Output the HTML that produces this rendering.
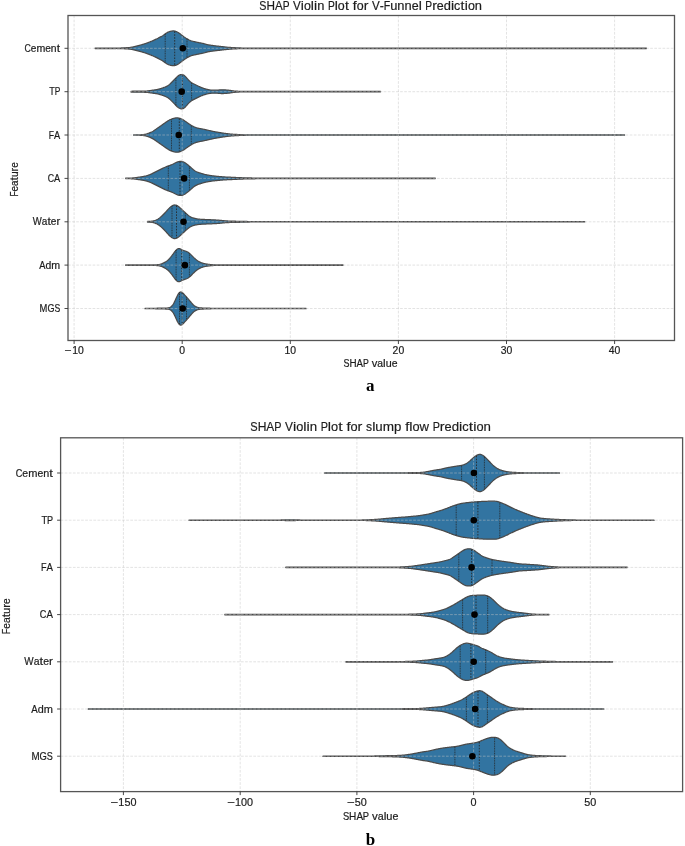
<!DOCTYPE html>
<html><head><meta charset="utf-8"><title>SHAP Violin Plots</title>
<style>
html,body{margin:0;padding:0;background:#fff;}
body{width:685px;height:846px;overflow:hidden;}
svg{display:block;filter:blur(0.3px);}
.tk{font-family:'Liberation Sans', sans-serif;font-size:9.9px;fill:#1c1c1c;stroke:#1c1c1c;stroke-width:0.2px;}
.ti{font-family:'Liberation Sans', sans-serif;font-size:11.3px;fill:#1c1c1c;stroke:#1c1c1c;stroke-width:0.18px;}
.pn{font-family:'Liberation Serif',serif;font-weight:bold;font-size:17px;fill:#000;}
</style></head><body>
<svg width="685" height="846" viewBox="0 0 685 846">
<rect width="685" height="846" fill="#fff"/>
<path d="M95.1,48.10 L116.1,48.10 L116.6,48.10 L117.1,48.09 L117.6,48.09 L118.1,48.08 L118.6,48.07 L119.1,48.06 L119.6,48.04 L120.1,48.02 L120.6,48.01 L121.1,47.99 L121.6,47.96 L122.1,47.94 L122.6,47.92 L123.1,47.89 L123.6,47.87 L124.1,47.85 L124.6,47.82 L125.1,47.79 L125.6,47.77 L126.1,47.74 L126.6,47.71 L127.1,47.68 L127.6,47.65 L128.1,47.62 L128.6,47.58 L129.1,47.54 L129.6,47.50 L130.1,47.45 L130.6,47.39 L131.1,47.32 L131.6,47.24 L132.1,47.15 L132.6,47.05 L133.1,46.94 L133.6,46.82 L134.1,46.69 L134.6,46.56 L135.1,46.43 L135.6,46.30 L136.1,46.17 L136.6,46.04 L137.1,45.91 L137.6,45.78 L138.1,45.66 L138.6,45.53 L139.1,45.40 L139.6,45.28 L140.1,45.15 L140.6,45.02 L141.1,44.88 L141.6,44.74 L142.1,44.60 L142.6,44.46 L143.1,44.31 L143.6,44.15 L144.1,43.99 L144.6,43.83 L145.1,43.67 L145.6,43.50 L146.1,43.32 L146.6,43.15 L147.1,42.97 L147.6,42.79 L148.1,42.60 L148.6,42.41 L149.1,42.22 L149.6,42.03 L150.1,41.83 L150.6,41.63 L151.1,41.43 L151.6,41.22 L152.1,41.01 L152.6,40.80 L153.1,40.58 L153.6,40.36 L154.1,40.13 L154.6,39.90 L155.1,39.67 L155.6,39.43 L156.1,39.18 L156.6,38.94 L157.1,38.69 L157.6,38.44 L158.1,38.18 L158.6,37.92 L159.1,37.67 L159.6,37.41 L160.1,37.15 L160.6,36.89 L161.1,36.62 L161.6,36.35 L162.1,36.06 L162.6,35.75 L163.1,35.42 L163.6,35.07 L164.1,34.71 L164.6,34.33 L165.1,33.97 L165.6,33.61 L166.1,33.27 L166.6,32.96 L167.1,32.67 L167.6,32.41 L168.1,32.17 L168.6,31.95 L169.1,31.76 L169.6,31.59 L170.1,31.44 L170.6,31.31 L171.1,31.19 L171.6,31.09 L172.1,31.01 L172.6,30.96 L173.1,30.94 L173.6,30.94 L174.1,30.98 L174.6,31.06 L175.1,31.17 L175.6,31.31 L176.1,31.49 L176.6,31.69 L177.1,31.93 L177.6,32.19 L178.1,32.48 L178.6,32.80 L179.1,33.14 L179.6,33.50 L180.1,33.87 L180.6,34.25 L181.1,34.64 L181.6,35.03 L182.1,35.42 L182.6,35.80 L183.1,36.18 L183.6,36.55 L184.1,36.91 L184.6,37.25 L185.1,37.59 L185.6,37.91 L186.1,38.23 L186.6,38.53 L187.1,38.82 L187.6,39.11 L188.1,39.40 L188.6,39.67 L189.1,39.94 L189.6,40.19 L190.1,40.43 L190.6,40.64 L191.1,40.83 L191.6,41.00 L192.1,41.14 L192.6,41.27 L193.1,41.39 L193.6,41.50 L194.1,41.60 L194.6,41.71 L195.1,41.81 L195.6,41.92 L196.1,42.03 L196.6,42.14 L197.1,42.25 L197.6,42.35 L198.1,42.46 L198.6,42.56 L199.1,42.67 L199.6,42.76 L200.1,42.86 L200.6,42.95 L201.1,43.04 L201.6,43.14 L202.1,43.24 L202.6,43.35 L203.1,43.47 L203.6,43.59 L204.1,43.73 L204.6,43.87 L205.1,44.02 L205.6,44.16 L206.1,44.30 L206.6,44.44 L207.1,44.56 L207.6,44.68 L208.1,44.78 L208.6,44.88 L209.1,44.97 L209.6,45.05 L210.1,45.13 L210.6,45.21 L211.1,45.28 L211.6,45.35 L212.1,45.42 L212.6,45.49 L213.1,45.55 L213.6,45.62 L214.1,45.68 L214.6,45.75 L215.1,45.81 L215.6,45.87 L216.1,45.94 L216.6,46.00 L217.1,46.06 L217.6,46.11 L218.1,46.17 L218.6,46.23 L219.1,46.29 L219.6,46.34 L220.1,46.40 L220.6,46.46 L221.1,46.51 L221.6,46.57 L222.1,46.63 L222.6,46.68 L223.1,46.74 L223.6,46.80 L224.1,46.86 L224.6,46.92 L225.1,46.98 L225.6,47.04 L226.1,47.09 L226.6,47.15 L227.1,47.20 L227.6,47.25 L228.1,47.30 L228.6,47.34 L229.1,47.38 L229.6,47.42 L230.1,47.46 L230.6,47.49 L231.1,47.52 L231.6,47.55 L232.1,47.58 L232.6,47.61 L233.1,47.64 L233.6,47.66 L234.1,47.69 L234.6,47.71 L235.1,47.74 L235.6,47.76 L236.1,47.78 L236.6,47.80 L237.1,47.82 L237.6,47.85 L238.1,47.87 L238.6,47.89 L239.1,47.91 L239.6,47.93 L240.1,47.94 L240.6,47.96 L241.1,47.98 L241.6,48.00 L242.1,48.01 L242.6,48.03 L243.1,48.04 L243.6,48.06 L244.1,48.07 L244.6,48.08 L245.1,48.09 L245.6,48.09 L246.1,48.10 L246.6,48.10 L247.1,48.10 L646.4,48.10 L646.4,48.50 L247.1,48.50 L246.6,48.50 L246.1,48.50 L245.6,48.51 L245.1,48.51 L244.6,48.52 L244.1,48.53 L243.6,48.54 L243.1,48.56 L242.6,48.57 L242.1,48.59 L241.6,48.60 L241.1,48.62 L240.6,48.64 L240.1,48.66 L239.6,48.67 L239.1,48.69 L238.6,48.71 L238.1,48.73 L237.6,48.75 L237.1,48.78 L236.6,48.80 L236.1,48.82 L235.6,48.84 L235.1,48.86 L234.6,48.89 L234.1,48.91 L233.6,48.94 L233.1,48.96 L232.6,48.99 L232.1,49.02 L231.6,49.05 L231.1,49.08 L230.6,49.11 L230.1,49.14 L229.6,49.18 L229.1,49.22 L228.6,49.26 L228.1,49.30 L227.6,49.35 L227.1,49.40 L226.6,49.45 L226.1,49.51 L225.6,49.56 L225.1,49.62 L224.6,49.68 L224.1,49.74 L223.6,49.80 L223.1,49.86 L222.6,49.92 L222.1,49.97 L221.6,50.03 L221.1,50.09 L220.6,50.14 L220.1,50.20 L219.6,50.26 L219.1,50.31 L218.6,50.37 L218.1,50.43 L217.6,50.49 L217.1,50.54 L216.6,50.60 L216.1,50.66 L215.6,50.73 L215.1,50.79 L214.6,50.85 L214.1,50.92 L213.6,50.98 L213.1,51.05 L212.6,51.11 L212.1,51.18 L211.6,51.25 L211.1,51.32 L210.6,51.39 L210.1,51.47 L209.6,51.55 L209.1,51.63 L208.6,51.72 L208.1,51.82 L207.6,51.92 L207.1,52.04 L206.6,52.16 L206.1,52.30 L205.6,52.44 L205.1,52.58 L204.6,52.73 L204.1,52.87 L203.6,53.01 L203.1,53.13 L202.6,53.25 L202.1,53.36 L201.6,53.46 L201.1,53.56 L200.6,53.65 L200.1,53.74 L199.6,53.84 L199.1,53.93 L198.6,54.04 L198.1,54.14 L197.6,54.25 L197.1,54.35 L196.6,54.46 L196.1,54.57 L195.6,54.68 L195.1,54.79 L194.6,54.89 L194.1,55.00 L193.6,55.10 L193.1,55.21 L192.6,55.33 L192.1,55.46 L191.6,55.60 L191.1,55.77 L190.6,55.96 L190.1,56.17 L189.6,56.41 L189.1,56.66 L188.6,56.93 L188.1,57.20 L187.6,57.49 L187.1,57.78 L186.6,58.07 L186.1,58.37 L185.6,58.69 L185.1,59.01 L184.6,59.35 L184.1,59.69 L183.6,60.05 L183.1,60.42 L182.6,60.80 L182.1,61.18 L181.6,61.57 L181.1,61.96 L180.6,62.35 L180.1,62.73 L179.6,63.10 L179.1,63.46 L178.6,63.80 L178.1,64.12 L177.6,64.41 L177.1,64.67 L176.6,64.91 L176.1,65.11 L175.6,65.29 L175.1,65.43 L174.6,65.54 L174.1,65.62 L173.6,65.66 L173.1,65.66 L172.6,65.64 L172.1,65.59 L171.6,65.51 L171.1,65.41 L170.6,65.29 L170.1,65.16 L169.6,65.01 L169.1,64.84 L168.6,64.65 L168.1,64.43 L167.6,64.19 L167.1,63.93 L166.6,63.64 L166.1,63.33 L165.6,62.99 L165.1,62.63 L164.6,62.27 L164.1,61.89 L163.6,61.53 L163.1,61.18 L162.6,60.85 L162.1,60.54 L161.6,60.25 L161.1,59.98 L160.6,59.71 L160.1,59.45 L159.6,59.19 L159.1,58.93 L158.6,58.68 L158.1,58.42 L157.6,58.16 L157.1,57.91 L156.6,57.66 L156.1,57.42 L155.6,57.17 L155.1,56.93 L154.6,56.70 L154.1,56.47 L153.6,56.24 L153.1,56.02 L152.6,55.80 L152.1,55.59 L151.6,55.38 L151.1,55.17 L150.6,54.97 L150.1,54.77 L149.6,54.57 L149.1,54.38 L148.6,54.19 L148.1,54.00 L147.6,53.81 L147.1,53.63 L146.6,53.45 L146.1,53.28 L145.6,53.10 L145.1,52.93 L144.6,52.77 L144.1,52.61 L143.6,52.45 L143.1,52.29 L142.6,52.14 L142.1,52.00 L141.6,51.86 L141.1,51.72 L140.6,51.58 L140.1,51.45 L139.6,51.32 L139.1,51.20 L138.6,51.07 L138.1,50.94 L137.6,50.82 L137.1,50.69 L136.6,50.56 L136.1,50.43 L135.6,50.30 L135.1,50.17 L134.6,50.04 L134.1,49.91 L133.6,49.78 L133.1,49.66 L132.6,49.55 L132.1,49.45 L131.6,49.36 L131.1,49.28 L130.6,49.21 L130.1,49.15 L129.6,49.10 L129.1,49.06 L128.6,49.02 L128.1,48.98 L127.6,48.95 L127.1,48.92 L126.6,48.89 L126.1,48.86 L125.6,48.83 L125.1,48.81 L124.6,48.78 L124.1,48.75 L123.6,48.73 L123.1,48.71 L122.6,48.68 L122.1,48.66 L121.6,48.64 L121.1,48.61 L120.6,48.59 L120.1,48.58 L119.6,48.56 L119.1,48.54 L118.6,48.53 L118.1,48.52 L117.6,48.51 L117.1,48.51 L116.6,48.50 L116.1,48.50 L115.1,48.50 L95.1,48.50Z" fill="#3274a1" stroke="#4a4a4a" stroke-width="1.25" stroke-linejoin="round"/>
<path d="M131.0,91.29 L131.5,91.27 L132.0,91.26 L132.5,91.24 L133.0,91.23 L133.5,91.21 L134.0,91.20 L134.5,91.19 L135.0,91.18 L135.5,91.17 L136.0,91.16 L136.5,91.15 L137.0,91.15 L137.5,91.14 L138.0,91.14 L138.5,91.14 L139.0,91.13 L139.5,91.13 L140.0,91.13 L140.5,91.12 L141.0,91.12 L141.5,91.12 L142.0,91.11 L142.5,91.11 L143.0,91.10 L143.5,91.10 L144.0,91.09 L144.5,91.08 L145.0,91.07 L145.5,91.06 L146.0,91.03 L146.5,91.00 L147.0,90.97 L147.5,90.92 L148.0,90.86 L148.5,90.80 L149.0,90.73 L149.5,90.66 L150.0,90.58 L150.5,90.51 L151.0,90.43 L151.5,90.36 L152.0,90.29 L152.5,90.22 L153.0,90.15 L153.5,90.08 L154.0,90.01 L154.5,89.94 L155.0,89.87 L155.5,89.80 L156.0,89.72 L156.5,89.63 L157.0,89.54 L157.5,89.44 L158.0,89.33 L158.5,89.21 L159.0,89.08 L159.5,88.94 L160.0,88.79 L160.5,88.64 L161.0,88.48 L161.5,88.32 L162.0,88.15 L162.5,87.98 L163.0,87.81 L163.5,87.63 L164.0,87.45 L164.5,87.26 L165.0,87.07 L165.5,86.86 L166.0,86.64 L166.5,86.39 L167.0,86.13 L167.5,85.84 L168.0,85.52 L168.5,85.18 L169.0,84.80 L169.5,84.39 L170.0,83.95 L170.5,83.48 L171.0,83.00 L171.5,82.50 L172.0,82.00 L172.5,81.49 L173.0,80.98 L173.5,80.48 L174.0,79.96 L174.5,79.44 L175.0,78.91 L175.5,78.37 L176.0,77.84 L176.5,77.33 L177.0,76.84 L177.5,76.39 L178.0,75.98 L178.5,75.62 L179.0,75.30 L179.5,75.04 L180.0,74.82 L180.5,74.66 L181.0,74.56 L181.5,74.51 L182.0,74.53 L182.5,74.62 L183.0,74.77 L183.5,75.00 L184.0,75.30 L184.5,75.67 L185.0,76.11 L185.5,76.60 L186.0,77.15 L186.5,77.72 L187.0,78.30 L187.5,78.87 L188.0,79.42 L188.5,79.96 L189.0,80.47 L189.5,80.95 L190.0,81.41 L190.5,81.83 L191.0,82.22 L191.5,82.57 L192.0,82.89 L192.5,83.18 L193.0,83.45 L193.5,83.70 L194.0,83.95 L194.5,84.20 L195.0,84.44 L195.5,84.69 L196.0,84.95 L196.5,85.20 L197.0,85.46 L197.5,85.71 L198.0,85.96 L198.5,86.21 L199.0,86.45 L199.5,86.68 L200.0,86.91 L200.5,87.14 L201.0,87.35 L201.5,87.56 L202.0,87.76 L202.5,87.95 L203.0,88.14 L203.5,88.32 L204.0,88.49 L204.5,88.65 L205.0,88.80 L205.5,88.95 L206.0,89.09 L206.5,89.23 L207.0,89.35 L207.5,89.47 L208.0,89.58 L208.5,89.68 L209.0,89.77 L209.5,89.86 L210.0,89.93 L210.5,90.00 L211.0,90.06 L211.5,90.10 L212.0,90.13 L212.5,90.16 L213.0,90.18 L213.5,90.19 L214.0,90.20 L214.5,90.20 L215.0,90.20 L215.5,90.20 L216.0,90.19 L216.5,90.17 L217.0,90.14 L217.5,90.10 L218.0,90.06 L218.5,90.02 L219.0,89.97 L219.5,89.93 L220.0,89.89 L220.5,89.85 L221.0,89.83 L221.5,89.81 L222.0,89.80 L222.5,89.80 L223.0,89.81 L223.5,89.83 L224.0,89.85 L224.5,89.87 L225.0,89.90 L225.5,89.93 L226.0,89.97 L226.5,90.00 L227.0,90.04 L227.5,90.09 L228.0,90.14 L228.5,90.20 L229.0,90.26 L229.5,90.33 L230.0,90.41 L230.5,90.49 L231.0,90.56 L231.5,90.64 L232.0,90.72 L232.5,90.79 L233.0,90.85 L233.5,90.91 L234.0,90.97 L234.5,91.01 L235.0,91.06 L235.5,91.10 L236.0,91.14 L236.5,91.18 L237.0,91.21 L237.5,91.24 L238.0,91.28 L238.5,91.30 L239.0,91.33 L239.5,91.36 L240.0,91.38 L240.5,91.40 L241.0,91.42 L241.5,91.44 L242.0,91.45 L242.5,91.46 L243.0,91.46 L243.5,91.47 L244.0,91.47 L245.0,91.47 L380.5,91.47 L380.5,91.87 L244.0,91.87 L243.5,91.87 L243.0,91.88 L242.5,91.88 L242.0,91.89 L241.5,91.90 L241.0,91.92 L240.5,91.94 L240.0,91.96 L239.5,91.98 L239.0,92.01 L238.5,92.04 L238.0,92.06 L237.5,92.10 L237.0,92.13 L236.5,92.16 L236.0,92.20 L235.5,92.24 L235.0,92.28 L234.5,92.33 L234.0,92.37 L233.5,92.43 L233.0,92.49 L232.5,92.55 L232.0,92.62 L231.5,92.70 L231.0,92.78 L230.5,92.85 L230.0,92.93 L229.5,93.01 L229.0,93.08 L228.5,93.14 L228.0,93.20 L227.5,93.25 L227.0,93.30 L226.5,93.34 L226.0,93.37 L225.5,93.41 L225.0,93.44 L224.5,93.47 L224.0,93.49 L223.5,93.51 L223.0,93.53 L222.5,93.54 L222.0,93.54 L221.5,93.53 L221.0,93.51 L220.5,93.49 L220.0,93.45 L219.5,93.41 L219.0,93.37 L218.5,93.32 L218.0,93.28 L217.5,93.24 L217.0,93.20 L216.5,93.17 L216.0,93.15 L215.5,93.14 L215.0,93.14 L214.5,93.14 L214.0,93.14 L213.5,93.15 L213.0,93.16 L212.5,93.18 L212.0,93.21 L211.5,93.24 L211.0,93.28 L210.5,93.34 L210.0,93.41 L209.5,93.48 L209.0,93.57 L208.5,93.66 L208.0,93.76 L207.5,93.87 L207.0,93.99 L206.5,94.11 L206.0,94.25 L205.5,94.39 L205.0,94.54 L204.5,94.69 L204.0,94.85 L203.5,95.02 L203.0,95.20 L202.5,95.39 L202.0,95.58 L201.5,95.78 L201.0,95.99 L200.5,96.20 L200.0,96.43 L199.5,96.66 L199.0,96.89 L198.5,97.13 L198.0,97.38 L197.5,97.63 L197.0,97.88 L196.5,98.14 L196.0,98.39 L195.5,98.65 L195.0,98.90 L194.5,99.14 L194.0,99.39 L193.5,99.64 L193.0,99.89 L192.5,100.16 L192.0,100.45 L191.5,100.77 L191.0,101.12 L190.5,101.51 L190.0,101.93 L189.5,102.39 L189.0,102.87 L188.5,103.38 L188.0,103.92 L187.5,104.47 L187.0,105.04 L186.5,105.62 L186.0,106.19 L185.5,106.74 L185.0,107.23 L184.5,107.67 L184.0,108.04 L183.5,108.34 L183.0,108.57 L182.5,108.72 L182.0,108.81 L181.5,108.83 L181.0,108.78 L180.5,108.68 L180.0,108.52 L179.5,108.30 L179.0,108.04 L178.5,107.72 L178.0,107.36 L177.5,106.95 L177.0,106.50 L176.5,106.01 L176.0,105.50 L175.5,104.97 L175.0,104.43 L174.5,103.90 L174.0,103.38 L173.5,102.86 L173.0,102.36 L172.5,101.85 L172.0,101.34 L171.5,100.84 L171.0,100.34 L170.5,99.86 L170.0,99.39 L169.5,98.95 L169.0,98.54 L168.5,98.16 L168.0,97.82 L167.5,97.50 L167.0,97.21 L166.5,96.95 L166.0,96.70 L165.5,96.48 L165.0,96.27 L164.5,96.08 L164.0,95.89 L163.5,95.71 L163.0,95.53 L162.5,95.36 L162.0,95.19 L161.5,95.02 L161.0,94.86 L160.5,94.70 L160.0,94.55 L159.5,94.40 L159.0,94.26 L158.5,94.13 L158.0,94.01 L157.5,93.90 L157.0,93.80 L156.5,93.71 L156.0,93.62 L155.5,93.54 L155.0,93.47 L154.5,93.40 L154.0,93.33 L153.5,93.26 L153.0,93.19 L152.5,93.12 L152.0,93.05 L151.5,92.98 L151.0,92.91 L150.5,92.83 L150.0,92.76 L149.5,92.68 L149.0,92.61 L148.5,92.54 L148.0,92.48 L147.5,92.42 L147.0,92.37 L146.5,92.34 L146.0,92.31 L145.5,92.28 L145.0,92.27 L144.5,92.26 L144.0,92.25 L143.5,92.24 L143.0,92.24 L142.5,92.23 L142.0,92.23 L141.5,92.22 L141.0,92.22 L140.5,92.22 L140.0,92.21 L139.5,92.21 L139.0,92.21 L138.5,92.20 L138.0,92.20 L137.5,92.20 L137.0,92.19 L136.5,92.19 L136.0,92.18 L135.5,92.17 L135.0,92.16 L134.5,92.15 L134.0,92.14 L133.5,92.13 L133.0,92.11 L132.5,92.10 L132.0,92.08 L131.5,92.07 L131.0,92.05Z" fill="#3274a1" stroke="#4a4a4a" stroke-width="1.25" stroke-linejoin="round"/>
<path d="M133.6,134.84 L138.1,134.84 L138.6,134.84 L139.1,134.83 L139.6,134.82 L140.1,134.81 L140.6,134.79 L141.1,134.77 L141.6,134.74 L142.1,134.70 L142.6,134.65 L143.1,134.60 L143.6,134.54 L144.1,134.47 L144.6,134.39 L145.1,134.30 L145.6,134.20 L146.1,134.08 L146.6,133.95 L147.1,133.80 L147.6,133.63 L148.1,133.45 L148.6,133.26 L149.1,133.06 L149.6,132.85 L150.1,132.65 L150.6,132.44 L151.1,132.22 L151.6,131.99 L152.1,131.75 L152.6,131.48 L153.1,131.19 L153.6,130.88 L154.1,130.55 L154.6,130.21 L155.1,129.86 L155.6,129.51 L156.1,129.16 L156.6,128.80 L157.1,128.45 L157.6,128.10 L158.1,127.75 L158.6,127.41 L159.1,127.06 L159.6,126.71 L160.1,126.37 L160.6,126.02 L161.1,125.67 L161.6,125.31 L162.1,124.96 L162.6,124.60 L163.1,124.24 L163.6,123.88 L164.1,123.52 L164.6,123.17 L165.1,122.82 L165.6,122.47 L166.1,122.13 L166.6,121.79 L167.1,121.45 L167.6,121.12 L168.1,120.80 L168.6,120.49 L169.1,120.20 L169.6,119.93 L170.1,119.68 L170.6,119.45 L171.1,119.23 L171.6,119.04 L172.1,118.86 L172.6,118.70 L173.1,118.55 L173.6,118.41 L174.1,118.28 L174.6,118.16 L175.1,118.06 L175.6,117.97 L176.1,117.91 L176.6,117.88 L177.1,117.87 L177.6,117.90 L178.1,117.96 L178.6,118.04 L179.1,118.15 L179.6,118.29 L180.1,118.45 L180.6,118.63 L181.1,118.83 L181.6,119.05 L182.1,119.30 L182.6,119.56 L183.1,119.84 L183.6,120.15 L184.1,120.46 L184.6,120.80 L185.1,121.15 L185.6,121.50 L186.1,121.86 L186.6,122.22 L187.1,122.58 L187.6,122.93 L188.1,123.28 L188.6,123.62 L189.1,123.95 L189.6,124.28 L190.1,124.60 L190.6,124.91 L191.1,125.21 L191.6,125.51 L192.1,125.79 L192.6,126.07 L193.1,126.33 L193.6,126.59 L194.1,126.83 L194.6,127.05 L195.1,127.26 L195.6,127.45 L196.1,127.62 L196.6,127.77 L197.1,127.92 L197.6,128.05 L198.1,128.17 L198.6,128.28 L199.1,128.39 L199.6,128.49 L200.1,128.58 L200.6,128.68 L201.1,128.78 L201.6,128.87 L202.1,128.97 L202.6,129.06 L203.1,129.16 L203.6,129.26 L204.1,129.37 L204.6,129.47 L205.1,129.58 L205.6,129.69 L206.1,129.80 L206.6,129.92 L207.1,130.03 L207.6,130.15 L208.1,130.26 L208.6,130.38 L209.1,130.49 L209.6,130.61 L210.1,130.72 L210.6,130.84 L211.1,130.95 L211.6,131.06 L212.1,131.17 L212.6,131.28 L213.1,131.39 L213.6,131.49 L214.1,131.59 L214.6,131.69 L215.1,131.78 L215.6,131.88 L216.1,131.97 L216.6,132.06 L217.1,132.15 L217.6,132.24 L218.1,132.32 L218.6,132.41 L219.1,132.49 L219.6,132.57 L220.1,132.65 L220.6,132.73 L221.1,132.81 L221.6,132.88 L222.1,132.96 L222.6,133.03 L223.1,133.10 L223.6,133.18 L224.1,133.25 L224.6,133.32 L225.1,133.38 L225.6,133.45 L226.1,133.52 L226.6,133.58 L227.1,133.65 L227.6,133.71 L228.1,133.78 L228.6,133.84 L229.1,133.90 L229.6,133.95 L230.1,134.01 L230.6,134.06 L231.1,134.10 L231.6,134.14 L232.1,134.18 L232.6,134.22 L233.1,134.26 L233.6,134.29 L234.1,134.32 L234.6,134.35 L235.1,134.38 L235.6,134.40 L236.1,134.43 L236.6,134.46 L237.1,134.48 L237.6,134.51 L238.1,134.53 L238.6,134.56 L239.1,134.58 L239.6,134.61 L240.1,134.63 L240.6,134.66 L241.1,134.68 L241.6,134.70 L242.1,134.72 L242.6,134.74 L243.1,134.76 L243.6,134.78 L244.1,134.80 L244.6,134.81 L245.1,134.82 L245.6,134.83 L246.1,134.83 L246.6,134.84 L247.1,134.84 L248.6,134.84 L624.5,134.84 L624.5,135.24 L247.1,135.24 L246.6,135.24 L246.1,135.25 L245.6,135.25 L245.1,135.26 L244.6,135.27 L244.1,135.28 L243.6,135.30 L243.1,135.32 L242.6,135.34 L242.1,135.36 L241.6,135.38 L241.1,135.40 L240.6,135.42 L240.1,135.45 L239.6,135.47 L239.1,135.50 L238.6,135.52 L238.1,135.55 L237.6,135.57 L237.1,135.60 L236.6,135.62 L236.1,135.65 L235.6,135.68 L235.1,135.70 L234.6,135.73 L234.1,135.76 L233.6,135.79 L233.1,135.82 L232.6,135.86 L232.1,135.90 L231.6,135.94 L231.1,135.98 L230.6,136.02 L230.1,136.07 L229.6,136.13 L229.1,136.18 L228.6,136.24 L228.1,136.30 L227.6,136.37 L227.1,136.43 L226.6,136.50 L226.1,136.56 L225.6,136.63 L225.1,136.70 L224.6,136.76 L224.1,136.83 L223.6,136.90 L223.1,136.98 L222.6,137.05 L222.1,137.12 L221.6,137.20 L221.1,137.27 L220.6,137.35 L220.1,137.43 L219.6,137.51 L219.1,137.59 L218.6,137.67 L218.1,137.76 L217.6,137.84 L217.1,137.93 L216.6,138.02 L216.1,138.11 L215.6,138.20 L215.1,138.30 L214.6,138.39 L214.1,138.49 L213.6,138.59 L213.1,138.69 L212.6,138.80 L212.1,138.91 L211.6,139.02 L211.1,139.13 L210.6,139.24 L210.1,139.36 L209.6,139.47 L209.1,139.59 L208.6,139.70 L208.1,139.82 L207.6,139.93 L207.1,140.05 L206.6,140.16 L206.1,140.28 L205.6,140.39 L205.1,140.50 L204.6,140.61 L204.1,140.71 L203.6,140.82 L203.1,140.92 L202.6,141.02 L202.1,141.11 L201.6,141.21 L201.1,141.30 L200.6,141.40 L200.1,141.50 L199.6,141.59 L199.1,141.69 L198.6,141.80 L198.1,141.91 L197.6,142.03 L197.1,142.16 L196.6,142.31 L196.1,142.46 L195.6,142.63 L195.1,142.82 L194.6,143.03 L194.1,143.25 L193.6,143.49 L193.1,143.75 L192.6,144.01 L192.1,144.29 L191.6,144.57 L191.1,144.87 L190.6,145.17 L190.1,145.48 L189.6,145.80 L189.1,146.13 L188.6,146.46 L188.1,146.80 L187.6,147.15 L187.1,147.50 L186.6,147.86 L186.1,148.22 L185.6,148.58 L185.1,148.93 L184.6,149.28 L184.1,149.62 L183.6,149.93 L183.1,150.24 L182.6,150.52 L182.1,150.78 L181.6,151.03 L181.1,151.25 L180.6,151.45 L180.1,151.63 L179.6,151.79 L179.1,151.93 L178.6,152.04 L178.1,152.12 L177.6,152.18 L177.1,152.21 L176.6,152.20 L176.1,152.17 L175.6,152.11 L175.1,152.02 L174.6,151.92 L174.1,151.80 L173.6,151.67 L173.1,151.53 L172.6,151.38 L172.1,151.22 L171.6,151.04 L171.1,150.85 L170.6,150.63 L170.1,150.40 L169.6,150.15 L169.1,149.88 L168.6,149.59 L168.1,149.28 L167.6,148.96 L167.1,148.63 L166.6,148.29 L166.1,147.95 L165.6,147.61 L165.1,147.26 L164.6,146.91 L164.1,146.56 L163.6,146.20 L163.1,145.84 L162.6,145.48 L162.1,145.12 L161.6,144.77 L161.1,144.41 L160.6,144.06 L160.1,143.71 L159.6,143.37 L159.1,143.02 L158.6,142.67 L158.1,142.33 L157.6,141.98 L157.1,141.63 L156.6,141.28 L156.1,140.92 L155.6,140.57 L155.1,140.22 L154.6,139.87 L154.1,139.53 L153.6,139.20 L153.1,138.89 L152.6,138.60 L152.1,138.33 L151.6,138.09 L151.1,137.86 L150.6,137.64 L150.1,137.43 L149.6,137.23 L149.1,137.02 L148.6,136.82 L148.1,136.63 L147.6,136.45 L147.1,136.28 L146.6,136.13 L146.1,136.00 L145.6,135.88 L145.1,135.78 L144.6,135.69 L144.1,135.61 L143.6,135.54 L143.1,135.48 L142.6,135.43 L142.1,135.38 L141.6,135.34 L141.1,135.31 L140.6,135.29 L140.1,135.27 L139.6,135.26 L139.1,135.25 L138.6,135.24 L138.1,135.24 L137.1,135.24 L133.6,135.24Z" fill="#3274a1" stroke="#4a4a4a" stroke-width="1.25" stroke-linejoin="round"/>
<path d="M125.6,178.20 L126.1,178.20 L126.6,178.19 L127.1,178.18 L127.6,178.17 L128.1,178.16 L128.6,178.15 L129.1,178.13 L129.6,178.11 L130.1,178.09 L130.6,178.07 L131.1,178.05 L131.6,178.03 L132.1,178.00 L132.6,177.97 L133.1,177.94 L133.6,177.90 L134.1,177.85 L134.6,177.80 L135.1,177.74 L135.6,177.68 L136.1,177.61 L136.6,177.54 L137.1,177.46 L137.6,177.39 L138.1,177.31 L138.6,177.23 L139.1,177.16 L139.6,177.08 L140.1,177.00 L140.6,176.92 L141.1,176.84 L141.6,176.76 L142.1,176.68 L142.6,176.60 L143.1,176.51 L143.6,176.42 L144.1,176.33 L144.6,176.23 L145.1,176.12 L145.6,176.00 L146.1,175.88 L146.6,175.74 L147.1,175.60 L147.6,175.45 L148.1,175.28 L148.6,175.11 L149.1,174.93 L149.6,174.74 L150.1,174.54 L150.6,174.33 L151.1,174.11 L151.6,173.89 L152.1,173.65 L152.6,173.41 L153.1,173.17 L153.6,172.92 L154.1,172.67 L154.6,172.41 L155.1,172.16 L155.6,171.91 L156.1,171.66 L156.6,171.41 L157.1,171.16 L157.6,170.91 L158.1,170.66 L158.6,170.41 L159.1,170.16 L159.6,169.91 L160.1,169.66 L160.6,169.41 L161.1,169.16 L161.6,168.91 L162.1,168.66 L162.6,168.41 L163.1,168.17 L163.6,167.93 L164.1,167.69 L164.6,167.46 L165.1,167.23 L165.6,167.01 L166.1,166.80 L166.6,166.59 L167.1,166.39 L167.6,166.20 L168.1,166.01 L168.6,165.83 L169.1,165.65 L169.6,165.48 L170.1,165.30 L170.6,165.12 L171.1,164.93 L171.6,164.73 L172.1,164.52 L172.6,164.30 L173.1,164.06 L173.6,163.82 L174.1,163.56 L174.6,163.31 L175.1,163.06 L175.6,162.80 L176.1,162.56 L176.6,162.33 L177.1,162.12 L177.6,161.93 L178.1,161.76 L178.6,161.62 L179.1,161.51 L179.6,161.42 L180.1,161.37 L180.6,161.35 L181.1,161.37 L181.6,161.42 L182.1,161.51 L182.6,161.64 L183.1,161.81 L183.6,162.02 L184.1,162.26 L184.6,162.55 L185.1,162.87 L185.6,163.21 L186.1,163.58 L186.6,163.95 L187.1,164.33 L187.6,164.71 L188.1,165.10 L188.6,165.51 L189.1,165.92 L189.6,166.35 L190.1,166.79 L190.6,167.23 L191.1,167.69 L191.6,168.14 L192.1,168.59 L192.6,169.03 L193.1,169.46 L193.6,169.86 L194.1,170.25 L194.6,170.60 L195.1,170.93 L195.6,171.23 L196.1,171.50 L196.6,171.75 L197.1,171.97 L197.6,172.18 L198.1,172.37 L198.6,172.55 L199.1,172.72 L199.6,172.88 L200.1,173.04 L200.6,173.20 L201.1,173.35 L201.6,173.51 L202.1,173.67 L202.6,173.82 L203.1,173.97 L203.6,174.11 L204.1,174.24 L204.6,174.37 L205.1,174.49 L205.6,174.61 L206.1,174.72 L206.6,174.83 L207.1,174.93 L207.6,175.03 L208.1,175.13 L208.6,175.22 L209.1,175.30 L209.6,175.39 L210.1,175.47 L210.6,175.54 L211.1,175.62 L211.6,175.68 L212.1,175.75 L212.6,175.82 L213.1,175.88 L213.6,175.94 L214.1,175.99 L214.6,176.05 L215.1,176.10 L215.6,176.16 L216.1,176.21 L216.6,176.26 L217.1,176.31 L217.6,176.36 L218.1,176.41 L218.6,176.45 L219.1,176.50 L219.6,176.54 L220.1,176.59 L220.6,176.63 L221.1,176.68 L221.6,176.72 L222.1,176.76 L222.6,176.80 L223.1,176.83 L223.6,176.87 L224.1,176.90 L224.6,176.94 L225.1,176.97 L225.6,177.00 L226.1,177.02 L226.6,177.05 L227.1,177.08 L227.6,177.10 L228.1,177.12 L228.6,177.15 L229.1,177.17 L229.6,177.19 L230.1,177.22 L230.6,177.24 L231.1,177.26 L231.6,177.28 L232.1,177.31 L232.6,177.33 L233.1,177.36 L233.6,177.38 L234.1,177.40 L234.6,177.43 L235.1,177.45 L235.6,177.48 L236.1,177.50 L236.6,177.53 L237.1,177.55 L237.6,177.58 L238.1,177.60 L238.6,177.62 L239.1,177.64 L239.6,177.66 L240.1,177.68 L240.6,177.70 L241.1,177.72 L241.6,177.74 L242.1,177.76 L242.6,177.78 L243.1,177.80 L243.6,177.82 L244.1,177.83 L244.6,177.85 L245.1,177.86 L245.6,177.88 L246.1,177.89 L246.6,177.90 L247.1,177.91 L247.6,177.92 L248.1,177.93 L248.6,177.94 L249.1,177.95 L249.6,177.96 L250.1,177.96 L250.6,177.97 L251.1,177.98 L251.6,177.99 L252.1,178.00 L252.6,178.00 L253.1,178.01 L253.6,178.03 L254.1,178.04 L254.6,178.05 L255.1,178.06 L255.6,178.07 L256.1,178.09 L256.6,178.10 L257.1,178.12 L257.6,178.13 L258.1,178.15 L258.6,178.16 L259.1,178.17 L259.6,178.18 L260.1,178.19 L260.6,178.20 L261.1,178.21 L261.6,178.21 L262.1,178.21 L435.3,178.21 L435.3,178.61 L262.1,178.61 L261.6,178.61 L261.1,178.61 L260.6,178.62 L260.1,178.63 L259.6,178.64 L259.1,178.65 L258.6,178.66 L258.1,178.67 L257.6,178.69 L257.1,178.70 L256.6,178.72 L256.1,178.73 L255.6,178.75 L255.1,178.76 L254.6,178.77 L254.1,178.78 L253.6,178.79 L253.1,178.81 L252.6,178.82 L252.1,178.82 L251.6,178.83 L251.1,178.84 L250.6,178.85 L250.1,178.86 L249.6,178.86 L249.1,178.87 L248.6,178.88 L248.1,178.89 L247.6,178.90 L247.1,178.91 L246.6,178.92 L246.1,178.93 L245.6,178.94 L245.1,178.96 L244.6,178.97 L244.1,178.99 L243.6,179.00 L243.1,179.02 L242.6,179.04 L242.1,179.06 L241.6,179.08 L241.1,179.10 L240.6,179.12 L240.1,179.14 L239.6,179.16 L239.1,179.18 L238.6,179.20 L238.1,179.22 L237.6,179.24 L237.1,179.27 L236.6,179.29 L236.1,179.32 L235.6,179.34 L235.1,179.37 L234.6,179.39 L234.1,179.42 L233.6,179.44 L233.1,179.46 L232.6,179.49 L232.1,179.51 L231.6,179.54 L231.1,179.56 L230.6,179.58 L230.1,179.60 L229.6,179.63 L229.1,179.65 L228.6,179.67 L228.1,179.70 L227.6,179.72 L227.1,179.74 L226.6,179.77 L226.1,179.80 L225.6,179.82 L225.1,179.85 L224.6,179.88 L224.1,179.92 L223.6,179.95 L223.1,179.99 L222.6,180.02 L222.1,180.06 L221.6,180.10 L221.1,180.14 L220.6,180.19 L220.1,180.23 L219.6,180.28 L219.1,180.32 L218.6,180.37 L218.1,180.41 L217.6,180.46 L217.1,180.51 L216.6,180.56 L216.1,180.61 L215.6,180.66 L215.1,180.72 L214.6,180.77 L214.1,180.83 L213.6,180.88 L213.1,180.94 L212.6,181.00 L212.1,181.07 L211.6,181.14 L211.1,181.20 L210.6,181.28 L210.1,181.35 L209.6,181.43 L209.1,181.52 L208.6,181.60 L208.1,181.69 L207.6,181.79 L207.1,181.89 L206.6,181.99 L206.1,182.10 L205.6,182.21 L205.1,182.33 L204.6,182.45 L204.1,182.58 L203.6,182.71 L203.1,182.85 L202.6,183.00 L202.1,183.15 L201.6,183.31 L201.1,183.47 L200.6,183.62 L200.1,183.78 L199.6,183.94 L199.1,184.10 L198.6,184.27 L198.1,184.45 L197.6,184.64 L197.1,184.85 L196.6,185.07 L196.1,185.32 L195.6,185.59 L195.1,185.89 L194.6,186.22 L194.1,186.57 L193.6,186.96 L193.1,187.36 L192.6,187.79 L192.1,188.23 L191.6,188.68 L191.1,189.13 L190.6,189.59 L190.1,190.03 L189.6,190.47 L189.1,190.90 L188.6,191.31 L188.1,191.72 L187.6,192.11 L187.1,192.49 L186.6,192.87 L186.1,193.24 L185.6,193.61 L185.1,193.95 L184.6,194.27 L184.1,194.56 L183.6,194.80 L183.1,195.01 L182.6,195.18 L182.1,195.31 L181.6,195.40 L181.1,195.45 L180.6,195.47 L180.1,195.45 L179.6,195.40 L179.1,195.31 L178.6,195.20 L178.1,195.06 L177.6,194.89 L177.1,194.70 L176.6,194.49 L176.1,194.26 L175.6,194.02 L175.1,193.76 L174.6,193.51 L174.1,193.26 L173.6,193.00 L173.1,192.76 L172.6,192.52 L172.1,192.30 L171.6,192.09 L171.1,191.89 L170.6,191.70 L170.1,191.52 L169.6,191.34 L169.1,191.17 L168.6,190.99 L168.1,190.81 L167.6,190.62 L167.1,190.43 L166.6,190.23 L166.1,190.02 L165.6,189.81 L165.1,189.59 L164.6,189.36 L164.1,189.13 L163.6,188.89 L163.1,188.65 L162.6,188.41 L162.1,188.16 L161.6,187.91 L161.1,187.66 L160.6,187.41 L160.1,187.16 L159.6,186.91 L159.1,186.66 L158.6,186.41 L158.1,186.16 L157.6,185.91 L157.1,185.66 L156.6,185.41 L156.1,185.16 L155.6,184.91 L155.1,184.66 L154.6,184.41 L154.1,184.15 L153.6,183.90 L153.1,183.65 L152.6,183.41 L152.1,183.17 L151.6,182.93 L151.1,182.71 L150.6,182.49 L150.1,182.28 L149.6,182.08 L149.1,181.89 L148.6,181.71 L148.1,181.54 L147.6,181.37 L147.1,181.22 L146.6,181.08 L146.1,180.94 L145.6,180.82 L145.1,180.70 L144.6,180.59 L144.1,180.49 L143.6,180.40 L143.1,180.31 L142.6,180.22 L142.1,180.14 L141.6,180.06 L141.1,179.98 L140.6,179.90 L140.1,179.82 L139.6,179.74 L139.1,179.66 L138.6,179.59 L138.1,179.51 L137.6,179.43 L137.1,179.36 L136.6,179.28 L136.1,179.21 L135.6,179.14 L135.1,179.08 L134.6,179.02 L134.1,178.97 L133.6,178.92 L133.1,178.88 L132.6,178.85 L132.1,178.82 L131.6,178.79 L131.1,178.77 L130.6,178.75 L130.1,178.73 L129.6,178.71 L129.1,178.69 L128.6,178.67 L128.1,178.66 L127.6,178.65 L127.1,178.64 L126.6,178.63 L126.1,178.62 L125.6,178.62Z" fill="#3274a1" stroke="#4a4a4a" stroke-width="1.25" stroke-linejoin="round"/>
<path d="M147.6,221.37 L148.1,221.36 L148.6,221.36 L149.1,221.35 L149.6,221.34 L150.1,221.32 L150.6,221.30 L151.1,221.26 L151.6,221.21 L152.1,221.15 L152.6,221.07 L153.1,220.98 L153.6,220.86 L154.1,220.73 L154.6,220.58 L155.1,220.41 L155.6,220.21 L156.1,220.00 L156.6,219.76 L157.1,219.51 L157.6,219.23 L158.1,218.93 L158.6,218.61 L159.1,218.26 L159.6,217.89 L160.1,217.50 L160.6,217.09 L161.1,216.65 L161.6,216.20 L162.1,215.74 L162.6,215.27 L163.1,214.78 L163.6,214.29 L164.1,213.78 L164.6,213.27 L165.1,212.74 L165.6,212.19 L166.1,211.63 L166.6,211.07 L167.1,210.50 L167.6,209.93 L168.1,209.38 L168.6,208.84 L169.1,208.33 L169.6,207.83 L170.1,207.37 L170.6,206.93 L171.1,206.53 L171.6,206.16 L172.1,205.82 L172.6,205.53 L173.1,205.30 L173.6,205.12 L174.1,205.01 L174.6,204.97 L175.1,205.00 L175.6,205.08 L176.1,205.21 L176.6,205.39 L177.1,205.62 L177.6,205.90 L178.1,206.23 L178.6,206.60 L179.1,207.00 L179.6,207.43 L180.1,207.88 L180.6,208.33 L181.1,208.79 L181.6,209.26 L182.1,209.73 L182.6,210.20 L183.1,210.66 L183.6,211.13 L184.1,211.60 L184.6,212.07 L185.1,212.53 L185.6,212.99 L186.1,213.44 L186.6,213.89 L187.1,214.33 L187.6,214.75 L188.1,215.16 L188.6,215.55 L189.1,215.91 L189.6,216.25 L190.1,216.56 L190.6,216.85 L191.1,217.11 L191.6,217.35 L192.1,217.56 L192.6,217.75 L193.1,217.92 L193.6,218.08 L194.1,218.22 L194.6,218.36 L195.1,218.48 L195.6,218.60 L196.1,218.70 L196.6,218.80 L197.1,218.88 L197.6,218.96 L198.1,219.02 L198.6,219.08 L199.1,219.13 L199.6,219.17 L200.1,219.22 L200.6,219.25 L201.1,219.29 L201.6,219.32 L202.1,219.35 L202.6,219.38 L203.1,219.41 L203.6,219.44 L204.1,219.46 L204.6,219.49 L205.1,219.51 L205.6,219.53 L206.1,219.55 L206.6,219.57 L207.1,219.59 L207.6,219.62 L208.1,219.64 L208.6,219.66 L209.1,219.68 L209.6,219.70 L210.1,219.72 L210.6,219.74 L211.1,219.76 L211.6,219.78 L212.1,219.80 L212.6,219.82 L213.1,219.84 L213.6,219.86 L214.1,219.89 L214.6,219.91 L215.1,219.94 L215.6,219.97 L216.1,220.00 L216.6,220.03 L217.1,220.06 L217.6,220.10 L218.1,220.13 L218.6,220.17 L219.1,220.21 L219.6,220.26 L220.1,220.31 L220.6,220.36 L221.1,220.42 L221.6,220.47 L222.1,220.53 L222.6,220.59 L223.1,220.64 L223.6,220.69 L224.1,220.74 L224.6,220.78 L225.1,220.82 L225.6,220.85 L226.1,220.89 L226.6,220.92 L227.1,220.95 L227.6,220.98 L228.1,221.00 L228.6,221.03 L229.1,221.05 L229.6,221.07 L230.1,221.10 L230.6,221.11 L231.1,221.13 L231.6,221.15 L232.1,221.16 L232.6,221.18 L233.1,221.19 L233.6,221.20 L234.1,221.21 L234.6,221.22 L235.1,221.23 L235.6,221.24 L236.1,221.25 L236.6,221.25 L237.1,221.26 L237.6,221.27 L238.1,221.28 L238.6,221.28 L239.1,221.29 L239.6,221.30 L240.1,221.31 L240.6,221.32 L241.1,221.33 L241.6,221.34 L242.1,221.35 L242.6,221.36 L243.1,221.37 L243.6,221.39 L244.1,221.40 L244.6,221.41 L245.1,221.43 L245.6,221.44 L246.1,221.46 L246.6,221.47 L247.1,221.49 L247.6,221.50 L248.1,221.52 L248.6,221.53 L249.1,221.54 L249.6,221.56 L250.1,221.56 L250.6,221.57 L251.1,221.58 L251.6,221.58 L252.1,221.58 L584.7,221.58 L584.7,221.98 L252.1,221.98 L251.6,221.98 L251.1,221.98 L250.6,221.99 L250.1,222.00 L249.6,222.00 L249.1,222.02 L248.6,222.03 L248.1,222.04 L247.6,222.06 L247.1,222.07 L246.6,222.09 L246.1,222.10 L245.6,222.12 L245.1,222.13 L244.6,222.15 L244.1,222.16 L243.6,222.17 L243.1,222.19 L242.6,222.20 L242.1,222.21 L241.6,222.22 L241.1,222.23 L240.6,222.24 L240.1,222.25 L239.6,222.26 L239.1,222.27 L238.6,222.28 L238.1,222.28 L237.6,222.29 L237.1,222.30 L236.6,222.31 L236.1,222.31 L235.6,222.32 L235.1,222.33 L234.6,222.34 L234.1,222.35 L233.6,222.36 L233.1,222.37 L232.6,222.38 L232.1,222.40 L231.6,222.41 L231.1,222.43 L230.6,222.45 L230.1,222.46 L229.6,222.49 L229.1,222.51 L228.6,222.53 L228.1,222.56 L227.6,222.58 L227.1,222.61 L226.6,222.64 L226.1,222.67 L225.6,222.71 L225.1,222.74 L224.6,222.78 L224.1,222.82 L223.6,222.87 L223.1,222.92 L222.6,222.97 L222.1,223.03 L221.6,223.09 L221.1,223.14 L220.6,223.20 L220.1,223.25 L219.6,223.30 L219.1,223.35 L218.6,223.39 L218.1,223.43 L217.6,223.46 L217.1,223.50 L216.6,223.53 L216.1,223.56 L215.6,223.59 L215.1,223.62 L214.6,223.65 L214.1,223.67 L213.6,223.70 L213.1,223.72 L212.6,223.74 L212.1,223.76 L211.6,223.78 L211.1,223.80 L210.6,223.82 L210.1,223.84 L209.6,223.86 L209.1,223.88 L208.6,223.90 L208.1,223.92 L207.6,223.94 L207.1,223.97 L206.6,223.99 L206.1,224.01 L205.6,224.03 L205.1,224.05 L204.6,224.07 L204.1,224.10 L203.6,224.12 L203.1,224.15 L202.6,224.18 L202.1,224.21 L201.6,224.24 L201.1,224.27 L200.6,224.31 L200.1,224.34 L199.6,224.39 L199.1,224.43 L198.6,224.48 L198.1,224.54 L197.6,224.60 L197.1,224.68 L196.6,224.76 L196.1,224.86 L195.6,224.96 L195.1,225.08 L194.6,225.20 L194.1,225.34 L193.6,225.48 L193.1,225.64 L192.6,225.81 L192.1,226.00 L191.6,226.21 L191.1,226.45 L190.6,226.71 L190.1,227.00 L189.6,227.31 L189.1,227.65 L188.6,228.01 L188.1,228.40 L187.6,228.81 L187.1,229.23 L186.6,229.67 L186.1,230.12 L185.6,230.57 L185.1,231.03 L184.6,231.49 L184.1,231.96 L183.6,232.43 L183.1,232.90 L182.6,233.36 L182.1,233.83 L181.6,234.30 L181.1,234.77 L180.6,235.23 L180.1,235.68 L179.6,236.13 L179.1,236.56 L178.6,236.96 L178.1,237.33 L177.6,237.66 L177.1,237.94 L176.6,238.17 L176.1,238.35 L175.6,238.48 L175.1,238.56 L174.6,238.59 L174.1,238.55 L173.6,238.44 L173.1,238.26 L172.6,238.03 L172.1,237.74 L171.6,237.40 L171.1,237.03 L170.6,236.63 L170.1,236.19 L169.6,235.73 L169.1,235.23 L168.6,234.72 L168.1,234.18 L167.6,233.63 L167.1,233.06 L166.6,232.49 L166.1,231.93 L165.6,231.37 L165.1,230.82 L164.6,230.29 L164.1,229.78 L163.6,229.27 L163.1,228.78 L162.6,228.29 L162.1,227.82 L161.6,227.36 L161.1,226.91 L160.6,226.47 L160.1,226.06 L159.6,225.67 L159.1,225.30 L158.6,224.95 L158.1,224.63 L157.6,224.33 L157.1,224.05 L156.6,223.80 L156.1,223.56 L155.6,223.35 L155.1,223.15 L154.6,222.98 L154.1,222.83 L153.6,222.70 L153.1,222.58 L152.6,222.49 L152.1,222.41 L151.6,222.35 L151.1,222.30 L150.6,222.26 L150.1,222.24 L149.6,222.22 L149.1,222.21 L148.6,222.20 L148.1,222.20 L147.6,222.19Z" fill="#3274a1" stroke="#4a4a4a" stroke-width="1.25" stroke-linejoin="round"/>
<path d="M125.6,264.95 L149.6,264.95 L150.1,264.95 L150.6,264.94 L151.1,264.94 L151.6,264.94 L152.1,264.93 L152.6,264.92 L153.1,264.91 L153.6,264.90 L154.1,264.89 L154.6,264.87 L155.1,264.85 L155.6,264.84 L156.1,264.81 L156.6,264.79 L157.1,264.76 L157.6,264.71 L158.1,264.66 L158.6,264.59 L159.1,264.50 L159.6,264.40 L160.1,264.27 L160.6,264.13 L161.1,263.97 L161.6,263.79 L162.1,263.60 L162.6,263.39 L163.1,263.17 L163.6,262.93 L164.1,262.67 L164.6,262.39 L165.1,262.11 L165.6,261.81 L166.1,261.49 L166.6,261.15 L167.1,260.79 L167.6,260.40 L168.1,259.97 L168.6,259.51 L169.1,259.01 L169.6,258.48 L170.1,257.91 L170.6,257.32 L171.1,256.70 L171.6,256.06 L172.1,255.40 L172.6,254.72 L173.1,254.03 L173.6,253.33 L174.1,252.63 L174.6,251.94 L175.1,251.28 L175.6,250.66 L176.1,250.10 L176.6,249.62 L177.1,249.23 L177.6,248.93 L178.1,248.73 L178.6,248.63 L179.1,248.63 L179.6,248.72 L180.1,248.88 L180.6,249.10 L181.1,249.35 L181.6,249.61 L182.1,249.85 L182.6,250.09 L183.1,250.30 L183.6,250.50 L184.1,250.69 L184.6,250.86 L185.1,251.03 L185.6,251.20 L186.1,251.38 L186.6,251.57 L187.1,251.79 L187.6,252.04 L188.1,252.33 L188.6,252.65 L189.1,253.02 L189.6,253.43 L190.1,253.87 L190.6,254.34 L191.1,254.83 L191.6,255.34 L192.1,255.86 L192.6,256.37 L193.1,256.88 L193.6,257.37 L194.1,257.86 L194.6,258.32 L195.1,258.77 L195.6,259.21 L196.1,259.62 L196.6,260.02 L197.1,260.39 L197.6,260.75 L198.1,261.08 L198.6,261.39 L199.1,261.67 L199.6,261.93 L200.1,262.17 L200.6,262.39 L201.1,262.60 L201.6,262.79 L202.1,262.96 L202.6,263.13 L203.1,263.28 L203.6,263.42 L204.1,263.56 L204.6,263.68 L205.1,263.79 L205.6,263.89 L206.1,263.98 L206.6,264.07 L207.1,264.14 L207.6,264.22 L208.1,264.29 L208.6,264.35 L209.1,264.41 L209.6,264.47 L210.1,264.52 L210.6,264.57 L211.1,264.62 L211.6,264.66 L212.1,264.70 L212.6,264.74 L213.1,264.78 L213.6,264.82 L214.1,264.85 L214.6,264.87 L215.1,264.90 L215.6,264.92 L216.1,264.93 L216.6,264.94 L217.1,264.94 L217.6,264.95 L218.1,264.95 L219.1,264.95 L343.0,264.95 L343.0,265.35 L218.1,265.35 L217.6,265.35 L217.1,265.36 L216.6,265.36 L216.1,265.37 L215.6,265.38 L215.1,265.40 L214.6,265.43 L214.1,265.45 L213.6,265.48 L213.1,265.52 L212.6,265.56 L212.1,265.60 L211.6,265.64 L211.1,265.68 L210.6,265.73 L210.1,265.78 L209.6,265.83 L209.1,265.89 L208.6,265.95 L208.1,266.01 L207.6,266.08 L207.1,266.16 L206.6,266.23 L206.1,266.32 L205.6,266.41 L205.1,266.51 L204.6,266.62 L204.1,266.74 L203.6,266.88 L203.1,267.02 L202.6,267.17 L202.1,267.34 L201.6,267.51 L201.1,267.70 L200.6,267.91 L200.1,268.13 L199.6,268.37 L199.1,268.63 L198.6,268.91 L198.1,269.22 L197.6,269.55 L197.1,269.91 L196.6,270.28 L196.1,270.68 L195.6,271.09 L195.1,271.53 L194.6,271.98 L194.1,272.44 L193.6,272.93 L193.1,273.42 L192.6,273.93 L192.1,274.44 L191.6,274.96 L191.1,275.47 L190.6,275.96 L190.1,276.43 L189.6,276.87 L189.1,277.28 L188.6,277.65 L188.1,277.97 L187.6,278.26 L187.1,278.51 L186.6,278.73 L186.1,278.92 L185.6,279.10 L185.1,279.27 L184.6,279.44 L184.1,279.61 L183.6,279.80 L183.1,280.00 L182.6,280.21 L182.1,280.45 L181.6,280.69 L181.1,280.95 L180.6,281.20 L180.1,281.42 L179.6,281.58 L179.1,281.67 L178.6,281.67 L178.1,281.57 L177.6,281.37 L177.1,281.07 L176.6,280.68 L176.1,280.20 L175.6,279.64 L175.1,279.02 L174.6,278.36 L174.1,277.67 L173.6,276.97 L173.1,276.27 L172.6,275.58 L172.1,274.90 L171.6,274.24 L171.1,273.60 L170.6,272.98 L170.1,272.39 L169.6,271.82 L169.1,271.29 L168.6,270.79 L168.1,270.33 L167.6,269.90 L167.1,269.51 L166.6,269.15 L166.1,268.81 L165.6,268.49 L165.1,268.19 L164.6,267.91 L164.1,267.63 L163.6,267.37 L163.1,267.13 L162.6,266.91 L162.1,266.70 L161.6,266.51 L161.1,266.33 L160.6,266.17 L160.1,266.03 L159.6,265.90 L159.1,265.80 L158.6,265.71 L158.1,265.64 L157.6,265.59 L157.1,265.54 L156.6,265.51 L156.1,265.49 L155.6,265.46 L155.1,265.45 L154.6,265.43 L154.1,265.41 L153.6,265.40 L153.1,265.39 L152.6,265.38 L152.1,265.37 L151.6,265.36 L151.1,265.36 L150.6,265.36 L150.1,265.35 L149.6,265.35 L148.6,265.35 L125.6,265.35Z" fill="#3274a1" stroke="#4a4a4a" stroke-width="1.25" stroke-linejoin="round"/>
<path d="M145.0,308.32 L152.5,308.32 L153.0,308.32 L153.5,308.32 L154.0,308.31 L154.5,308.31 L155.0,308.30 L155.5,308.28 L156.0,308.27 L156.5,308.25 L157.0,308.23 L157.5,308.21 L158.0,308.19 L158.5,308.17 L159.0,308.15 L159.5,308.13 L160.0,308.12 L160.5,308.11 L161.0,308.09 L161.5,308.08 L162.0,308.08 L162.5,308.07 L163.0,308.06 L163.5,308.06 L164.0,308.05 L164.5,308.05 L165.0,308.05 L165.5,308.04 L166.0,308.04 L166.5,308.02 L167.0,308.01 L167.5,307.98 L168.0,307.93 L168.5,307.85 L169.0,307.73 L169.5,307.56 L170.0,307.33 L170.5,307.05 L171.0,306.69 L171.5,306.28 L172.0,305.78 L172.5,305.21 L173.0,304.54 L173.5,303.77 L174.0,302.88 L174.5,301.90 L175.0,300.84 L175.5,299.73 L176.0,298.60 L176.5,297.49 L177.0,296.43 L177.5,295.42 L178.0,294.51 L178.5,293.70 L179.0,293.03 L179.5,292.51 L180.0,292.16 L180.5,291.99 L181.0,292.00 L181.5,292.16 L182.0,292.45 L182.5,292.83 L183.0,293.29 L183.5,293.78 L184.0,294.30 L184.5,294.84 L185.0,295.38 L185.5,295.93 L186.0,296.47 L186.5,297.03 L187.0,297.58 L187.5,298.15 L188.0,298.72 L188.5,299.30 L189.0,299.88 L189.5,300.48 L190.0,301.08 L190.5,301.68 L191.0,302.27 L191.5,302.87 L192.0,303.44 L192.5,304.00 L193.0,304.52 L193.5,305.00 L194.0,305.43 L194.5,305.81 L195.0,306.14 L195.5,306.43 L196.0,306.69 L196.5,306.91 L197.0,307.11 L197.5,307.28 L198.0,307.44 L198.5,307.57 L199.0,307.69 L199.5,307.78 L200.0,307.85 L200.5,307.90 L201.0,307.94 L201.5,307.97 L202.0,307.99 L202.5,308.01 L203.0,308.02 L203.5,308.03 L204.0,308.05 L204.5,308.06 L205.0,308.07 L205.5,308.09 L206.0,308.10 L206.5,308.12 L207.0,308.14 L207.5,308.15 L208.0,308.17 L208.5,308.19 L209.0,308.21 L209.5,308.23 L210.0,308.24 L210.5,308.26 L211.0,308.28 L211.5,308.29 L212.0,308.30 L212.5,308.31 L213.0,308.31 L213.5,308.32 L214.0,308.32 L215.0,308.32 L306.1,308.32 L306.1,308.72 L214.0,308.72 L213.5,308.72 L213.0,308.73 L212.5,308.73 L212.0,308.74 L211.5,308.75 L211.0,308.76 L210.5,308.78 L210.0,308.80 L209.5,308.81 L209.0,308.83 L208.5,308.85 L208.0,308.87 L207.5,308.89 L207.0,308.90 L206.5,308.92 L206.0,308.94 L205.5,308.95 L205.0,308.97 L204.5,308.98 L204.0,308.99 L203.5,309.01 L203.0,309.02 L202.5,309.03 L202.0,309.05 L201.5,309.07 L201.0,309.10 L200.5,309.14 L200.0,309.19 L199.5,309.26 L199.0,309.35 L198.5,309.47 L198.0,309.60 L197.5,309.76 L197.0,309.93 L196.5,310.13 L196.0,310.35 L195.5,310.61 L195.0,310.90 L194.5,311.23 L194.0,311.61 L193.5,312.04 L193.0,312.52 L192.5,313.04 L192.0,313.60 L191.5,314.17 L191.0,314.77 L190.5,315.36 L190.0,315.96 L189.5,316.56 L189.0,317.16 L188.5,317.74 L188.0,318.32 L187.5,318.89 L187.0,319.46 L186.5,320.01 L186.0,320.57 L185.5,321.11 L185.0,321.66 L184.5,322.20 L184.0,322.74 L183.5,323.26 L183.0,323.75 L182.5,324.21 L182.0,324.59 L181.5,324.88 L181.0,325.04 L180.5,325.05 L180.0,324.88 L179.5,324.53 L179.0,324.01 L178.5,323.34 L178.0,322.53 L177.5,321.62 L177.0,320.61 L176.5,319.55 L176.0,318.44 L175.5,317.31 L175.0,316.20 L174.5,315.14 L174.0,314.16 L173.5,313.27 L173.0,312.50 L172.5,311.83 L172.0,311.26 L171.5,310.76 L171.0,310.35 L170.5,309.99 L170.0,309.71 L169.5,309.48 L169.0,309.31 L168.5,309.19 L168.0,309.11 L167.5,309.06 L167.0,309.03 L166.5,309.02 L166.0,309.00 L165.5,309.00 L165.0,308.99 L164.5,308.99 L164.0,308.99 L163.5,308.98 L163.0,308.98 L162.5,308.97 L162.0,308.96 L161.5,308.96 L161.0,308.95 L160.5,308.93 L160.0,308.92 L159.5,308.91 L159.0,308.89 L158.5,308.87 L158.0,308.85 L157.5,308.83 L157.0,308.81 L156.5,308.79 L156.0,308.77 L155.5,308.76 L155.0,308.74 L154.5,308.73 L154.0,308.73 L153.5,308.72 L153.0,308.72 L152.5,308.72 L145.0,308.72Z" fill="#3274a1" stroke="#4a4a4a" stroke-width="1.25" stroke-linejoin="round"/>
<line x1="165.2" y1="34.21" x2="165.2" y2="62.39" stroke="#262626" stroke-opacity="0.80" stroke-width="1.0" stroke-dasharray="1.0 0.7"/>
<line x1="174.7" y1="31.36" x2="174.7" y2="65.24" stroke="#262626" stroke-opacity="0.85" stroke-width="1.0" stroke-dasharray="1.6 1.3"/>
<line x1="187.0" y1="39.19" x2="187.0" y2="57.41" stroke="#262626" stroke-opacity="0.80" stroke-width="1.0" stroke-dasharray="1.0 0.7"/>
<line x1="175.9" y1="78.31" x2="175.9" y2="105.03" stroke="#262626" stroke-opacity="0.80" stroke-width="1.0" stroke-dasharray="1.0 0.7"/>
<line x1="182.5" y1="74.80" x2="182.5" y2="108.54" stroke="#262626" stroke-opacity="0.85" stroke-width="1.0" stroke-dasharray="1.6 1.3"/>
<line x1="191.6" y1="83.17" x2="191.6" y2="100.17" stroke="#262626" stroke-opacity="0.80" stroke-width="1.0" stroke-dasharray="1.0 0.7"/>
<line x1="171.5" y1="119.43" x2="171.5" y2="150.65" stroke="#262626" stroke-opacity="0.80" stroke-width="1.0" stroke-dasharray="1.0 0.7"/>
<line x1="179.3" y1="118.52" x2="179.3" y2="151.56" stroke="#262626" stroke-opacity="0.85" stroke-width="1.0" stroke-dasharray="1.6 1.3"/>
<line x1="191.3" y1="125.76" x2="191.3" y2="144.32" stroke="#262626" stroke-opacity="0.80" stroke-width="1.0" stroke-dasharray="1.0 0.7"/>
<line x1="168.3" y1="166.33" x2="168.3" y2="190.49" stroke="#262626" stroke-opacity="0.80" stroke-width="1.0" stroke-dasharray="1.0 0.7"/>
<line x1="180.0" y1="161.65" x2="180.0" y2="195.17" stroke="#262626" stroke-opacity="0.85" stroke-width="1.0" stroke-dasharray="1.6 1.3"/>
<line x1="189.4" y1="166.51" x2="189.4" y2="190.31" stroke="#262626" stroke-opacity="0.80" stroke-width="1.0" stroke-dasharray="1.0 0.7"/>
<line x1="172.0" y1="206.18" x2="172.0" y2="237.38" stroke="#262626" stroke-opacity="0.80" stroke-width="1.0" stroke-dasharray="1.0 0.7"/>
<line x1="176.5" y1="205.61" x2="176.5" y2="237.95" stroke="#262626" stroke-opacity="0.85" stroke-width="1.0" stroke-dasharray="1.6 1.3"/>
<line x1="185.3" y1="213.13" x2="185.3" y2="230.43" stroke="#262626" stroke-opacity="0.80" stroke-width="1.0" stroke-dasharray="1.0 0.7"/>
<line x1="176.1" y1="250.15" x2="176.1" y2="280.15" stroke="#262626" stroke-opacity="0.80" stroke-width="1.0" stroke-dasharray="1.0 0.7"/>
<line x1="181.6" y1="250.10" x2="181.6" y2="280.20" stroke="#262626" stroke-opacity="0.85" stroke-width="1.0" stroke-dasharray="1.6 1.3"/>
<line x1="189.4" y1="253.52" x2="189.4" y2="276.78" stroke="#262626" stroke-opacity="0.80" stroke-width="1.0" stroke-dasharray="1.0 0.7"/>
<line x1="179.5" y1="292.36" x2="179.5" y2="324.68" stroke="#262626" stroke-opacity="0.80" stroke-width="1.0" stroke-dasharray="1.0 0.7"/>
<line x1="182.1" y1="292.72" x2="182.1" y2="324.32" stroke="#262626" stroke-opacity="0.85" stroke-width="1.0" stroke-dasharray="1.6 1.3"/>
<line x1="186.5" y1="297.41" x2="186.5" y2="319.63" stroke="#262626" stroke-opacity="0.80" stroke-width="1.0" stroke-dasharray="1.0 0.7"/>
<line x1="74.1" y1="15.5" x2="74.1" y2="340.5" stroke="#c4c4c4" stroke-opacity="0.6" stroke-width="0.8" stroke-dasharray="2.7 1.4"/>
<line x1="182.2" y1="15.5" x2="182.2" y2="340.5" stroke="#c4c4c4" stroke-opacity="0.6" stroke-width="0.8" stroke-dasharray="2.7 1.4"/>
<line x1="290.3" y1="15.5" x2="290.3" y2="340.5" stroke="#c4c4c4" stroke-opacity="0.6" stroke-width="0.8" stroke-dasharray="2.7 1.4"/>
<line x1="398.4" y1="15.5" x2="398.4" y2="340.5" stroke="#c4c4c4" stroke-opacity="0.6" stroke-width="0.8" stroke-dasharray="2.7 1.4"/>
<line x1="506.5" y1="15.5" x2="506.5" y2="340.5" stroke="#c4c4c4" stroke-opacity="0.6" stroke-width="0.8" stroke-dasharray="2.7 1.4"/>
<line x1="614.6" y1="15.5" x2="614.6" y2="340.5" stroke="#c4c4c4" stroke-opacity="0.6" stroke-width="0.8" stroke-dasharray="2.7 1.4"/>
<line x1="68.0" y1="48.3" x2="674.5" y2="48.3" stroke="#c4c4c4" stroke-opacity="0.6" stroke-width="0.8" stroke-dasharray="2.7 1.4"/>
<line x1="68.0" y1="91.7" x2="674.5" y2="91.7" stroke="#c4c4c4" stroke-opacity="0.6" stroke-width="0.8" stroke-dasharray="2.7 1.4"/>
<line x1="68.0" y1="135.0" x2="674.5" y2="135.0" stroke="#c4c4c4" stroke-opacity="0.6" stroke-width="0.8" stroke-dasharray="2.7 1.4"/>
<line x1="68.0" y1="178.4" x2="674.5" y2="178.4" stroke="#c4c4c4" stroke-opacity="0.6" stroke-width="0.8" stroke-dasharray="2.7 1.4"/>
<line x1="68.0" y1="221.8" x2="674.5" y2="221.8" stroke="#c4c4c4" stroke-opacity="0.6" stroke-width="0.8" stroke-dasharray="2.7 1.4"/>
<line x1="68.0" y1="265.1" x2="674.5" y2="265.1" stroke="#c4c4c4" stroke-opacity="0.6" stroke-width="0.8" stroke-dasharray="2.7 1.4"/>
<line x1="68.0" y1="308.5" x2="674.5" y2="308.5" stroke="#c4c4c4" stroke-opacity="0.6" stroke-width="0.8" stroke-dasharray="2.7 1.4"/>
<circle cx="182.8" cy="48.30" r="3.3" fill="#000"/>
<circle cx="181.7" cy="91.67" r="3.3" fill="#000"/>
<circle cx="178.7" cy="135.04" r="3.3" fill="#000"/>
<circle cx="184.1" cy="178.41" r="3.3" fill="#000"/>
<circle cx="183.5" cy="221.78" r="3.3" fill="#000"/>
<circle cx="184.9" cy="265.15" r="3.3" fill="#000"/>
<circle cx="182.7" cy="308.52" r="3.3" fill="#000"/>
<rect x="68.0" y="15.5" width="606.5" height="325.0" fill="none" stroke="#555" stroke-width="1.3"/>
<line x1="74.1" y1="340.5" x2="74.1" y2="344.0" stroke="#333" stroke-width="0.9"/>
<g class="tk" style="font-size:10.22px" text-anchor="middle"><text transform="translate(68.31 353.50) scale(1.180 1)" x="0" y="0">−</text><text transform="translate(75.02 353.50) scale(1.019 1)" x="0" y="0">1</text><text transform="translate(80.81 353.50) scale(1.019 1)" x="0" y="0">0</text></g>
<line x1="182.2" y1="340.5" x2="182.2" y2="344.0" stroke="#333" stroke-width="0.9"/>
<g class="tk" style="font-size:10.22px" text-anchor="middle"><text transform="translate(182.20 353.50) scale(1.019 1)" x="0" y="0">0</text></g>
<line x1="290.3" y1="340.5" x2="290.3" y2="344.0" stroke="#333" stroke-width="0.9"/>
<g class="tk" style="font-size:10.22px" text-anchor="middle"><text transform="translate(287.41 353.50) scale(1.019 1)" x="0" y="0">1</text><text transform="translate(293.19 353.50) scale(1.019 1)" x="0" y="0">0</text></g>
<line x1="398.4" y1="340.5" x2="398.4" y2="344.0" stroke="#333" stroke-width="0.9"/>
<g class="tk" style="font-size:10.22px" text-anchor="middle"><text transform="translate(395.51 353.50) scale(1.019 1)" x="0" y="0">2</text><text transform="translate(401.29 353.50) scale(1.019 1)" x="0" y="0">0</text></g>
<line x1="506.5" y1="340.5" x2="506.5" y2="344.0" stroke="#333" stroke-width="0.9"/>
<g class="tk" style="font-size:10.22px" text-anchor="middle"><text transform="translate(503.61 353.50) scale(1.019 1)" x="0" y="0">3</text><text transform="translate(509.39 353.50) scale(1.019 1)" x="0" y="0">0</text></g>
<line x1="614.6" y1="340.5" x2="614.6" y2="344.0" stroke="#333" stroke-width="0.9"/>
<g class="tk" style="font-size:10.22px" text-anchor="middle"><text transform="translate(611.71 353.50) scale(1.019 1)" x="0" y="0">4</text><text transform="translate(617.49 353.50) scale(1.019 1)" x="0" y="0">0</text></g>
<line x1="64.5" y1="48.3" x2="68.0" y2="48.3" stroke="#333" stroke-width="0.9"/>
<g class="tk" style="font-size:10.22px" text-anchor="middle"><text transform="translate(27.63 51.80) scale(0.861 1)" x="0" y="0">C</text><text transform="translate(33.60 51.80) scale(0.985 1)" x="0" y="0">e</text><text transform="translate(40.83 51.80) scale(1.041 1)" x="0" y="0">m</text><text transform="translate(48.07 51.80) scale(0.985 1)" x="0" y="0">e</text><text transform="translate(53.75 51.80) scale(1.015 1)" x="0" y="0">n</text><text transform="translate(58.42 51.80) scale(1.180 1)" x="0" y="0">t</text></g>
<line x1="64.5" y1="91.7" x2="68.0" y2="91.7" stroke="#333" stroke-width="0.9"/>
<g class="tk" style="font-size:10.22px" text-anchor="middle"><text transform="translate(51.93 95.17) scale(0.890 1)" x="0" y="0">T</text><text transform="translate(57.46 95.17) scale(0.820 1)" x="0" y="0">P</text></g>
<line x1="64.5" y1="135.0" x2="68.0" y2="135.0" stroke="#333" stroke-width="0.9"/>
<g class="tk" style="font-size:10.22px" text-anchor="middle"><text transform="translate(51.36 138.54) scale(0.838 1)" x="0" y="0">F</text><text transform="translate(57.09 138.54) scale(0.913 1)" x="0" y="0">A</text></g>
<line x1="64.5" y1="178.4" x2="68.0" y2="178.4" stroke="#333" stroke-width="0.9"/>
<g class="tk" style="font-size:10.22px" text-anchor="middle"><text transform="translate(50.80 181.91) scale(0.861 1)" x="0" y="0">C</text><text transform="translate(57.09 181.91) scale(0.913 1)" x="0" y="0">A</text></g>
<line x1="64.5" y1="221.8" x2="68.0" y2="221.8" stroke="#333" stroke-width="0.9"/>
<g class="tk" style="font-size:10.22px" text-anchor="middle"><text transform="translate(37.22 225.28) scale(0.933 1)" x="0" y="0">W</text><text transform="translate(44.50 225.28) scale(0.981 1)" x="0" y="0">a</text><text transform="translate(49.08 225.28) scale(1.180 1)" x="0" y="0">t</text><text transform="translate(53.66 225.28) scale(0.985 1)" x="0" y="0">e</text><text transform="translate(58.33 225.28) scale(1.099 1)" x="0" y="0">r</text></g>
<line x1="64.5" y1="265.1" x2="68.0" y2="265.1" stroke="#333" stroke-width="0.9"/>
<g class="tk" style="font-size:10.22px" text-anchor="middle"><text transform="translate(42.45 268.65) scale(0.913 1)" x="0" y="0">A</text><text transform="translate(48.45 268.65) scale(1.016 1)" x="0" y="0">d</text><text transform="translate(55.77 268.65) scale(1.041 1)" x="0" y="0">m</text></g>
<line x1="64.5" y1="308.5" x2="68.0" y2="308.5" stroke="#333" stroke-width="0.9"/>
<g class="tk" style="font-size:10.22px" text-anchor="middle"><text transform="translate(43.45 312.02) scale(0.922 1)" x="0" y="0">M</text><text transform="translate(50.90 312.02) scale(0.887 1)" x="0" y="0">G</text><text transform="translate(57.31 312.02) scale(0.847 1)" x="0" y="0">S</text></g>
<g class="ti" style="font-size:11.87px" text-anchor="middle"><text transform="translate(262.84 10.20) scale(0.906 1)" x="0" y="0">S</text><text transform="translate(270.67 10.20) scale(0.992 1)" x="0" y="0">H</text><text transform="translate(278.78 10.20) scale(0.977 1)" x="0" y="0">A</text><text transform="translate(286.06 10.20) scale(0.861 1)" x="0" y="0">P</text><text transform="translate(296.92 10.20) scale(0.977 1)" x="0" y="0">V</text><text transform="translate(302.36 10.20) scale(1.180 1)" x="0" y="0">i</text><text transform="translate(307.38 10.20) scale(1.048 1)" x="0" y="0">o</text><text transform="translate(312.41 10.20) scale(1.180 1)" x="0" y="0">l</text><text transform="translate(315.55 10.20) scale(1.180 1)" x="0" y="0">i</text><text transform="translate(320.70 10.20) scale(1.085 1)" x="0" y="0">n</text><text transform="translate(331.28 10.20) scale(0.861 1)" x="0" y="0">P</text><text transform="translate(336.26 10.20) scale(1.180 1)" x="0" y="0">l</text><text transform="translate(341.28 10.20) scale(1.048 1)" x="0" y="0">o</text><text transform="translate(346.95 10.20) scale(1.180 1)" x="0" y="0">t</text><text transform="translate(354.75 10.20) scale(1.180 1)" x="0" y="0">f</text><text transform="translate(360.20 10.20) scale(1.048 1)" x="0" y="0">o</text><text transform="translate(365.98 10.20) scale(1.176 1)" x="0" y="0">r</text><text transform="translate(375.76 10.20) scale(0.977 1)" x="0" y="0">V</text><text transform="translate(381.66 10.20) scale(1.032 1)" x="0" y="0">-</text><text transform="translate(386.95 10.20) scale(0.897 1)" x="0" y="0">F</text><text transform="translate(393.78 10.20) scale(1.085 1)" x="0" y="0">u</text><text transform="translate(400.94 10.20) scale(1.085 1)" x="0" y="0">n</text><text transform="translate(408.10 10.20) scale(1.085 1)" x="0" y="0">n</text><text transform="translate(415.16 10.20) scale(1.054 1)" x="0" y="0">e</text><text transform="translate(420.21 10.20) scale(1.180 1)" x="0" y="0">l</text><text transform="translate(428.77 10.20) scale(0.861 1)" x="0" y="0">P</text><text transform="translate(434.50 10.20) scale(1.176 1)" x="0" y="0">r</text><text transform="translate(440.30 10.20) scale(1.054 1)" x="0" y="0">e</text><text transform="translate(447.37 10.20) scale(1.087 1)" x="0" y="0">d</text><text transform="translate(452.52 10.20) scale(1.180 1)" x="0" y="0">i</text><text transform="translate(457.20 10.20) scale(1.047 1)" x="0" y="0">c</text><text transform="translate(462.52 10.20) scale(1.180 1)" x="0" y="0">t</text><text transform="translate(466.31 10.20) scale(1.180 1)" x="0" y="0">i</text><text transform="translate(471.33 10.20) scale(1.048 1)" x="0" y="0">o</text><text transform="translate(478.37 10.20) scale(1.085 1)" x="0" y="0">n</text></g>
<g class="tk" style="font-size:10.61px" text-anchor="middle"><text transform="translate(346.46 366.90) scale(0.847 1)" x="0" y="0">S</text><text transform="translate(353.01 366.90) scale(0.927 1)" x="0" y="0">H</text><text transform="translate(359.79 366.90) scale(0.913 1)" x="0" y="0">A</text><text transform="translate(365.88 366.90) scale(0.820 1)" x="0" y="0">P</text><text transform="translate(374.53 366.90) scale(1.054 1)" x="0" y="0">v</text><text transform="translate(380.22 366.90) scale(0.981 1)" x="0" y="0">a</text><text transform="translate(384.43 366.90) scale(1.113 1)" x="0" y="0">l</text><text transform="translate(388.73 366.90) scale(1.015 1)" x="0" y="0">u</text><text transform="translate(394.63 366.90) scale(0.985 1)" x="0" y="0">e</text></g>
<g transform="translate(18.20 179.40) rotate(-90)">
<g class="tk" style="font-size:10.00px" text-anchor="middle"><text transform="translate(-14.60 0.00) scale(0.838 1)" x="0" y="0">F</text><text transform="translate(-9.30 0.00) scale(0.985 1)" x="0" y="0">e</text><text transform="translate(-3.84 0.00) scale(0.981 1)" x="0" y="0">a</text><text transform="translate(0.64 0.00) scale(1.180 1)" x="0" y="0">t</text><text transform="translate(5.20 0.00) scale(1.015 1)" x="0" y="0">u</text><text transform="translate(9.85 0.00) scale(1.099 1)" x="0" y="0">r</text><text transform="translate(14.42 0.00) scale(0.985 1)" x="0" y="0">e</text></g>
</g>
<text x="370.3" y="391.2" text-anchor="middle" class="pn">a</text>
<path d="M324.6,472.80 L403.6,472.80 L404.1,472.80 L404.6,472.80 L405.1,472.79 L405.6,472.79 L406.1,472.78 L406.6,472.78 L407.1,472.77 L407.6,472.76 L408.1,472.75 L408.6,472.74 L409.1,472.73 L409.6,472.73 L410.1,472.72 L410.6,472.71 L411.1,472.70 L411.6,472.69 L412.1,472.68 L412.6,472.67 L413.1,472.66 L413.6,472.65 L414.1,472.64 L414.6,472.63 L415.1,472.62 L415.6,472.61 L416.1,472.60 L416.6,472.59 L417.1,472.58 L417.6,472.57 L418.1,472.56 L418.6,472.55 L419.1,472.54 L419.6,472.53 L420.1,472.51 L420.6,472.49 L421.1,472.47 L421.6,472.44 L422.1,472.40 L422.6,472.35 L423.1,472.30 L423.6,472.23 L424.1,472.16 L424.6,472.08 L425.1,472.00 L425.6,471.91 L426.1,471.82 L426.6,471.73 L427.1,471.64 L427.6,471.55 L428.1,471.46 L428.6,471.36 L429.1,471.26 L429.6,471.17 L430.1,471.07 L430.6,470.97 L431.1,470.86 L431.6,470.76 L432.1,470.66 L432.6,470.56 L433.1,470.46 L433.6,470.37 L434.1,470.27 L434.6,470.19 L435.1,470.10 L435.6,470.02 L436.1,469.95 L436.6,469.88 L437.1,469.81 L437.6,469.74 L438.1,469.67 L438.6,469.60 L439.1,469.52 L439.6,469.44 L440.1,469.35 L440.6,469.25 L441.1,469.15 L441.6,469.04 L442.1,468.92 L442.6,468.79 L443.1,468.67 L443.6,468.54 L444.1,468.42 L444.6,468.30 L445.1,468.18 L445.6,468.06 L446.1,467.95 L446.6,467.85 L447.1,467.74 L447.6,467.64 L448.1,467.55 L448.6,467.45 L449.1,467.36 L449.6,467.27 L450.1,467.18 L450.6,467.09 L451.1,467.01 L451.6,466.92 L452.1,466.84 L452.6,466.76 L453.1,466.67 L453.6,466.60 L454.1,466.52 L454.6,466.44 L455.1,466.36 L455.6,466.29 L456.1,466.21 L456.6,466.14 L457.1,466.06 L457.6,465.99 L458.1,465.92 L458.6,465.85 L459.1,465.78 L459.6,465.71 L460.1,465.63 L460.6,465.55 L461.1,465.45 L461.6,465.34 L462.1,465.22 L462.6,465.08 L463.1,464.93 L463.6,464.76 L464.1,464.57 L464.6,464.36 L465.1,464.13 L465.6,463.89 L466.1,463.63 L466.6,463.34 L467.1,463.03 L467.6,462.70 L468.1,462.34 L468.6,461.96 L469.1,461.55 L469.6,461.13 L470.1,460.69 L470.6,460.24 L471.1,459.79 L471.6,459.32 L472.1,458.86 L472.6,458.41 L473.1,457.96 L473.6,457.53 L474.1,457.12 L474.6,456.72 L475.1,456.35 L475.6,456.01 L476.1,455.69 L476.6,455.40 L477.1,455.13 L477.6,454.90 L478.1,454.71 L478.6,454.56 L479.1,454.45 L479.6,454.40 L480.1,454.40 L480.6,454.45 L481.1,454.57 L481.6,454.74 L482.1,454.97 L482.6,455.25 L483.1,455.56 L483.6,455.92 L484.1,456.31 L484.6,456.74 L485.1,457.20 L485.6,457.67 L486.1,458.17 L486.6,458.67 L487.1,459.18 L487.6,459.68 L488.1,460.19 L488.6,460.70 L489.1,461.22 L489.6,461.75 L490.1,462.28 L490.6,462.82 L491.1,463.36 L491.6,463.89 L492.1,464.40 L492.6,464.89 L493.1,465.35 L493.6,465.79 L494.1,466.20 L494.6,466.60 L495.1,466.97 L495.6,467.33 L496.1,467.67 L496.6,468.00 L497.1,468.31 L497.6,468.60 L498.1,468.87 L498.6,469.13 L499.1,469.37 L499.6,469.59 L500.1,469.79 L500.6,469.98 L501.1,470.16 L501.6,470.33 L502.1,470.49 L502.6,470.64 L503.1,470.78 L503.6,470.91 L504.1,471.03 L504.6,471.15 L505.1,471.27 L505.6,471.37 L506.1,471.48 L506.6,471.57 L507.1,471.66 L507.6,471.75 L508.1,471.82 L508.6,471.90 L509.1,471.96 L509.6,472.03 L510.1,472.09 L510.6,472.14 L511.1,472.19 L511.6,472.23 L512.1,472.27 L512.6,472.31 L513.1,472.34 L513.6,472.37 L514.1,472.40 L514.6,472.42 L515.1,472.44 L515.6,472.46 L516.1,472.48 L516.6,472.50 L517.1,472.52 L517.6,472.54 L518.1,472.55 L518.6,472.57 L519.1,472.59 L519.6,472.61 L520.1,472.63 L520.6,472.65 L521.1,472.66 L521.6,472.68 L522.1,472.70 L522.6,472.72 L523.1,472.73 L523.6,472.75 L524.1,472.76 L524.6,472.77 L525.1,472.78 L525.6,472.79 L526.1,472.80 L526.6,472.80 L527.1,472.80 L559.5,472.80 L559.5,473.20 L527.1,473.20 L526.6,473.20 L526.1,473.20 L525.6,473.21 L525.1,473.22 L524.6,473.23 L524.1,473.24 L523.6,473.25 L523.1,473.27 L522.6,473.28 L522.1,473.30 L521.6,473.32 L521.1,473.34 L520.6,473.35 L520.1,473.37 L519.6,473.39 L519.1,473.41 L518.6,473.43 L518.1,473.45 L517.6,473.46 L517.1,473.48 L516.6,473.50 L516.1,473.52 L515.6,473.54 L515.1,473.56 L514.6,473.58 L514.1,473.60 L513.6,473.63 L513.1,473.66 L512.6,473.69 L512.1,473.73 L511.6,473.77 L511.1,473.81 L510.6,473.86 L510.1,473.91 L509.6,473.97 L509.1,474.04 L508.6,474.10 L508.1,474.18 L507.6,474.25 L507.1,474.34 L506.6,474.43 L506.1,474.52 L505.6,474.63 L505.1,474.73 L504.6,474.85 L504.1,474.97 L503.6,475.09 L503.1,475.22 L502.6,475.36 L502.1,475.51 L501.6,475.67 L501.1,475.84 L500.6,476.02 L500.1,476.21 L499.6,476.41 L499.1,476.63 L498.6,476.87 L498.1,477.13 L497.6,477.40 L497.1,477.69 L496.6,478.00 L496.1,478.33 L495.6,478.67 L495.1,479.03 L494.6,479.40 L494.1,479.80 L493.6,480.21 L493.1,480.65 L492.6,481.11 L492.1,481.60 L491.6,482.11 L491.1,482.64 L490.6,483.18 L490.1,483.72 L489.6,484.25 L489.1,484.78 L488.6,485.30 L488.1,485.81 L487.6,486.32 L487.1,486.82 L486.6,487.33 L486.1,487.83 L485.6,488.33 L485.1,488.80 L484.6,489.26 L484.1,489.69 L483.6,490.08 L483.1,490.44 L482.6,490.75 L482.1,491.03 L481.6,491.26 L481.1,491.43 L480.6,491.55 L480.1,491.60 L479.6,491.60 L479.1,491.55 L478.6,491.44 L478.1,491.29 L477.6,491.10 L477.1,490.87 L476.6,490.60 L476.1,490.31 L475.6,489.99 L475.1,489.65 L474.6,489.28 L474.1,488.88 L473.6,488.47 L473.1,488.04 L472.6,487.59 L472.1,487.14 L471.6,486.68 L471.1,486.21 L470.6,485.76 L470.1,485.31 L469.6,484.87 L469.1,484.45 L468.6,484.04 L468.1,483.66 L467.6,483.30 L467.1,482.97 L466.6,482.66 L466.1,482.37 L465.6,482.11 L465.1,481.87 L464.6,481.64 L464.1,481.43 L463.6,481.24 L463.1,481.07 L462.6,480.92 L462.1,480.78 L461.6,480.66 L461.1,480.55 L460.6,480.45 L460.1,480.37 L459.6,480.29 L459.1,480.22 L458.6,480.15 L458.1,480.08 L457.6,480.01 L457.1,479.94 L456.6,479.86 L456.1,479.79 L455.6,479.71 L455.1,479.64 L454.6,479.56 L454.1,479.48 L453.6,479.40 L453.1,479.33 L452.6,479.24 L452.1,479.16 L451.6,479.08 L451.1,478.99 L450.6,478.91 L450.1,478.82 L449.6,478.73 L449.1,478.64 L448.6,478.55 L448.1,478.45 L447.6,478.36 L447.1,478.26 L446.6,478.15 L446.1,478.05 L445.6,477.94 L445.1,477.82 L444.6,477.70 L444.1,477.58 L443.6,477.46 L443.1,477.33 L442.6,477.21 L442.1,477.08 L441.6,476.96 L441.1,476.85 L440.6,476.75 L440.1,476.65 L439.6,476.56 L439.1,476.48 L438.6,476.40 L438.1,476.33 L437.6,476.26 L437.1,476.19 L436.6,476.12 L436.1,476.05 L435.6,475.98 L435.1,475.90 L434.6,475.81 L434.1,475.73 L433.6,475.63 L433.1,475.54 L432.6,475.44 L432.1,475.34 L431.6,475.24 L431.1,475.14 L430.6,475.03 L430.1,474.93 L429.6,474.83 L429.1,474.74 L428.6,474.64 L428.1,474.54 L427.6,474.45 L427.1,474.36 L426.6,474.27 L426.1,474.18 L425.6,474.09 L425.1,474.00 L424.6,473.92 L424.1,473.84 L423.6,473.77 L423.1,473.70 L422.6,473.65 L422.1,473.60 L421.6,473.56 L421.1,473.53 L420.6,473.51 L420.1,473.49 L419.6,473.47 L419.1,473.46 L418.6,473.45 L418.1,473.44 L417.6,473.43 L417.1,473.42 L416.6,473.41 L416.1,473.40 L415.6,473.39 L415.1,473.38 L414.6,473.37 L414.1,473.36 L413.6,473.35 L413.1,473.34 L412.6,473.33 L412.1,473.32 L411.6,473.31 L411.1,473.30 L410.6,473.29 L410.1,473.28 L409.6,473.27 L409.1,473.27 L408.6,473.26 L408.1,473.25 L407.6,473.24 L407.1,473.23 L406.6,473.22 L406.1,473.22 L405.6,473.21 L405.1,473.21 L404.6,473.20 L404.1,473.20 L403.6,473.20 L402.6,473.20 L324.6,473.20Z" fill="#3274a1" stroke="#4a4a4a" stroke-width="1.25" stroke-linejoin="round"/>
<path d="M189.0,520.00 L280.0,520.00 L280.5,520.00 L281.0,519.99 L281.5,519.99 L282.0,519.98 L282.5,519.96 L283.0,519.95 L283.5,519.93 L284.0,519.92 L284.5,519.90 L285.0,519.88 L285.5,519.87 L286.0,519.85 L286.5,519.84 L287.0,519.83 L287.5,519.82 L288.0,519.81 L288.5,519.80 L289.0,519.80 L289.5,519.79 L290.0,519.79 L290.5,519.79 L291.0,519.79 L291.5,519.79 L292.0,519.80 L292.5,519.80 L293.0,519.82 L293.5,519.83 L294.0,519.84 L294.5,519.86 L295.0,519.87 L295.5,519.89 L296.0,519.91 L296.5,519.92 L297.0,519.94 L297.5,519.95 L298.0,519.96 L298.5,519.98 L299.0,519.98 L299.5,519.99 L300.0,519.99 L300.5,520.00 L301.0,520.00 L302.0,520.00 L361.0,520.00 L361.5,520.00 L362.0,519.99 L362.5,519.99 L363.0,519.98 L363.5,519.97 L364.0,519.96 L364.5,519.95 L365.0,519.93 L365.5,519.91 L366.0,519.89 L366.5,519.87 L367.0,519.84 L367.5,519.82 L368.0,519.80 L368.5,519.77 L369.0,519.75 L369.5,519.72 L370.0,519.70 L370.5,519.68 L371.0,519.65 L371.5,519.63 L372.0,519.60 L372.5,519.58 L373.0,519.55 L373.5,519.53 L374.0,519.50 L374.5,519.47 L375.0,519.44 L375.5,519.41 L376.0,519.38 L376.5,519.35 L377.0,519.31 L377.5,519.28 L378.0,519.24 L378.5,519.20 L379.0,519.15 L379.5,519.11 L380.0,519.06 L380.5,519.01 L381.0,518.96 L381.5,518.91 L382.0,518.86 L382.5,518.81 L383.0,518.76 L383.5,518.71 L384.0,518.66 L384.5,518.61 L385.0,518.57 L385.5,518.52 L386.0,518.48 L386.5,518.44 L387.0,518.40 L387.5,518.36 L388.0,518.32 L388.5,518.27 L389.0,518.23 L389.5,518.19 L390.0,518.15 L390.5,518.11 L391.0,518.07 L391.5,518.03 L392.0,517.99 L392.5,517.95 L393.0,517.91 L393.5,517.87 L394.0,517.82 L394.5,517.78 L395.0,517.74 L395.5,517.70 L396.0,517.66 L396.5,517.62 L397.0,517.57 L397.5,517.53 L398.0,517.50 L398.5,517.46 L399.0,517.42 L399.5,517.38 L400.0,517.35 L400.5,517.31 L401.0,517.28 L401.5,517.24 L402.0,517.21 L402.5,517.18 L403.0,517.14 L403.5,517.11 L404.0,517.08 L404.5,517.04 L405.0,517.01 L405.5,516.97 L406.0,516.93 L406.5,516.89 L407.0,516.85 L407.5,516.81 L408.0,516.77 L408.5,516.72 L409.0,516.67 L409.5,516.63 L410.0,516.58 L410.5,516.53 L411.0,516.48 L411.5,516.43 L412.0,516.38 L412.5,516.33 L413.0,516.28 L413.5,516.23 L414.0,516.18 L414.5,516.14 L415.0,516.09 L415.5,516.04 L416.0,516.00 L416.5,515.95 L417.0,515.90 L417.5,515.84 L418.0,515.79 L418.5,515.72 L419.0,515.66 L419.5,515.59 L420.0,515.52 L420.5,515.44 L421.0,515.36 L421.5,515.28 L422.0,515.20 L422.5,515.12 L423.0,515.04 L423.5,514.95 L424.0,514.87 L424.5,514.78 L425.0,514.70 L425.5,514.61 L426.0,514.52 L426.5,514.43 L427.0,514.34 L427.5,514.25 L428.0,514.15 L428.5,514.04 L429.0,513.94 L429.5,513.82 L430.0,513.70 L430.5,513.57 L431.0,513.43 L431.5,513.28 L432.0,513.13 L432.5,512.97 L433.0,512.81 L433.5,512.65 L434.0,512.49 L434.5,512.33 L435.0,512.17 L435.5,512.02 L436.0,511.87 L436.5,511.72 L437.0,511.57 L437.5,511.43 L438.0,511.29 L438.5,511.15 L439.0,511.01 L439.5,510.86 L440.0,510.71 L440.5,510.56 L441.0,510.41 L441.5,510.25 L442.0,510.09 L442.5,509.92 L443.0,509.75 L443.5,509.57 L444.0,509.39 L444.5,509.21 L445.0,509.03 L445.5,508.84 L446.0,508.65 L446.5,508.46 L447.0,508.27 L447.5,508.07 L448.0,507.88 L448.5,507.68 L449.0,507.48 L449.5,507.28 L450.0,507.08 L450.5,506.87 L451.0,506.68 L451.5,506.48 L452.0,506.29 L452.5,506.10 L453.0,505.92 L453.5,505.74 L454.0,505.56 L454.5,505.39 L455.0,505.22 L455.5,505.06 L456.0,504.90 L456.5,504.75 L457.0,504.60 L457.5,504.45 L458.0,504.31 L458.5,504.18 L459.0,504.05 L459.5,503.92 L460.0,503.80 L460.5,503.69 L461.0,503.58 L461.5,503.48 L462.0,503.39 L462.5,503.30 L463.0,503.22 L463.5,503.14 L464.0,503.07 L464.5,503.00 L465.0,502.93 L465.5,502.87 L466.0,502.81 L466.5,502.74 L467.0,502.68 L467.5,502.63 L468.0,502.57 L468.5,502.51 L469.0,502.45 L469.5,502.40 L470.0,502.34 L470.5,502.29 L471.0,502.24 L471.5,502.19 L472.0,502.14 L472.5,502.09 L473.0,502.05 L473.5,502.01 L474.0,501.97 L474.5,501.93 L475.0,501.89 L475.5,501.85 L476.0,501.82 L476.5,501.78 L477.0,501.75 L477.5,501.72 L478.0,501.69 L478.5,501.65 L479.0,501.62 L479.5,501.59 L480.0,501.56 L480.5,501.53 L481.0,501.50 L481.5,501.48 L482.0,501.45 L482.5,501.42 L483.0,501.39 L483.5,501.37 L484.0,501.35 L484.5,501.33 L485.0,501.31 L485.5,501.30 L486.0,501.28 L486.5,501.27 L487.0,501.26 L487.5,501.25 L488.0,501.24 L488.5,501.23 L489.0,501.22 L489.5,501.21 L490.0,501.21 L490.5,501.21 L491.0,501.20 L491.5,501.20 L492.5,501.20 L493.5,501.20 L494.0,501.20 L494.5,501.21 L495.0,501.22 L495.5,501.25 L496.0,501.29 L496.5,501.35 L497.0,501.44 L497.5,501.55 L498.0,501.69 L498.5,501.85 L499.0,502.01 L499.5,502.19 L500.0,502.37 L500.5,502.55 L501.0,502.74 L501.5,502.93 L502.0,503.13 L502.5,503.33 L503.0,503.54 L503.5,503.74 L504.0,503.96 L504.5,504.18 L505.0,504.40 L505.5,504.63 L506.0,504.86 L506.5,505.09 L507.0,505.33 L507.5,505.58 L508.0,505.83 L508.5,506.08 L509.0,506.34 L509.5,506.59 L510.0,506.84 L510.5,507.09 L511.0,507.34 L511.5,507.59 L512.0,507.83 L512.5,508.07 L513.0,508.31 L513.5,508.54 L514.0,508.77 L514.5,509.00 L515.0,509.23 L515.5,509.46 L516.0,509.68 L516.5,509.90 L517.0,510.12 L517.5,510.33 L518.0,510.54 L518.5,510.75 L519.0,510.95 L519.5,511.15 L520.0,511.35 L520.5,511.55 L521.0,511.75 L521.5,511.94 L522.0,512.14 L522.5,512.33 L523.0,512.52 L523.5,512.72 L524.0,512.91 L524.5,513.11 L525.0,513.30 L525.5,513.49 L526.0,513.68 L526.5,513.87 L527.0,514.06 L527.5,514.25 L528.0,514.43 L528.5,514.61 L529.0,514.79 L529.5,514.96 L530.0,515.13 L530.5,515.30 L531.0,515.47 L531.5,515.63 L532.0,515.79 L532.5,515.95 L533.0,516.11 L533.5,516.27 L534.0,516.42 L534.5,516.58 L535.0,516.73 L535.5,516.88 L536.0,517.03 L536.5,517.17 L537.0,517.30 L537.5,517.43 L538.0,517.56 L538.5,517.68 L539.0,517.79 L539.5,517.90 L540.0,518.00 L540.5,518.09 L541.0,518.17 L541.5,518.25 L542.0,518.31 L542.5,518.38 L543.0,518.43 L543.5,518.49 L544.0,518.54 L544.5,518.58 L545.0,518.63 L545.5,518.67 L546.0,518.71 L546.5,518.75 L547.0,518.78 L547.5,518.82 L548.0,518.85 L548.5,518.89 L549.0,518.92 L549.5,518.95 L550.0,518.98 L550.5,519.01 L551.0,519.05 L551.5,519.08 L552.0,519.11 L552.5,519.14 L553.0,519.17 L553.5,519.20 L554.0,519.23 L554.5,519.26 L555.0,519.28 L555.5,519.31 L556.0,519.34 L556.5,519.37 L557.0,519.39 L557.5,519.42 L558.0,519.44 L558.5,519.47 L559.0,519.49 L559.5,519.51 L560.0,519.53 L560.5,519.55 L561.0,519.57 L561.5,519.59 L562.0,519.60 L562.5,519.62 L563.0,519.64 L563.5,519.65 L564.0,519.67 L564.5,519.69 L565.0,519.70 L565.5,519.72 L566.0,519.73 L566.5,519.75 L567.0,519.77 L567.5,519.78 L568.0,519.80 L568.5,519.81 L569.0,519.83 L569.5,519.84 L570.0,519.86 L570.5,519.87 L571.0,519.89 L571.5,519.90 L572.0,519.92 L572.5,519.93 L573.0,519.94 L573.5,519.96 L574.0,519.97 L574.5,519.98 L575.0,519.99 L575.5,519.99 L576.0,520.00 L576.5,520.00 L577.0,520.00 L654.0,520.00 L654.0,520.40 L577.0,520.40 L576.5,520.40 L576.0,520.40 L575.5,520.41 L575.0,520.41 L574.5,520.42 L574.0,520.43 L573.5,520.44 L573.0,520.46 L572.5,520.47 L572.0,520.48 L571.5,520.50 L571.0,520.51 L570.5,520.53 L570.0,520.54 L569.5,520.56 L569.0,520.57 L568.5,520.59 L568.0,520.60 L567.5,520.62 L567.0,520.63 L566.5,520.65 L566.0,520.67 L565.5,520.68 L565.0,520.70 L564.5,520.71 L564.0,520.73 L563.5,520.75 L563.0,520.76 L562.5,520.78 L562.0,520.80 L561.5,520.81 L561.0,520.83 L560.5,520.85 L560.0,520.87 L559.5,520.89 L559.0,520.91 L558.5,520.93 L558.0,520.96 L557.5,520.98 L557.0,521.01 L556.5,521.03 L556.0,521.06 L555.5,521.09 L555.0,521.12 L554.5,521.14 L554.0,521.17 L553.5,521.20 L553.0,521.23 L552.5,521.26 L552.0,521.29 L551.5,521.32 L551.0,521.35 L550.5,521.39 L550.0,521.42 L549.5,521.45 L549.0,521.48 L548.5,521.51 L548.0,521.55 L547.5,521.58 L547.0,521.62 L546.5,521.65 L546.0,521.69 L545.5,521.73 L545.0,521.77 L544.5,521.82 L544.0,521.86 L543.5,521.91 L543.0,521.97 L542.5,522.02 L542.0,522.09 L541.5,522.15 L541.0,522.23 L540.5,522.31 L540.0,522.40 L539.5,522.50 L539.0,522.61 L538.5,522.72 L538.0,522.84 L537.5,522.97 L537.0,523.10 L536.5,523.23 L536.0,523.37 L535.5,523.52 L535.0,523.67 L534.5,523.82 L534.0,523.98 L533.5,524.13 L533.0,524.29 L532.5,524.45 L532.0,524.61 L531.5,524.77 L531.0,524.93 L530.5,525.10 L530.0,525.27 L529.5,525.44 L529.0,525.61 L528.5,525.79 L528.0,525.97 L527.5,526.15 L527.0,526.34 L526.5,526.53 L526.0,526.72 L525.5,526.91 L525.0,527.10 L524.5,527.29 L524.0,527.49 L523.5,527.68 L523.0,527.88 L522.5,528.07 L522.0,528.26 L521.5,528.46 L521.0,528.65 L520.5,528.85 L520.0,529.05 L519.5,529.25 L519.0,529.45 L518.5,529.65 L518.0,529.86 L517.5,530.07 L517.0,530.28 L516.5,530.50 L516.0,530.72 L515.5,530.94 L515.0,531.17 L514.5,531.40 L514.0,531.63 L513.5,531.86 L513.0,532.09 L512.5,532.33 L512.0,532.57 L511.5,532.81 L511.0,533.06 L510.5,533.31 L510.0,533.56 L509.5,533.81 L509.0,534.06 L508.5,534.32 L508.0,534.57 L507.5,534.82 L507.0,535.07 L506.5,535.31 L506.0,535.54 L505.5,535.77 L505.0,536.00 L504.5,536.22 L504.0,536.44 L503.5,536.66 L503.0,536.86 L502.5,537.07 L502.0,537.27 L501.5,537.47 L501.0,537.66 L500.5,537.85 L500.0,538.03 L499.5,538.21 L499.0,538.39 L498.5,538.55 L498.0,538.71 L497.5,538.85 L497.0,538.96 L496.5,539.05 L496.0,539.11 L495.5,539.15 L495.0,539.18 L494.5,539.19 L494.0,539.20 L493.5,539.20 L491.5,539.20 L491.0,539.20 L490.5,539.19 L490.0,539.19 L489.5,539.19 L489.0,539.18 L488.5,539.17 L488.0,539.16 L487.5,539.15 L487.0,539.14 L486.5,539.13 L486.0,539.12 L485.5,539.10 L485.0,539.09 L484.5,539.07 L484.0,539.05 L483.5,539.03 L483.0,539.01 L482.5,538.98 L482.0,538.95 L481.5,538.92 L481.0,538.90 L480.5,538.87 L480.0,538.84 L479.5,538.81 L479.0,538.78 L478.5,538.75 L478.0,538.71 L477.5,538.68 L477.0,538.65 L476.5,538.62 L476.0,538.58 L475.5,538.55 L475.0,538.51 L474.5,538.47 L474.0,538.43 L473.5,538.39 L473.0,538.35 L472.5,538.31 L472.0,538.26 L471.5,538.21 L471.0,538.16 L470.5,538.11 L470.0,538.06 L469.5,538.00 L469.0,537.95 L468.5,537.89 L468.0,537.83 L467.5,537.77 L467.0,537.72 L466.5,537.66 L466.0,537.59 L465.5,537.53 L465.0,537.47 L464.5,537.40 L464.0,537.33 L463.5,537.26 L463.0,537.18 L462.5,537.10 L462.0,537.01 L461.5,536.92 L461.0,536.82 L460.5,536.71 L460.0,536.60 L459.5,536.48 L459.0,536.35 L458.5,536.22 L458.0,536.09 L457.5,535.95 L457.0,535.80 L456.5,535.65 L456.0,535.50 L455.5,535.34 L455.0,535.18 L454.5,535.01 L454.0,534.84 L453.5,534.66 L453.0,534.48 L452.5,534.30 L452.0,534.11 L451.5,533.92 L451.0,533.72 L450.5,533.53 L450.0,533.32 L449.5,533.12 L449.0,532.92 L448.5,532.72 L448.0,532.52 L447.5,532.33 L447.0,532.13 L446.5,531.94 L446.0,531.75 L445.5,531.56 L445.0,531.37 L444.5,531.19 L444.0,531.01 L443.5,530.83 L443.0,530.65 L442.5,530.48 L442.0,530.31 L441.5,530.15 L441.0,529.99 L440.5,529.84 L440.0,529.69 L439.5,529.54 L439.0,529.39 L438.5,529.25 L438.0,529.11 L437.5,528.97 L437.0,528.83 L436.5,528.68 L436.0,528.53 L435.5,528.38 L435.0,528.23 L434.5,528.07 L434.0,527.91 L433.5,527.75 L433.0,527.59 L432.5,527.43 L432.0,527.27 L431.5,527.12 L431.0,526.97 L430.5,526.83 L430.0,526.70 L429.5,526.58 L429.0,526.46 L428.5,526.36 L428.0,526.25 L427.5,526.15 L427.0,526.06 L426.5,525.97 L426.0,525.88 L425.5,525.79 L425.0,525.70 L424.5,525.62 L424.0,525.53 L423.5,525.45 L423.0,525.36 L422.5,525.28 L422.0,525.20 L421.5,525.12 L421.0,525.04 L420.5,524.96 L420.0,524.88 L419.5,524.81 L419.0,524.74 L418.5,524.68 L418.0,524.61 L417.5,524.56 L417.0,524.50 L416.5,524.45 L416.0,524.40 L415.5,524.36 L415.0,524.31 L414.5,524.26 L414.0,524.22 L413.5,524.17 L413.0,524.12 L412.5,524.07 L412.0,524.02 L411.5,523.97 L411.0,523.92 L410.5,523.87 L410.0,523.82 L409.5,523.77 L409.0,523.73 L408.5,523.68 L408.0,523.63 L407.5,523.59 L407.0,523.55 L406.5,523.51 L406.0,523.47 L405.5,523.43 L405.0,523.39 L404.5,523.36 L404.0,523.32 L403.5,523.29 L403.0,523.26 L402.5,523.22 L402.0,523.19 L401.5,523.16 L401.0,523.12 L400.5,523.09 L400.0,523.05 L399.5,523.02 L399.0,522.98 L398.5,522.94 L398.0,522.90 L397.5,522.87 L397.0,522.83 L396.5,522.78 L396.0,522.74 L395.5,522.70 L395.0,522.66 L394.5,522.62 L394.0,522.58 L393.5,522.53 L393.0,522.49 L392.5,522.45 L392.0,522.41 L391.5,522.37 L391.0,522.33 L390.5,522.29 L390.0,522.25 L389.5,522.21 L389.0,522.17 L388.5,522.13 L388.0,522.08 L387.5,522.04 L387.0,522.00 L386.5,521.96 L386.0,521.92 L385.5,521.88 L385.0,521.83 L384.5,521.79 L384.0,521.74 L383.5,521.69 L383.0,521.64 L382.5,521.59 L382.0,521.54 L381.5,521.49 L381.0,521.44 L380.5,521.39 L380.0,521.34 L379.5,521.29 L379.0,521.25 L378.5,521.20 L378.0,521.16 L377.5,521.12 L377.0,521.09 L376.5,521.05 L376.0,521.02 L375.5,520.99 L375.0,520.96 L374.5,520.93 L374.0,520.90 L373.5,520.87 L373.0,520.85 L372.5,520.82 L372.0,520.80 L371.5,520.77 L371.0,520.75 L370.5,520.72 L370.0,520.70 L369.5,520.68 L369.0,520.65 L368.5,520.63 L368.0,520.60 L367.5,520.58 L367.0,520.56 L366.5,520.53 L366.0,520.51 L365.5,520.49 L365.0,520.47 L364.5,520.45 L364.0,520.44 L363.5,520.43 L363.0,520.42 L362.5,520.41 L362.0,520.41 L361.5,520.40 L361.0,520.40 L360.0,520.40 L301.0,520.40 L300.5,520.40 L300.0,520.41 L299.5,520.41 L299.0,520.42 L298.5,520.42 L298.0,520.44 L297.5,520.45 L297.0,520.46 L296.5,520.48 L296.0,520.49 L295.5,520.51 L295.0,520.53 L294.5,520.54 L294.0,520.56 L293.5,520.57 L293.0,520.58 L292.5,520.60 L292.0,520.60 L291.5,520.61 L291.0,520.61 L290.5,520.61 L290.0,520.61 L289.5,520.61 L289.0,520.60 L288.5,520.60 L288.0,520.59 L287.5,520.58 L287.0,520.57 L286.5,520.56 L286.0,520.55 L285.5,520.53 L285.0,520.52 L284.5,520.50 L284.0,520.48 L283.5,520.47 L283.0,520.45 L282.5,520.44 L282.0,520.42 L281.5,520.41 L281.0,520.41 L280.5,520.40 L280.0,520.40 L279.0,520.40 L189.0,520.40Z" fill="#3274a1" stroke="#4a4a4a" stroke-width="1.25" stroke-linejoin="round"/>
<path d="M285.8,567.20 L392.8,567.20 L393.3,567.20 L393.8,567.20 L394.3,567.19 L394.8,567.18 L395.3,567.18 L395.8,567.16 L396.3,567.15 L396.8,567.13 L397.3,567.11 L397.8,567.09 L398.3,567.07 L398.8,567.05 L399.3,567.03 L399.8,567.00 L400.3,566.98 L400.8,566.96 L401.3,566.93 L401.8,566.91 L402.3,566.88 L402.8,566.86 L403.3,566.83 L403.8,566.81 L404.3,566.78 L404.8,566.75 L405.3,566.72 L405.8,566.69 L406.3,566.66 L406.8,566.63 L407.3,566.60 L407.8,566.56 L408.3,566.53 L408.8,566.49 L409.3,566.45 L409.8,566.41 L410.3,566.36 L410.8,566.31 L411.3,566.25 L411.8,566.19 L412.3,566.13 L412.8,566.07 L413.3,566.00 L413.8,565.93 L414.3,565.86 L414.8,565.79 L415.3,565.72 L415.8,565.65 L416.3,565.58 L416.8,565.51 L417.3,565.44 L417.8,565.37 L418.3,565.30 L418.8,565.23 L419.3,565.15 L419.8,565.08 L420.3,565.01 L420.8,564.93 L421.3,564.86 L421.8,564.78 L422.3,564.71 L422.8,564.63 L423.3,564.55 L423.8,564.48 L424.3,564.40 L424.8,564.32 L425.3,564.24 L425.8,564.17 L426.3,564.09 L426.8,564.01 L427.3,563.93 L427.8,563.86 L428.3,563.78 L428.8,563.70 L429.3,563.63 L429.8,563.55 L430.3,563.47 L430.8,563.40 L431.3,563.32 L431.8,563.24 L432.3,563.17 L432.8,563.09 L433.3,563.02 L433.8,562.94 L434.3,562.87 L434.8,562.79 L435.3,562.72 L435.8,562.65 L436.3,562.57 L436.8,562.49 L437.3,562.41 L437.8,562.33 L438.3,562.25 L438.8,562.16 L439.3,562.06 L439.8,561.96 L440.3,561.86 L440.8,561.75 L441.3,561.63 L441.8,561.51 L442.3,561.39 L442.8,561.27 L443.3,561.14 L443.8,561.01 L444.3,560.89 L444.8,560.76 L445.3,560.63 L445.8,560.50 L446.3,560.38 L446.8,560.25 L447.3,560.12 L447.8,559.98 L448.3,559.83 L448.8,559.67 L449.3,559.48 L449.8,559.28 L450.3,559.05 L450.8,558.79 L451.3,558.51 L451.8,558.21 L452.3,557.89 L452.8,557.56 L453.3,557.22 L453.8,556.88 L454.3,556.54 L454.8,556.19 L455.3,555.85 L455.8,555.50 L456.3,555.15 L456.8,554.80 L457.3,554.45 L457.8,554.10 L458.3,553.75 L458.8,553.40 L459.3,553.05 L459.8,552.71 L460.3,552.36 L460.8,552.02 L461.3,551.67 L461.8,551.34 L462.3,551.01 L462.8,550.69 L463.3,550.38 L463.8,550.10 L464.3,549.84 L464.8,549.61 L465.3,549.41 L465.8,549.24 L466.3,549.11 L466.8,549.00 L467.3,548.92 L467.8,548.87 L468.3,548.84 L468.8,548.83 L469.3,548.83 L469.8,548.86 L470.3,548.91 L470.8,548.99 L471.3,549.11 L471.8,549.27 L472.3,549.46 L472.8,549.69 L473.3,549.95 L473.8,550.24 L474.3,550.55 L474.8,550.89 L475.3,551.24 L475.8,551.60 L476.3,551.97 L476.8,552.32 L477.3,552.68 L477.8,553.03 L478.3,553.39 L478.8,553.74 L479.3,554.10 L479.8,554.46 L480.3,554.82 L480.8,555.17 L481.3,555.50 L481.8,555.81 L482.3,556.09 L482.8,556.35 L483.3,556.59 L483.8,556.81 L484.3,557.02 L484.8,557.22 L485.3,557.41 L485.8,557.60 L486.3,557.78 L486.8,557.96 L487.3,558.13 L487.8,558.30 L488.3,558.46 L488.8,558.61 L489.3,558.76 L489.8,558.91 L490.3,559.05 L490.8,559.18 L491.3,559.31 L491.8,559.43 L492.3,559.55 L492.8,559.66 L493.3,559.76 L493.8,559.87 L494.3,559.96 L494.8,560.06 L495.3,560.15 L495.8,560.24 L496.3,560.33 L496.8,560.41 L497.3,560.50 L497.8,560.58 L498.3,560.66 L498.8,560.74 L499.3,560.82 L499.8,560.90 L500.3,560.97 L500.8,561.05 L501.3,561.12 L501.8,561.20 L502.3,561.27 L502.8,561.34 L503.3,561.41 L503.8,561.48 L504.3,561.55 L504.8,561.61 L505.3,561.68 L505.8,561.75 L506.3,561.81 L506.8,561.88 L507.3,561.95 L507.8,562.02 L508.3,562.09 L508.8,562.16 L509.3,562.24 L509.8,562.31 L510.3,562.39 L510.8,562.47 L511.3,562.54 L511.8,562.62 L512.3,562.70 L512.8,562.78 L513.3,562.86 L513.8,562.94 L514.3,563.02 L514.8,563.11 L515.3,563.19 L515.8,563.28 L516.3,563.36 L516.8,563.45 L517.3,563.53 L517.8,563.61 L518.3,563.68 L518.8,563.74 L519.3,563.80 L519.8,563.86 L520.3,563.90 L520.8,563.94 L521.3,563.97 L521.8,564.00 L522.3,564.03 L522.8,564.06 L523.3,564.08 L523.8,564.10 L524.3,564.13 L524.8,564.15 L525.3,564.18 L525.8,564.21 L526.3,564.24 L526.8,564.27 L527.3,564.30 L527.8,564.33 L528.3,564.37 L528.8,564.40 L529.3,564.44 L529.8,564.47 L530.3,564.50 L530.8,564.54 L531.3,564.57 L531.8,564.60 L532.3,564.63 L532.8,564.66 L533.3,564.69 L533.8,564.72 L534.3,564.75 L534.8,564.78 L535.3,564.81 L535.8,564.84 L536.3,564.87 L536.8,564.91 L537.3,564.95 L537.8,564.99 L538.3,565.04 L538.8,565.09 L539.3,565.14 L539.8,565.20 L540.3,565.26 L540.8,565.32 L541.3,565.38 L541.8,565.44 L542.3,565.51 L542.8,565.57 L543.3,565.64 L543.8,565.71 L544.3,565.77 L544.8,565.84 L545.3,565.91 L545.8,565.98 L546.3,566.04 L546.8,566.11 L547.3,566.17 L547.8,566.24 L548.3,566.29 L548.8,566.35 L549.3,566.40 L549.8,566.44 L550.3,566.48 L550.8,566.52 L551.3,566.56 L551.8,566.60 L552.3,566.63 L552.8,566.66 L553.3,566.69 L553.8,566.73 L554.3,566.76 L554.8,566.79 L555.3,566.82 L555.8,566.85 L556.3,566.88 L556.8,566.91 L557.3,566.94 L557.8,566.97 L558.3,567.00 L558.8,567.03 L559.3,567.05 L559.8,567.08 L560.3,567.11 L560.8,567.13 L561.3,567.15 L561.8,567.17 L562.3,567.18 L562.8,567.19 L563.3,567.19 L563.8,567.20 L564.3,567.20 L565.8,567.20 L627.2,567.20 L627.2,567.60 L564.3,567.60 L563.8,567.60 L563.3,567.61 L562.8,567.61 L562.3,567.62 L561.8,567.63 L561.3,567.65 L560.8,567.67 L560.3,567.69 L559.8,567.72 L559.3,567.75 L558.8,567.77 L558.3,567.80 L557.8,567.83 L557.3,567.86 L556.8,567.89 L556.3,567.92 L555.8,567.95 L555.3,567.98 L554.8,568.01 L554.3,568.04 L553.8,568.07 L553.3,568.11 L552.8,568.14 L552.3,568.17 L551.8,568.20 L551.3,568.24 L550.8,568.28 L550.3,568.32 L549.8,568.36 L549.3,568.40 L548.8,568.45 L548.3,568.51 L547.8,568.56 L547.3,568.63 L546.8,568.69 L546.3,568.76 L545.8,568.82 L545.3,568.89 L544.8,568.96 L544.3,569.03 L543.8,569.09 L543.3,569.16 L542.8,569.23 L542.3,569.29 L541.8,569.36 L541.3,569.42 L540.8,569.48 L540.3,569.54 L539.8,569.60 L539.3,569.66 L538.8,569.71 L538.3,569.76 L537.8,569.81 L537.3,569.85 L536.8,569.89 L536.3,569.93 L535.8,569.96 L535.3,569.99 L534.8,570.02 L534.3,570.05 L533.8,570.08 L533.3,570.11 L532.8,570.14 L532.3,570.17 L531.8,570.20 L531.3,570.23 L530.8,570.26 L530.3,570.30 L529.8,570.33 L529.3,570.36 L528.8,570.40 L528.3,570.43 L527.8,570.47 L527.3,570.50 L526.8,570.53 L526.3,570.56 L525.8,570.59 L525.3,570.62 L524.8,570.65 L524.3,570.67 L523.8,570.70 L523.3,570.72 L522.8,570.74 L522.3,570.77 L521.8,570.80 L521.3,570.83 L520.8,570.86 L520.3,570.90 L519.8,570.94 L519.3,571.00 L518.8,571.06 L518.3,571.12 L517.8,571.19 L517.3,571.27 L516.8,571.35 L516.3,571.44 L515.8,571.52 L515.3,571.61 L514.8,571.69 L514.3,571.78 L513.8,571.86 L513.3,571.94 L512.8,572.02 L512.3,572.10 L511.8,572.18 L511.3,572.26 L510.8,572.33 L510.3,572.41 L509.8,572.49 L509.3,572.56 L508.8,572.64 L508.3,572.71 L507.8,572.78 L507.3,572.85 L506.8,572.92 L506.3,572.99 L505.8,573.05 L505.3,573.12 L504.8,573.19 L504.3,573.25 L503.8,573.32 L503.3,573.39 L502.8,573.46 L502.3,573.53 L501.8,573.60 L501.3,573.68 L500.8,573.75 L500.3,573.83 L499.8,573.90 L499.3,573.98 L498.8,574.06 L498.3,574.14 L497.8,574.22 L497.3,574.30 L496.8,574.39 L496.3,574.47 L495.8,574.56 L495.3,574.65 L494.8,574.74 L494.3,574.84 L493.8,574.93 L493.3,575.04 L492.8,575.14 L492.3,575.25 L491.8,575.37 L491.3,575.49 L490.8,575.62 L490.3,575.75 L489.8,575.89 L489.3,576.04 L488.8,576.19 L488.3,576.34 L487.8,576.50 L487.3,576.67 L486.8,576.84 L486.3,577.02 L485.8,577.20 L485.3,577.39 L484.8,577.58 L484.3,577.78 L483.8,577.99 L483.3,578.21 L482.8,578.45 L482.3,578.71 L481.8,578.99 L481.3,579.30 L480.8,579.63 L480.3,579.98 L479.8,580.34 L479.3,580.70 L478.8,581.06 L478.3,581.41 L477.8,581.77 L477.3,582.12 L476.8,582.48 L476.3,582.83 L475.8,583.20 L475.3,583.56 L474.8,583.91 L474.3,584.25 L473.8,584.56 L473.3,584.85 L472.8,585.11 L472.3,585.34 L471.8,585.53 L471.3,585.69 L470.8,585.81 L470.3,585.89 L469.8,585.94 L469.3,585.97 L468.8,585.97 L468.3,585.96 L467.8,585.93 L467.3,585.88 L466.8,585.80 L466.3,585.69 L465.8,585.56 L465.3,585.39 L464.8,585.19 L464.3,584.96 L463.8,584.70 L463.3,584.42 L462.8,584.11 L462.3,583.79 L461.8,583.46 L461.3,583.13 L460.8,582.78 L460.3,582.44 L459.8,582.09 L459.3,581.75 L458.8,581.40 L458.3,581.05 L457.8,580.70 L457.3,580.35 L456.8,580.00 L456.3,579.65 L455.8,579.30 L455.3,578.95 L454.8,578.61 L454.3,578.26 L453.8,577.92 L453.3,577.58 L452.8,577.24 L452.3,576.91 L451.8,576.59 L451.3,576.29 L450.8,576.01 L450.3,575.75 L449.8,575.52 L449.3,575.32 L448.8,575.13 L448.3,574.97 L447.8,574.82 L447.3,574.68 L446.8,574.55 L446.3,574.42 L445.8,574.30 L445.3,574.17 L444.8,574.04 L444.3,573.91 L443.8,573.79 L443.3,573.66 L442.8,573.53 L442.3,573.41 L441.8,573.29 L441.3,573.17 L440.8,573.05 L440.3,572.94 L439.8,572.84 L439.3,572.74 L438.8,572.64 L438.3,572.55 L437.8,572.47 L437.3,572.39 L436.8,572.31 L436.3,572.23 L435.8,572.15 L435.3,572.08 L434.8,572.01 L434.3,571.93 L433.8,571.86 L433.3,571.78 L432.8,571.71 L432.3,571.63 L431.8,571.56 L431.3,571.48 L430.8,571.40 L430.3,571.33 L429.8,571.25 L429.3,571.17 L428.8,571.10 L428.3,571.02 L427.8,570.94 L427.3,570.87 L426.8,570.79 L426.3,570.71 L425.8,570.63 L425.3,570.56 L424.8,570.48 L424.3,570.40 L423.8,570.32 L423.3,570.25 L422.8,570.17 L422.3,570.09 L421.8,570.02 L421.3,569.94 L420.8,569.87 L420.3,569.79 L419.8,569.72 L419.3,569.65 L418.8,569.57 L418.3,569.50 L417.8,569.43 L417.3,569.36 L416.8,569.29 L416.3,569.22 L415.8,569.15 L415.3,569.08 L414.8,569.01 L414.3,568.94 L413.8,568.87 L413.3,568.80 L412.8,568.73 L412.3,568.67 L411.8,568.61 L411.3,568.55 L410.8,568.49 L410.3,568.44 L409.8,568.39 L409.3,568.35 L408.8,568.31 L408.3,568.27 L407.8,568.24 L407.3,568.20 L406.8,568.17 L406.3,568.14 L405.8,568.11 L405.3,568.08 L404.8,568.05 L404.3,568.02 L403.8,567.99 L403.3,567.97 L402.8,567.94 L402.3,567.92 L401.8,567.89 L401.3,567.87 L400.8,567.84 L400.3,567.82 L399.8,567.80 L399.3,567.77 L398.8,567.75 L398.3,567.73 L397.8,567.71 L397.3,567.69 L396.8,567.67 L396.3,567.65 L395.8,567.64 L395.3,567.62 L394.8,567.62 L394.3,567.61 L393.8,567.60 L393.3,567.60 L392.8,567.60 L285.8,567.60Z" fill="#3274a1" stroke="#4a4a4a" stroke-width="1.25" stroke-linejoin="round"/>
<path d="M224.8,614.40 L398.8,614.40 L399.3,614.40 L399.8,614.40 L400.3,614.39 L400.8,614.39 L401.3,614.38 L401.8,614.38 L402.3,614.37 L402.8,614.36 L403.3,614.35 L403.8,614.35 L404.3,614.34 L404.8,614.33 L405.3,614.32 L405.8,614.31 L406.3,614.29 L406.8,614.28 L407.3,614.27 L407.8,614.26 L408.3,614.25 L408.8,614.24 L409.3,614.22 L409.8,614.21 L410.3,614.20 L410.8,614.18 L411.3,614.17 L411.8,614.15 L412.3,614.14 L412.8,614.13 L413.3,614.11 L413.8,614.10 L414.3,614.08 L414.8,614.06 L415.3,614.05 L415.8,614.03 L416.3,614.01 L416.8,613.99 L417.3,613.97 L417.8,613.94 L418.3,613.92 L418.8,613.89 L419.3,613.85 L419.8,613.82 L420.3,613.78 L420.8,613.73 L421.3,613.68 L421.8,613.62 L422.3,613.56 L422.8,613.50 L423.3,613.43 L423.8,613.36 L424.3,613.30 L424.8,613.23 L425.3,613.17 L425.8,613.11 L426.3,613.05 L426.8,612.99 L427.3,612.93 L427.8,612.88 L428.3,612.82 L428.8,612.76 L429.3,612.70 L429.8,612.64 L430.3,612.58 L430.8,612.51 L431.3,612.44 L431.8,612.37 L432.3,612.29 L432.8,612.21 L433.3,612.13 L433.8,612.04 L434.3,611.96 L434.8,611.86 L435.3,611.76 L435.8,611.66 L436.3,611.56 L436.8,611.44 L437.3,611.32 L437.8,611.19 L438.3,611.06 L438.8,610.91 L439.3,610.77 L439.8,610.62 L440.3,610.48 L440.8,610.33 L441.3,610.19 L441.8,610.05 L442.3,609.91 L442.8,609.77 L443.3,609.62 L443.8,609.46 L444.3,609.28 L444.8,609.10 L445.3,608.91 L445.8,608.71 L446.3,608.51 L446.8,608.29 L447.3,608.07 L447.8,607.85 L448.3,607.62 L448.8,607.38 L449.3,607.14 L449.8,606.89 L450.3,606.64 L450.8,606.38 L451.3,606.11 L451.8,605.84 L452.3,605.56 L452.8,605.28 L453.3,605.00 L453.8,604.71 L454.3,604.42 L454.8,604.13 L455.3,603.84 L455.8,603.55 L456.3,603.25 L456.8,602.95 L457.3,602.65 L457.8,602.34 L458.3,602.04 L458.8,601.73 L459.3,601.43 L459.8,601.13 L460.3,600.83 L460.8,600.53 L461.3,600.23 L461.8,599.94 L462.3,599.64 L462.8,599.34 L463.3,599.04 L463.8,598.74 L464.3,598.44 L464.8,598.15 L465.3,597.86 L465.8,597.58 L466.3,597.31 L466.8,597.06 L467.3,596.82 L467.8,596.60 L468.3,596.41 L468.8,596.23 L469.3,596.07 L469.8,595.93 L470.3,595.81 L470.8,595.70 L471.3,595.62 L471.8,595.54 L472.3,595.48 L472.8,595.44 L473.3,595.40 L473.8,595.37 L474.3,595.34 L474.8,595.32 L475.3,595.30 L475.8,595.28 L476.3,595.26 L476.8,595.24 L477.3,595.22 L477.8,595.20 L478.3,595.18 L478.8,595.16 L479.3,595.14 L479.8,595.11 L480.3,595.09 L480.8,595.07 L481.3,595.05 L481.8,595.04 L482.3,595.04 L482.8,595.05 L483.3,595.07 L483.8,595.10 L484.3,595.15 L484.8,595.22 L485.3,595.31 L485.8,595.42 L486.3,595.55 L486.8,595.70 L487.3,595.87 L487.8,596.08 L488.3,596.31 L488.8,596.57 L489.3,596.86 L489.8,597.18 L490.3,597.52 L490.8,597.88 L491.3,598.27 L491.8,598.68 L492.3,599.11 L492.8,599.56 L493.3,600.02 L493.8,600.50 L494.3,600.99 L494.8,601.48 L495.3,601.98 L495.8,602.47 L496.3,602.95 L496.8,603.42 L497.3,603.89 L497.8,604.34 L498.3,604.79 L498.8,605.22 L499.3,605.64 L499.8,606.04 L500.3,606.44 L500.8,606.81 L501.3,607.17 L501.8,607.52 L502.3,607.85 L502.8,608.16 L503.3,608.45 L503.8,608.73 L504.3,608.98 L504.8,609.22 L505.3,609.43 L505.8,609.64 L506.3,609.83 L506.8,610.01 L507.3,610.19 L507.8,610.36 L508.3,610.52 L508.8,610.68 L509.3,610.82 L509.8,610.96 L510.3,611.09 L510.8,611.20 L511.3,611.31 L511.8,611.41 L512.3,611.51 L512.8,611.60 L513.3,611.68 L513.8,611.77 L514.3,611.84 L514.8,611.92 L515.3,611.99 L515.8,612.06 L516.3,612.13 L516.8,612.20 L517.3,612.26 L517.8,612.32 L518.3,612.39 L518.8,612.44 L519.3,612.50 L519.8,612.56 L520.3,612.62 L520.8,612.68 L521.3,612.74 L521.8,612.80 L522.3,612.86 L522.8,612.92 L523.3,612.98 L523.8,613.04 L524.3,613.10 L524.8,613.16 L525.3,613.22 L525.8,613.29 L526.3,613.35 L526.8,613.42 L527.3,613.49 L527.8,613.56 L528.3,613.62 L528.8,613.69 L529.3,613.75 L529.8,613.81 L530.3,613.86 L530.8,613.91 L531.3,613.96 L531.8,614.00 L532.3,614.04 L532.8,614.08 L533.3,614.11 L533.8,614.14 L534.3,614.17 L534.8,614.20 L535.3,614.23 L535.8,614.25 L536.3,614.28 L536.8,614.30 L537.3,614.32 L537.8,614.34 L538.3,614.35 L538.8,614.37 L539.3,614.38 L539.8,614.39 L540.3,614.39 L540.8,614.40 L541.3,614.40 L541.8,614.40 L549.0,614.40 L549.0,614.80 L541.8,614.80 L541.3,614.80 L540.8,614.80 L540.3,614.81 L539.8,614.81 L539.3,614.82 L538.8,614.83 L538.3,614.85 L537.8,614.86 L537.3,614.88 L536.8,614.90 L536.3,614.92 L535.8,614.95 L535.3,614.97 L534.8,615.00 L534.3,615.03 L533.8,615.06 L533.3,615.09 L532.8,615.12 L532.3,615.16 L531.8,615.20 L531.3,615.24 L530.8,615.29 L530.3,615.34 L529.8,615.39 L529.3,615.45 L528.8,615.51 L528.3,615.58 L527.8,615.64 L527.3,615.71 L526.8,615.78 L526.3,615.85 L525.8,615.91 L525.3,615.98 L524.8,616.04 L524.3,616.10 L523.8,616.16 L523.3,616.22 L522.8,616.28 L522.3,616.34 L521.8,616.40 L521.3,616.46 L520.8,616.52 L520.3,616.58 L519.8,616.64 L519.3,616.70 L518.8,616.76 L518.3,616.81 L517.8,616.88 L517.3,616.94 L516.8,617.00 L516.3,617.07 L515.8,617.14 L515.3,617.21 L514.8,617.28 L514.3,617.36 L513.8,617.43 L513.3,617.52 L512.8,617.60 L512.3,617.69 L511.8,617.79 L511.3,617.89 L510.8,618.00 L510.3,618.11 L509.8,618.24 L509.3,618.38 L508.8,618.52 L508.3,618.68 L507.8,618.84 L507.3,619.01 L506.8,619.19 L506.3,619.37 L505.8,619.56 L505.3,619.77 L504.8,619.98 L504.3,620.22 L503.8,620.47 L503.3,620.75 L502.8,621.04 L502.3,621.35 L501.8,621.68 L501.3,622.03 L500.8,622.39 L500.3,622.76 L499.8,623.16 L499.3,623.56 L498.8,623.98 L498.3,624.41 L497.8,624.86 L497.3,625.31 L496.8,625.78 L496.3,626.25 L495.8,626.73 L495.3,627.22 L494.8,627.72 L494.3,628.21 L493.8,628.70 L493.3,629.18 L492.8,629.64 L492.3,630.09 L491.8,630.52 L491.3,630.93 L490.8,631.32 L490.3,631.68 L489.8,632.02 L489.3,632.34 L488.8,632.63 L488.3,632.89 L487.8,633.12 L487.3,633.33 L486.8,633.50 L486.3,633.65 L485.8,633.78 L485.3,633.89 L484.8,633.98 L484.3,634.05 L483.8,634.10 L483.3,634.13 L482.8,634.15 L482.3,634.16 L481.8,634.16 L481.3,634.15 L480.8,634.13 L480.3,634.11 L479.8,634.09 L479.3,634.06 L478.8,634.04 L478.3,634.02 L477.8,634.00 L477.3,633.98 L476.8,633.96 L476.3,633.94 L475.8,633.92 L475.3,633.90 L474.8,633.88 L474.3,633.86 L473.8,633.83 L473.3,633.80 L472.8,633.76 L472.3,633.72 L471.8,633.66 L471.3,633.58 L470.8,633.50 L470.3,633.39 L469.8,633.27 L469.3,633.13 L468.8,632.97 L468.3,632.79 L467.8,632.60 L467.3,632.38 L466.8,632.14 L466.3,631.89 L465.8,631.62 L465.3,631.34 L464.8,631.05 L464.3,630.76 L463.8,630.46 L463.3,630.16 L462.8,629.86 L462.3,629.56 L461.8,629.26 L461.3,628.97 L460.8,628.67 L460.3,628.37 L459.8,628.07 L459.3,627.77 L458.8,627.47 L458.3,627.16 L457.8,626.86 L457.3,626.55 L456.8,626.25 L456.3,625.95 L455.8,625.65 L455.3,625.36 L454.8,625.07 L454.3,624.78 L453.8,624.49 L453.3,624.20 L452.8,623.92 L452.3,623.64 L451.8,623.36 L451.3,623.09 L450.8,622.82 L450.3,622.56 L449.8,622.31 L449.3,622.06 L448.8,621.82 L448.3,621.58 L447.8,621.35 L447.3,621.13 L446.8,620.91 L446.3,620.69 L445.8,620.49 L445.3,620.29 L444.8,620.10 L444.3,619.92 L443.8,619.74 L443.3,619.58 L442.8,619.43 L442.3,619.29 L441.8,619.15 L441.3,619.01 L440.8,618.87 L440.3,618.72 L439.8,618.58 L439.3,618.43 L438.8,618.29 L438.3,618.14 L437.8,618.01 L437.3,617.88 L436.8,617.76 L436.3,617.64 L435.8,617.54 L435.3,617.44 L434.8,617.34 L434.3,617.24 L433.8,617.16 L433.3,617.07 L432.8,616.99 L432.3,616.91 L431.8,616.83 L431.3,616.76 L430.8,616.69 L430.3,616.62 L429.8,616.56 L429.3,616.50 L428.8,616.44 L428.3,616.38 L427.8,616.32 L427.3,616.27 L426.8,616.21 L426.3,616.15 L425.8,616.09 L425.3,616.03 L424.8,615.97 L424.3,615.90 L423.8,615.84 L423.3,615.77 L422.8,615.70 L422.3,615.64 L421.8,615.58 L421.3,615.52 L420.8,615.47 L420.3,615.42 L419.8,615.38 L419.3,615.35 L418.8,615.31 L418.3,615.28 L417.8,615.26 L417.3,615.23 L416.8,615.21 L416.3,615.19 L415.8,615.17 L415.3,615.15 L414.8,615.14 L414.3,615.12 L413.8,615.10 L413.3,615.09 L412.8,615.07 L412.3,615.06 L411.8,615.05 L411.3,615.03 L410.8,615.02 L410.3,615.00 L409.8,614.99 L409.3,614.98 L408.8,614.96 L408.3,614.95 L407.8,614.94 L407.3,614.93 L406.8,614.92 L406.3,614.91 L405.8,614.89 L405.3,614.88 L404.8,614.87 L404.3,614.86 L403.8,614.85 L403.3,614.85 L402.8,614.84 L402.3,614.83 L401.8,614.82 L401.3,614.82 L400.8,614.81 L400.3,614.81 L399.8,614.80 L399.3,614.80 L398.8,614.80 L397.8,614.80 L224.8,614.80Z" fill="#3274a1" stroke="#4a4a4a" stroke-width="1.25" stroke-linejoin="round"/>
<path d="M345.9,661.60 L398.4,661.60 L398.9,661.60 L399.4,661.60 L399.9,661.59 L400.4,661.59 L400.9,661.58 L401.4,661.58 L401.9,661.57 L402.4,661.56 L402.9,661.55 L403.4,661.54 L403.9,661.52 L404.4,661.51 L404.9,661.50 L405.4,661.49 L405.9,661.47 L406.4,661.46 L406.9,661.45 L407.4,661.43 L407.9,661.42 L408.4,661.40 L408.9,661.38 L409.4,661.37 L409.9,661.35 L410.4,661.34 L410.9,661.32 L411.4,661.30 L411.9,661.28 L412.4,661.26 L412.9,661.24 L413.4,661.22 L413.9,661.20 L414.4,661.17 L414.9,661.15 L415.4,661.12 L415.9,661.09 L416.4,661.06 L416.9,661.02 L417.4,660.98 L417.9,660.94 L418.4,660.89 L418.9,660.84 L419.4,660.79 L419.9,660.74 L420.4,660.68 L420.9,660.63 L421.4,660.57 L421.9,660.52 L422.4,660.47 L422.9,660.42 L423.4,660.37 L423.9,660.33 L424.4,660.28 L424.9,660.24 L425.4,660.19 L425.9,660.14 L426.4,660.10 L426.9,660.05 L427.4,660.00 L427.9,659.94 L428.4,659.88 L428.9,659.82 L429.4,659.76 L429.9,659.69 L430.4,659.61 L430.9,659.54 L431.4,659.46 L431.9,659.38 L432.4,659.29 L432.9,659.21 L433.4,659.13 L433.9,659.05 L434.4,658.97 L434.9,658.89 L435.4,658.82 L435.9,658.74 L436.4,658.66 L436.9,658.58 L437.4,658.51 L437.9,658.43 L438.4,658.35 L438.9,658.27 L439.4,658.20 L439.9,658.12 L440.4,658.04 L440.9,657.96 L441.4,657.87 L441.9,657.78 L442.4,657.67 L442.9,657.55 L443.4,657.42 L443.9,657.26 L444.4,657.08 L444.9,656.89 L445.4,656.67 L445.9,656.44 L446.4,656.19 L446.9,655.92 L447.4,655.64 L447.9,655.33 L448.4,655.02 L448.9,654.68 L449.4,654.33 L449.9,653.97 L450.4,653.59 L450.9,653.19 L451.4,652.78 L451.9,652.36 L452.4,651.92 L452.9,651.47 L453.4,651.02 L453.9,650.55 L454.4,650.09 L454.9,649.63 L455.4,649.17 L455.9,648.71 L456.4,648.27 L456.9,647.84 L457.4,647.43 L457.9,647.03 L458.4,646.65 L458.9,646.29 L459.4,645.95 L459.9,645.61 L460.4,645.30 L460.9,645.00 L461.4,644.71 L461.9,644.45 L462.4,644.21 L462.9,643.99 L463.4,643.79 L463.9,643.63 L464.4,643.49 L464.9,643.38 L465.4,643.29 L465.9,643.23 L466.4,643.20 L466.9,643.20 L467.4,643.21 L467.9,643.25 L468.4,643.31 L468.9,643.39 L469.4,643.49 L469.9,643.60 L470.4,643.74 L470.9,643.88 L471.4,644.03 L471.9,644.19 L472.4,644.35 L472.9,644.51 L473.4,644.67 L473.9,644.82 L474.4,644.97 L474.9,645.12 L475.4,645.26 L475.9,645.41 L476.4,645.56 L476.9,645.72 L477.4,645.90 L477.9,646.10 L478.4,646.34 L478.9,646.60 L479.4,646.88 L479.9,647.17 L480.4,647.46 L480.9,647.75 L481.4,648.01 L481.9,648.26 L482.4,648.48 L482.9,648.70 L483.4,648.90 L483.9,649.10 L484.4,649.30 L484.9,649.49 L485.4,649.69 L485.9,649.89 L486.4,650.10 L486.9,650.31 L487.4,650.52 L487.9,650.74 L488.4,650.97 L488.9,651.20 L489.4,651.44 L489.9,651.70 L490.4,651.97 L490.9,652.24 L491.4,652.53 L491.9,652.83 L492.4,653.13 L492.9,653.44 L493.4,653.74 L493.9,654.05 L494.4,654.36 L494.9,654.65 L495.4,654.94 L495.9,655.22 L496.4,655.49 L496.9,655.74 L497.4,655.98 L497.9,656.20 L498.4,656.40 L498.9,656.60 L499.4,656.77 L499.9,656.94 L500.4,657.10 L500.9,657.24 L501.4,657.38 L501.9,657.51 L502.4,657.64 L502.9,657.76 L503.4,657.87 L503.9,657.98 L504.4,658.07 L504.9,658.16 L505.4,658.25 L505.9,658.33 L506.4,658.40 L506.9,658.47 L507.4,658.54 L507.9,658.61 L508.4,658.67 L508.9,658.74 L509.4,658.80 L509.9,658.86 L510.4,658.93 L510.9,658.99 L511.4,659.06 L511.9,659.12 L512.4,659.18 L512.9,659.24 L513.4,659.31 L513.9,659.37 L514.4,659.42 L514.9,659.48 L515.4,659.53 L515.9,659.58 L516.4,659.63 L516.9,659.68 L517.4,659.72 L517.9,659.77 L518.4,659.81 L518.9,659.85 L519.4,659.89 L519.9,659.93 L520.4,659.96 L520.9,660.00 L521.4,660.03 L521.9,660.07 L522.4,660.10 L522.9,660.14 L523.4,660.17 L523.9,660.20 L524.4,660.24 L524.9,660.27 L525.4,660.30 L525.9,660.33 L526.4,660.36 L526.9,660.39 L527.4,660.42 L527.9,660.45 L528.4,660.48 L528.9,660.51 L529.4,660.54 L529.9,660.56 L530.4,660.59 L530.9,660.62 L531.4,660.64 L531.9,660.67 L532.4,660.69 L532.9,660.72 L533.4,660.75 L533.9,660.77 L534.4,660.80 L534.9,660.82 L535.4,660.84 L535.9,660.87 L536.4,660.89 L536.9,660.92 L537.4,660.94 L537.9,660.96 L538.4,660.98 L538.9,661.00 L539.4,661.03 L539.9,661.05 L540.4,661.06 L540.9,661.08 L541.4,661.10 L541.9,661.12 L542.4,661.14 L542.9,661.15 L543.4,661.17 L543.9,661.18 L544.4,661.20 L544.9,661.21 L545.4,661.23 L545.9,661.24 L546.4,661.25 L546.9,661.27 L547.4,661.28 L547.9,661.29 L548.4,661.31 L548.9,661.32 L549.4,661.33 L549.9,661.35 L550.4,661.36 L550.9,661.37 L551.4,661.39 L551.9,661.40 L552.4,661.41 L552.9,661.43 L553.4,661.44 L553.9,661.45 L554.4,661.46 L554.9,661.48 L555.4,661.49 L555.9,661.50 L556.4,661.51 L556.9,661.53 L557.4,661.54 L557.9,661.55 L558.4,661.56 L558.9,661.57 L559.4,661.58 L559.9,661.59 L560.4,661.59 L560.9,661.60 L561.4,661.60 L561.9,661.60 L612.6,661.60 L612.6,662.00 L561.9,662.00 L561.4,662.00 L560.9,662.00 L560.4,662.01 L559.9,662.01 L559.4,662.02 L558.9,662.03 L558.4,662.04 L557.9,662.05 L557.4,662.06 L556.9,662.07 L556.4,662.09 L555.9,662.10 L555.4,662.11 L554.9,662.12 L554.4,662.14 L553.9,662.15 L553.4,662.16 L552.9,662.17 L552.4,662.19 L551.9,662.20 L551.4,662.21 L550.9,662.23 L550.4,662.24 L549.9,662.25 L549.4,662.27 L548.9,662.28 L548.4,662.29 L547.9,662.31 L547.4,662.32 L546.9,662.33 L546.4,662.35 L545.9,662.36 L545.4,662.37 L544.9,662.39 L544.4,662.40 L543.9,662.42 L543.4,662.43 L542.9,662.45 L542.4,662.46 L541.9,662.48 L541.4,662.50 L540.9,662.52 L540.4,662.54 L539.9,662.55 L539.4,662.57 L538.9,662.60 L538.4,662.62 L537.9,662.64 L537.4,662.66 L536.9,662.68 L536.4,662.71 L535.9,662.73 L535.4,662.76 L534.9,662.78 L534.4,662.80 L533.9,662.83 L533.4,662.85 L532.9,662.88 L532.4,662.91 L531.9,662.93 L531.4,662.96 L530.9,662.98 L530.4,663.01 L529.9,663.04 L529.4,663.06 L528.9,663.09 L528.4,663.12 L527.9,663.15 L527.4,663.18 L526.9,663.21 L526.4,663.24 L525.9,663.27 L525.4,663.30 L524.9,663.33 L524.4,663.36 L523.9,663.40 L523.4,663.43 L522.9,663.46 L522.4,663.50 L521.9,663.53 L521.4,663.57 L520.9,663.60 L520.4,663.64 L519.9,663.67 L519.4,663.71 L518.9,663.75 L518.4,663.79 L517.9,663.83 L517.4,663.88 L516.9,663.92 L516.4,663.97 L515.9,664.02 L515.4,664.07 L514.9,664.12 L514.4,664.18 L513.9,664.23 L513.4,664.29 L512.9,664.36 L512.4,664.42 L511.9,664.48 L511.4,664.54 L510.9,664.61 L510.4,664.67 L509.9,664.74 L509.4,664.80 L508.9,664.86 L508.4,664.93 L507.9,664.99 L507.4,665.06 L506.9,665.13 L506.4,665.20 L505.9,665.27 L505.4,665.35 L504.9,665.44 L504.4,665.53 L503.9,665.62 L503.4,665.73 L502.9,665.84 L502.4,665.96 L501.9,666.09 L501.4,666.22 L500.9,666.36 L500.4,666.50 L499.9,666.66 L499.4,666.83 L498.9,667.00 L498.4,667.20 L497.9,667.40 L497.4,667.62 L496.9,667.86 L496.4,668.11 L495.9,668.38 L495.4,668.66 L494.9,668.95 L494.4,669.24 L493.9,669.55 L493.4,669.86 L492.9,670.16 L492.4,670.47 L491.9,670.77 L491.4,671.07 L490.9,671.36 L490.4,671.63 L489.9,671.90 L489.4,672.16 L488.9,672.40 L488.4,672.63 L487.9,672.86 L487.4,673.08 L486.9,673.29 L486.4,673.50 L485.9,673.71 L485.4,673.91 L484.9,674.11 L484.4,674.30 L483.9,674.50 L483.4,674.70 L482.9,674.90 L482.4,675.12 L481.9,675.34 L481.4,675.59 L480.9,675.85 L480.4,676.14 L479.9,676.43 L479.4,676.72 L478.9,677.00 L478.4,677.26 L477.9,677.50 L477.4,677.70 L476.9,677.88 L476.4,678.04 L475.9,678.19 L475.4,678.34 L474.9,678.48 L474.4,678.63 L473.9,678.78 L473.4,678.93 L472.9,679.09 L472.4,679.25 L471.9,679.41 L471.4,679.57 L470.9,679.72 L470.4,679.86 L469.9,680.00 L469.4,680.11 L468.9,680.21 L468.4,680.29 L467.9,680.35 L467.4,680.39 L466.9,680.40 L466.4,680.40 L465.9,680.37 L465.4,680.31 L464.9,680.22 L464.4,680.11 L463.9,679.97 L463.4,679.81 L462.9,679.61 L462.4,679.39 L461.9,679.15 L461.4,678.89 L460.9,678.60 L460.4,678.30 L459.9,677.99 L459.4,677.65 L458.9,677.31 L458.4,676.95 L457.9,676.57 L457.4,676.17 L456.9,675.76 L456.4,675.33 L455.9,674.89 L455.4,674.43 L454.9,673.97 L454.4,673.51 L453.9,673.05 L453.4,672.58 L452.9,672.13 L452.4,671.68 L451.9,671.24 L451.4,670.82 L450.9,670.41 L450.4,670.01 L449.9,669.63 L449.4,669.27 L448.9,668.92 L448.4,668.58 L447.9,668.27 L447.4,667.96 L446.9,667.68 L446.4,667.41 L445.9,667.16 L445.4,666.93 L444.9,666.71 L444.4,666.52 L443.9,666.34 L443.4,666.18 L442.9,666.05 L442.4,665.93 L441.9,665.82 L441.4,665.73 L440.9,665.64 L440.4,665.56 L439.9,665.48 L439.4,665.40 L438.9,665.33 L438.4,665.25 L437.9,665.17 L437.4,665.09 L436.9,665.02 L436.4,664.94 L435.9,664.86 L435.4,664.78 L434.9,664.71 L434.4,664.63 L433.9,664.55 L433.4,664.47 L432.9,664.39 L432.4,664.31 L431.9,664.22 L431.4,664.14 L430.9,664.06 L430.4,663.99 L429.9,663.91 L429.4,663.84 L428.9,663.78 L428.4,663.72 L427.9,663.66 L427.4,663.60 L426.9,663.55 L426.4,663.50 L425.9,663.46 L425.4,663.41 L424.9,663.36 L424.4,663.32 L423.9,663.27 L423.4,663.23 L422.9,663.18 L422.4,663.13 L421.9,663.08 L421.4,663.03 L420.9,662.97 L420.4,662.92 L419.9,662.86 L419.4,662.81 L418.9,662.76 L418.4,662.71 L417.9,662.66 L417.4,662.62 L416.9,662.58 L416.4,662.54 L415.9,662.51 L415.4,662.48 L414.9,662.45 L414.4,662.43 L413.9,662.40 L413.4,662.38 L412.9,662.36 L412.4,662.34 L411.9,662.32 L411.4,662.30 L410.9,662.28 L410.4,662.26 L409.9,662.25 L409.4,662.23 L408.9,662.22 L408.4,662.20 L407.9,662.18 L407.4,662.17 L406.9,662.15 L406.4,662.14 L405.9,662.13 L405.4,662.11 L404.9,662.10 L404.4,662.09 L403.9,662.08 L403.4,662.06 L402.9,662.05 L402.4,662.04 L401.9,662.03 L401.4,662.02 L400.9,662.02 L400.4,662.01 L399.9,662.01 L399.4,662.00 L398.9,662.00 L398.4,662.00 L395.9,662.00 L345.9,662.00Z" fill="#3274a1" stroke="#4a4a4a" stroke-width="1.25" stroke-linejoin="round"/>
<path d="M88.3,708.80 L398.3,708.80 L398.8,708.80 L399.3,708.79 L399.8,708.79 L400.3,708.78 L400.8,708.77 L401.3,708.76 L401.8,708.75 L402.3,708.74 L402.8,708.72 L403.3,708.71 L403.8,708.70 L404.3,708.68 L404.8,708.67 L405.3,708.66 L405.8,708.65 L406.3,708.64 L406.8,708.63 L407.3,708.62 L407.8,708.61 L408.3,708.60 L408.8,708.59 L409.3,708.59 L409.8,708.58 L410.3,708.57 L410.8,708.56 L411.3,708.56 L411.8,708.55 L412.3,708.55 L412.8,708.55 L413.3,708.54 L413.8,708.54 L414.3,708.54 L414.8,708.53 L415.3,708.53 L415.8,708.53 L416.3,708.53 L416.8,708.52 L417.3,708.52 L417.8,708.52 L418.3,708.51 L418.8,708.51 L419.3,708.49 L419.8,708.48 L420.3,708.46 L420.8,708.43 L421.3,708.40 L421.8,708.36 L422.3,708.32 L422.8,708.28 L423.3,708.24 L423.8,708.19 L424.3,708.15 L424.8,708.11 L425.3,708.07 L425.8,708.02 L426.3,707.98 L426.8,707.94 L427.3,707.90 L427.8,707.85 L428.3,707.81 L428.8,707.76 L429.3,707.71 L429.8,707.67 L430.3,707.62 L430.8,707.57 L431.3,707.52 L431.8,707.47 L432.3,707.43 L432.8,707.38 L433.3,707.33 L433.8,707.29 L434.3,707.25 L434.8,707.21 L435.3,707.17 L435.8,707.13 L436.3,707.09 L436.8,707.06 L437.3,707.02 L437.8,706.98 L438.3,706.94 L438.8,706.90 L439.3,706.85 L439.8,706.81 L440.3,706.75 L440.8,706.70 L441.3,706.63 L441.8,706.56 L442.3,706.49 L442.8,706.40 L443.3,706.31 L443.8,706.21 L444.3,706.09 L444.8,705.97 L445.3,705.84 L445.8,705.71 L446.3,705.56 L446.8,705.41 L447.3,705.26 L447.8,705.11 L448.3,704.95 L448.8,704.80 L449.3,704.64 L449.8,704.47 L450.3,704.31 L450.8,704.14 L451.3,703.97 L451.8,703.80 L452.3,703.62 L452.8,703.44 L453.3,703.26 L453.8,703.08 L454.3,702.89 L454.8,702.71 L455.3,702.52 L455.8,702.33 L456.3,702.14 L456.8,701.95 L457.3,701.75 L457.8,701.55 L458.3,701.34 L458.8,701.13 L459.3,700.92 L459.8,700.70 L460.3,700.47 L460.8,700.23 L461.3,699.98 L461.8,699.73 L462.3,699.46 L462.8,699.19 L463.3,698.91 L463.8,698.62 L464.3,698.32 L464.8,698.01 L465.3,697.69 L465.8,697.36 L466.3,697.03 L466.8,696.68 L467.3,696.33 L467.8,695.97 L468.3,695.62 L468.8,695.27 L469.3,694.93 L469.8,694.60 L470.3,694.28 L470.8,693.96 L471.3,693.66 L471.8,693.37 L472.3,693.08 L472.8,692.82 L473.3,692.56 L473.8,692.31 L474.3,692.08 L474.8,691.87 L475.3,691.67 L475.8,691.48 L476.3,691.31 L476.8,691.16 L477.3,691.03 L477.8,690.92 L478.3,690.83 L478.8,690.77 L479.3,690.74 L479.8,690.74 L480.3,690.79 L480.8,690.87 L481.3,691.01 L481.8,691.18 L482.3,691.41 L482.8,691.67 L483.3,691.96 L483.8,692.27 L484.3,692.61 L484.8,692.95 L485.3,693.31 L485.8,693.66 L486.3,694.02 L486.8,694.37 L487.3,694.72 L487.8,695.06 L488.3,695.40 L488.8,695.74 L489.3,696.08 L489.8,696.43 L490.3,696.78 L490.8,697.13 L491.3,697.49 L491.8,697.84 L492.3,698.20 L492.8,698.56 L493.3,698.91 L493.8,699.26 L494.3,699.61 L494.8,699.95 L495.3,700.28 L495.8,700.61 L496.3,700.94 L496.8,701.25 L497.3,701.56 L497.8,701.86 L498.3,702.15 L498.8,702.42 L499.3,702.69 L499.8,702.95 L500.3,703.21 L500.8,703.46 L501.3,703.70 L501.8,703.95 L502.3,704.19 L502.8,704.43 L503.3,704.67 L503.8,704.91 L504.3,705.14 L504.8,705.36 L505.3,705.58 L505.8,705.79 L506.3,705.99 L506.8,706.18 L507.3,706.36 L507.8,706.53 L508.3,706.70 L508.8,706.85 L509.3,706.99 L509.8,707.12 L510.3,707.24 L510.8,707.36 L511.3,707.46 L511.8,707.56 L512.3,707.65 L512.8,707.73 L513.3,707.80 L513.8,707.87 L514.3,707.93 L514.8,707.98 L515.3,708.03 L515.8,708.07 L516.3,708.11 L516.8,708.15 L517.3,708.19 L517.8,708.22 L518.3,708.26 L518.8,708.29 L519.3,708.31 L519.8,708.34 L520.3,708.36 L520.8,708.39 L521.3,708.41 L521.8,708.43 L522.3,708.44 L522.8,708.46 L523.3,708.47 L523.8,708.49 L524.3,708.50 L524.8,708.52 L525.3,708.53 L525.8,708.54 L526.3,708.56 L526.8,708.57 L527.3,708.58 L527.8,708.60 L528.3,708.61 L528.8,708.62 L529.3,708.64 L529.8,708.65 L530.3,708.67 L530.8,708.68 L531.3,708.69 L531.8,708.71 L532.3,708.72 L532.8,708.74 L533.3,708.75 L533.8,708.76 L534.3,708.77 L534.8,708.78 L535.3,708.79 L535.8,708.79 L536.3,708.80 L536.8,708.80 L537.8,708.80 L603.8,708.80 L603.8,709.20 L536.8,709.20 L536.3,709.20 L535.8,709.21 L535.3,709.21 L534.8,709.22 L534.3,709.23 L533.8,709.24 L533.3,709.25 L532.8,709.26 L532.3,709.28 L531.8,709.29 L531.3,709.31 L530.8,709.32 L530.3,709.33 L529.8,709.35 L529.3,709.36 L528.8,709.38 L528.3,709.39 L527.8,709.40 L527.3,709.42 L526.8,709.43 L526.3,709.44 L525.8,709.46 L525.3,709.47 L524.8,709.48 L524.3,709.50 L523.8,709.51 L523.3,709.53 L522.8,709.54 L522.3,709.56 L521.8,709.57 L521.3,709.59 L520.8,709.61 L520.3,709.64 L519.8,709.66 L519.3,709.69 L518.8,709.71 L518.3,709.74 L517.8,709.78 L517.3,709.81 L516.8,709.85 L516.3,709.89 L515.8,709.93 L515.3,709.97 L514.8,710.02 L514.3,710.07 L513.8,710.13 L513.3,710.20 L512.8,710.27 L512.3,710.35 L511.8,710.44 L511.3,710.54 L510.8,710.64 L510.3,710.76 L509.8,710.88 L509.3,711.01 L508.8,711.15 L508.3,711.30 L507.8,711.47 L507.3,711.64 L506.8,711.82 L506.3,712.01 L505.8,712.21 L505.3,712.42 L504.8,712.64 L504.3,712.86 L503.8,713.09 L503.3,713.33 L502.8,713.57 L502.3,713.81 L501.8,714.05 L501.3,714.30 L500.8,714.54 L500.3,714.79 L499.8,715.05 L499.3,715.31 L498.8,715.58 L498.3,715.85 L497.8,716.14 L497.3,716.44 L496.8,716.75 L496.3,717.06 L495.8,717.39 L495.3,717.72 L494.8,718.05 L494.3,718.39 L493.8,718.74 L493.3,719.09 L492.8,719.44 L492.3,719.80 L491.8,720.16 L491.3,720.51 L490.8,720.87 L490.3,721.22 L489.8,721.57 L489.3,721.92 L488.8,722.26 L488.3,722.60 L487.8,722.94 L487.3,723.28 L486.8,723.63 L486.3,723.98 L485.8,724.34 L485.3,724.69 L484.8,725.05 L484.3,725.39 L483.8,725.73 L483.3,726.04 L482.8,726.33 L482.3,726.59 L481.8,726.82 L481.3,726.99 L480.8,727.13 L480.3,727.21 L479.8,727.26 L479.3,727.26 L478.8,727.23 L478.3,727.17 L477.8,727.08 L477.3,726.97 L476.8,726.84 L476.3,726.69 L475.8,726.52 L475.3,726.33 L474.8,726.13 L474.3,725.92 L473.8,725.69 L473.3,725.44 L472.8,725.18 L472.3,724.92 L471.8,724.63 L471.3,724.34 L470.8,724.04 L470.3,723.72 L469.8,723.40 L469.3,723.07 L468.8,722.73 L468.3,722.38 L467.8,722.03 L467.3,721.67 L466.8,721.32 L466.3,720.97 L465.8,720.64 L465.3,720.31 L464.8,719.99 L464.3,719.68 L463.8,719.38 L463.3,719.09 L462.8,718.81 L462.3,718.54 L461.8,718.27 L461.3,718.02 L460.8,717.77 L460.3,717.53 L459.8,717.30 L459.3,717.08 L458.8,716.87 L458.3,716.66 L457.8,716.45 L457.3,716.25 L456.8,716.05 L456.3,715.86 L455.8,715.67 L455.3,715.48 L454.8,715.29 L454.3,715.11 L453.8,714.92 L453.3,714.74 L452.8,714.56 L452.3,714.38 L451.8,714.20 L451.3,714.03 L450.8,713.86 L450.3,713.69 L449.8,713.53 L449.3,713.36 L448.8,713.20 L448.3,713.05 L447.8,712.89 L447.3,712.74 L446.8,712.59 L446.3,712.44 L445.8,712.29 L445.3,712.16 L444.8,712.03 L444.3,711.91 L443.8,711.79 L443.3,711.69 L442.8,711.60 L442.3,711.51 L441.8,711.44 L441.3,711.37 L440.8,711.30 L440.3,711.25 L439.8,711.19 L439.3,711.15 L438.8,711.10 L438.3,711.06 L437.8,711.02 L437.3,710.98 L436.8,710.94 L436.3,710.91 L435.8,710.87 L435.3,710.83 L434.8,710.79 L434.3,710.75 L433.8,710.71 L433.3,710.67 L432.8,710.62 L432.3,710.57 L431.8,710.53 L431.3,710.48 L430.8,710.43 L430.3,710.38 L429.8,710.33 L429.3,710.29 L428.8,710.24 L428.3,710.19 L427.8,710.15 L427.3,710.10 L426.8,710.06 L426.3,710.02 L425.8,709.98 L425.3,709.93 L424.8,709.89 L424.3,709.85 L423.8,709.81 L423.3,709.76 L422.8,709.72 L422.3,709.68 L421.8,709.64 L421.3,709.60 L420.8,709.57 L420.3,709.54 L419.8,709.52 L419.3,709.51 L418.8,709.49 L418.3,709.49 L417.8,709.48 L417.3,709.48 L416.8,709.48 L416.3,709.47 L415.8,709.47 L415.3,709.47 L414.8,709.47 L414.3,709.46 L413.8,709.46 L413.3,709.46 L412.8,709.45 L412.3,709.45 L411.8,709.45 L411.3,709.44 L410.8,709.44 L410.3,709.43 L409.8,709.42 L409.3,709.41 L408.8,709.41 L408.3,709.40 L407.8,709.39 L407.3,709.38 L406.8,709.37 L406.3,709.36 L405.8,709.35 L405.3,709.34 L404.8,709.33 L404.3,709.32 L403.8,709.30 L403.3,709.29 L402.8,709.28 L402.3,709.26 L401.8,709.25 L401.3,709.24 L400.8,709.23 L400.3,709.22 L399.8,709.21 L399.3,709.21 L398.8,709.20 L398.3,709.20 L397.3,709.20 L88.3,709.20Z" fill="#3274a1" stroke="#4a4a4a" stroke-width="1.25" stroke-linejoin="round"/>
<path d="M323.0,756.00 L373.0,756.00 L373.5,756.00 L374.0,756.00 L374.5,755.99 L375.0,755.99 L375.5,755.98 L376.0,755.97 L376.5,755.95 L377.0,755.94 L377.5,755.93 L378.0,755.91 L378.5,755.90 L379.0,755.89 L379.5,755.88 L380.0,755.86 L380.5,755.85 L381.0,755.84 L381.5,755.83 L382.0,755.81 L382.5,755.80 L383.0,755.79 L383.5,755.78 L384.0,755.77 L384.5,755.76 L385.0,755.75 L385.5,755.74 L386.0,755.73 L386.5,755.73 L387.0,755.72 L387.5,755.71 L388.0,755.70 L388.5,755.70 L389.0,755.69 L389.5,755.68 L390.0,755.68 L390.5,755.67 L391.0,755.66 L391.5,755.66 L392.0,755.65 L392.5,755.64 L393.0,755.63 L393.5,755.62 L394.0,755.61 L394.5,755.60 L395.0,755.58 L395.5,755.57 L396.0,755.55 L396.5,755.54 L397.0,755.52 L397.5,755.49 L398.0,755.47 L398.5,755.45 L399.0,755.42 L399.5,755.39 L400.0,755.37 L400.5,755.34 L401.0,755.30 L401.5,755.27 L402.0,755.23 L402.5,755.19 L403.0,755.15 L403.5,755.11 L404.0,755.06 L404.5,755.00 L405.0,754.95 L405.5,754.89 L406.0,754.83 L406.5,754.76 L407.0,754.70 L407.5,754.63 L408.0,754.56 L408.5,754.49 L409.0,754.42 L409.5,754.35 L410.0,754.27 L410.5,754.19 L411.0,754.11 L411.5,754.02 L412.0,753.94 L412.5,753.85 L413.0,753.75 L413.5,753.66 L414.0,753.57 L414.5,753.47 L415.0,753.38 L415.5,753.29 L416.0,753.19 L416.5,753.10 L417.0,753.00 L417.5,752.91 L418.0,752.81 L418.5,752.72 L419.0,752.62 L419.5,752.53 L420.0,752.43 L420.5,752.33 L421.0,752.24 L421.5,752.15 L422.0,752.06 L422.5,751.97 L423.0,751.89 L423.5,751.81 L424.0,751.74 L424.5,751.67 L425.0,751.60 L425.5,751.53 L426.0,751.47 L426.5,751.40 L427.0,751.33 L427.5,751.25 L428.0,751.17 L428.5,751.08 L429.0,750.98 L429.5,750.87 L430.0,750.75 L430.5,750.63 L431.0,750.51 L431.5,750.38 L432.0,750.25 L432.5,750.13 L433.0,750.00 L433.5,749.88 L434.0,749.77 L434.5,749.65 L435.0,749.54 L435.5,749.44 L436.0,749.33 L436.5,749.22 L437.0,749.12 L437.5,749.02 L438.0,748.92 L438.5,748.83 L439.0,748.73 L439.5,748.64 L440.0,748.55 L440.5,748.47 L441.0,748.38 L441.5,748.30 L442.0,748.22 L442.5,748.14 L443.0,748.06 L443.5,747.99 L444.0,747.92 L444.5,747.84 L445.0,747.77 L445.5,747.71 L446.0,747.64 L446.5,747.58 L447.0,747.51 L447.5,747.45 L448.0,747.39 L448.5,747.33 L449.0,747.28 L449.5,747.22 L450.0,747.16 L450.5,747.10 L451.0,747.05 L451.5,746.99 L452.0,746.93 L452.5,746.88 L453.0,746.82 L453.5,746.76 L454.0,746.70 L454.5,746.64 L455.0,746.57 L455.5,746.50 L456.0,746.43 L456.5,746.35 L457.0,746.27 L457.5,746.18 L458.0,746.09 L458.5,746.00 L459.0,745.91 L459.5,745.81 L460.0,745.70 L460.5,745.59 L461.0,745.47 L461.5,745.35 L462.0,745.22 L462.5,745.09 L463.0,744.95 L463.5,744.82 L464.0,744.69 L464.5,744.56 L465.0,744.45 L465.5,744.33 L466.0,744.23 L466.5,744.14 L467.0,744.05 L467.5,743.97 L468.0,743.89 L468.5,743.82 L469.0,743.75 L469.5,743.68 L470.0,743.61 L470.5,743.54 L471.0,743.46 L471.5,743.39 L472.0,743.31 L472.5,743.23 L473.0,743.15 L473.5,743.06 L474.0,742.98 L474.5,742.89 L475.0,742.79 L475.5,742.69 L476.0,742.58 L476.5,742.47 L477.0,742.34 L477.5,742.19 L478.0,742.03 L478.5,741.86 L479.0,741.67 L479.5,741.47 L480.0,741.27 L480.5,741.06 L481.0,740.85 L481.5,740.65 L482.0,740.45 L482.5,740.25 L483.0,740.04 L483.5,739.84 L484.0,739.65 L484.5,739.45 L485.0,739.25 L485.5,739.06 L486.0,738.87 L486.5,738.70 L487.0,738.53 L487.5,738.36 L488.0,738.21 L488.5,738.06 L489.0,737.92 L489.5,737.79 L490.0,737.66 L490.5,737.55 L491.0,737.45 L491.5,737.37 L492.0,737.31 L492.5,737.27 L493.0,737.26 L493.5,737.26 L494.0,737.27 L494.5,737.30 L495.0,737.35 L495.5,737.42 L496.0,737.52 L496.5,737.64 L497.0,737.78 L497.5,737.96 L498.0,738.17 L498.5,738.41 L499.0,738.68 L499.5,738.99 L500.0,739.33 L500.5,739.70 L501.0,740.10 L501.5,740.52 L502.0,740.97 L502.5,741.44 L503.0,741.92 L503.5,742.41 L504.0,742.92 L504.5,743.42 L505.0,743.94 L505.5,744.45 L506.0,744.95 L506.5,745.43 L507.0,745.90 L507.5,746.34 L508.0,746.75 L508.5,747.14 L509.0,747.51 L509.5,747.85 L510.0,748.17 L510.5,748.48 L511.0,748.78 L511.5,749.06 L512.0,749.33 L512.5,749.59 L513.0,749.84 L513.5,750.07 L514.0,750.30 L514.5,750.52 L515.0,750.72 L515.5,750.92 L516.0,751.10 L516.5,751.28 L517.0,751.45 L517.5,751.61 L518.0,751.76 L518.5,751.91 L519.0,752.06 L519.5,752.21 L520.0,752.36 L520.5,752.51 L521.0,752.67 L521.5,752.82 L522.0,752.97 L522.5,753.13 L523.0,753.28 L523.5,753.43 L524.0,753.58 L524.5,753.73 L525.0,753.88 L525.5,754.02 L526.0,754.16 L526.5,754.29 L527.0,754.42 L527.5,754.54 L528.0,754.65 L528.5,754.75 L529.0,754.84 L529.5,754.92 L530.0,754.99 L530.5,755.06 L531.0,755.12 L531.5,755.18 L532.0,755.24 L532.5,755.29 L533.0,755.34 L533.5,755.38 L534.0,755.43 L534.5,755.46 L535.0,755.49 L535.5,755.52 L536.0,755.55 L536.5,755.57 L537.0,755.59 L537.5,755.61 L538.0,755.63 L538.5,755.65 L539.0,755.66 L539.5,755.68 L540.0,755.69 L540.5,755.71 L541.0,755.72 L541.5,755.74 L542.0,755.75 L542.5,755.77 L543.0,755.78 L543.5,755.80 L544.0,755.81 L544.5,755.83 L545.0,755.84 L545.5,755.86 L546.0,755.87 L546.5,755.89 L547.0,755.90 L547.5,755.92 L548.0,755.94 L548.5,755.95 L549.0,755.96 L549.5,755.97 L550.0,755.98 L550.5,755.99 L551.0,755.99 L551.5,756.00 L552.0,756.00 L553.5,756.00 L565.6,756.00 L565.6,756.40 L552.0,756.40 L551.5,756.40 L551.0,756.41 L550.5,756.41 L550.0,756.42 L549.5,756.43 L549.0,756.44 L548.5,756.45 L548.0,756.46 L547.5,756.48 L547.0,756.50 L546.5,756.51 L546.0,756.53 L545.5,756.54 L545.0,756.56 L544.5,756.57 L544.0,756.59 L543.5,756.60 L543.0,756.62 L542.5,756.63 L542.0,756.65 L541.5,756.66 L541.0,756.68 L540.5,756.69 L540.0,756.71 L539.5,756.72 L539.0,756.74 L538.5,756.75 L538.0,756.77 L537.5,756.79 L537.0,756.81 L536.5,756.83 L536.0,756.85 L535.5,756.88 L535.0,756.91 L534.5,756.94 L534.0,756.97 L533.5,757.02 L533.0,757.06 L532.5,757.11 L532.0,757.16 L531.5,757.22 L531.0,757.28 L530.5,757.34 L530.0,757.41 L529.5,757.48 L529.0,757.56 L528.5,757.65 L528.0,757.75 L527.5,757.86 L527.0,757.98 L526.5,758.11 L526.0,758.24 L525.5,758.38 L525.0,758.52 L524.5,758.67 L524.0,758.82 L523.5,758.97 L523.0,759.12 L522.5,759.27 L522.0,759.43 L521.5,759.58 L521.0,759.73 L520.5,759.89 L520.0,760.04 L519.5,760.19 L519.0,760.34 L518.5,760.49 L518.0,760.64 L517.5,760.79 L517.0,760.95 L516.5,761.12 L516.0,761.30 L515.5,761.48 L515.0,761.68 L514.5,761.88 L514.0,762.10 L513.5,762.33 L513.0,762.56 L512.5,762.81 L512.0,763.07 L511.5,763.34 L511.0,763.62 L510.5,763.92 L510.0,764.23 L509.5,764.55 L509.0,764.89 L508.5,765.26 L508.0,765.65 L507.5,766.06 L507.0,766.50 L506.5,766.97 L506.0,767.45 L505.5,767.95 L505.0,768.46 L504.5,768.98 L504.0,769.48 L503.5,769.99 L503.0,770.48 L502.5,770.96 L502.0,771.43 L501.5,771.88 L501.0,772.30 L500.5,772.70 L500.0,773.07 L499.5,773.41 L499.0,773.72 L498.5,773.99 L498.0,774.23 L497.5,774.44 L497.0,774.62 L496.5,774.76 L496.0,774.88 L495.5,774.98 L495.0,775.05 L494.5,775.10 L494.0,775.13 L493.5,775.14 L493.0,775.14 L492.5,775.13 L492.0,775.09 L491.5,775.03 L491.0,774.95 L490.5,774.85 L490.0,774.74 L489.5,774.61 L489.0,774.48 L488.5,774.34 L488.0,774.19 L487.5,774.04 L487.0,773.87 L486.5,773.70 L486.0,773.53 L485.5,773.34 L485.0,773.15 L484.5,772.95 L484.0,772.75 L483.5,772.56 L483.0,772.36 L482.5,772.15 L482.0,771.95 L481.5,771.75 L481.0,771.55 L480.5,771.34 L480.0,771.13 L479.5,770.93 L479.0,770.73 L478.5,770.54 L478.0,770.37 L477.5,770.21 L477.0,770.06 L476.5,769.93 L476.0,769.82 L475.5,769.71 L475.0,769.61 L474.5,769.51 L474.0,769.42 L473.5,769.34 L473.0,769.25 L472.5,769.17 L472.0,769.09 L471.5,769.01 L471.0,768.94 L470.5,768.86 L470.0,768.79 L469.5,768.72 L469.0,768.65 L468.5,768.58 L468.0,768.51 L467.5,768.43 L467.0,768.35 L466.5,768.26 L466.0,768.17 L465.5,768.07 L465.0,767.95 L464.5,767.84 L464.0,767.71 L463.5,767.58 L463.0,767.45 L462.5,767.31 L462.0,767.18 L461.5,767.05 L461.0,766.93 L460.5,766.81 L460.0,766.70 L459.5,766.59 L459.0,766.49 L458.5,766.40 L458.0,766.31 L457.5,766.22 L457.0,766.13 L456.5,766.05 L456.0,765.97 L455.5,765.90 L455.0,765.83 L454.5,765.76 L454.0,765.70 L453.5,765.64 L453.0,765.58 L452.5,765.52 L452.0,765.47 L451.5,765.41 L451.0,765.35 L450.5,765.30 L450.0,765.24 L449.5,765.18 L449.0,765.12 L448.5,765.07 L448.0,765.01 L447.5,764.95 L447.0,764.89 L446.5,764.82 L446.0,764.76 L445.5,764.69 L445.0,764.63 L444.5,764.56 L444.0,764.48 L443.5,764.41 L443.0,764.34 L442.5,764.26 L442.0,764.18 L441.5,764.10 L441.0,764.02 L440.5,763.93 L440.0,763.85 L439.5,763.76 L439.0,763.67 L438.5,763.57 L438.0,763.48 L437.5,763.38 L437.0,763.28 L436.5,763.18 L436.0,763.07 L435.5,762.96 L435.0,762.86 L434.5,762.75 L434.0,762.63 L433.5,762.52 L433.0,762.40 L432.5,762.27 L432.0,762.15 L431.5,762.02 L431.0,761.89 L430.5,761.77 L430.0,761.65 L429.5,761.53 L429.0,761.42 L428.5,761.32 L428.0,761.23 L427.5,761.15 L427.0,761.07 L426.5,761.00 L426.0,760.93 L425.5,760.87 L425.0,760.80 L424.5,760.73 L424.0,760.66 L423.5,760.59 L423.0,760.51 L422.5,760.43 L422.0,760.34 L421.5,760.25 L421.0,760.16 L420.5,760.07 L420.0,759.97 L419.5,759.87 L419.0,759.78 L418.5,759.68 L418.0,759.59 L417.5,759.49 L417.0,759.40 L416.5,759.30 L416.0,759.21 L415.5,759.11 L415.0,759.02 L414.5,758.93 L414.0,758.83 L413.5,758.74 L413.0,758.65 L412.5,758.55 L412.0,758.46 L411.5,758.38 L411.0,758.29 L410.5,758.21 L410.0,758.13 L409.5,758.05 L409.0,757.98 L408.5,757.91 L408.0,757.84 L407.5,757.77 L407.0,757.70 L406.5,757.64 L406.0,757.57 L405.5,757.51 L405.0,757.45 L404.5,757.40 L404.0,757.34 L403.5,757.29 L403.0,757.25 L402.5,757.21 L402.0,757.17 L401.5,757.13 L401.0,757.10 L400.5,757.06 L400.0,757.03 L399.5,757.01 L399.0,756.98 L398.5,756.95 L398.0,756.93 L397.5,756.91 L397.0,756.88 L396.5,756.86 L396.0,756.85 L395.5,756.83 L395.0,756.82 L394.5,756.80 L394.0,756.79 L393.5,756.78 L393.0,756.77 L392.5,756.76 L392.0,756.75 L391.5,756.74 L391.0,756.74 L390.5,756.73 L390.0,756.72 L389.5,756.72 L389.0,756.71 L388.5,756.70 L388.0,756.70 L387.5,756.69 L387.0,756.68 L386.5,756.67 L386.0,756.67 L385.5,756.66 L385.0,756.65 L384.5,756.64 L384.0,756.63 L383.5,756.62 L383.0,756.61 L382.5,756.60 L382.0,756.59 L381.5,756.57 L381.0,756.56 L380.5,756.55 L380.0,756.54 L379.5,756.52 L379.0,756.51 L378.5,756.50 L378.0,756.49 L377.5,756.47 L377.0,756.46 L376.5,756.45 L376.0,756.43 L375.5,756.42 L375.0,756.41 L374.5,756.41 L374.0,756.40 L373.5,756.40 L373.0,756.40 L323.0,756.40Z" fill="#3274a1" stroke="#4a4a4a" stroke-width="1.25" stroke-linejoin="round"/>
<line x1="461.6" y1="465.80" x2="461.6" y2="480.20" stroke="#262626" stroke-opacity="0.80" stroke-width="1.0" stroke-dasharray="1.0 0.7"/>
<line x1="476.5" y1="455.76" x2="476.5" y2="490.24" stroke="#262626" stroke-opacity="0.85" stroke-width="1.0" stroke-dasharray="1.6 1.3"/>
<line x1="484.4" y1="456.82" x2="484.4" y2="489.18" stroke="#262626" stroke-opacity="0.80" stroke-width="1.0" stroke-dasharray="1.0 0.7"/>
<line x1="456.2" y1="505.23" x2="456.2" y2="535.17" stroke="#262626" stroke-opacity="0.80" stroke-width="1.0" stroke-dasharray="1.0 0.7"/>
<line x1="477.9" y1="502.09" x2="477.9" y2="538.31" stroke="#262626" stroke-opacity="0.85" stroke-width="1.0" stroke-dasharray="1.6 1.3"/>
<line x1="499.8" y1="502.70" x2="499.8" y2="537.70" stroke="#262626" stroke-opacity="0.80" stroke-width="1.0" stroke-dasharray="1.0 0.7"/>
<line x1="458.8" y1="553.80" x2="458.8" y2="581.00" stroke="#262626" stroke-opacity="0.80" stroke-width="1.0" stroke-dasharray="1.0 0.7"/>
<line x1="471.6" y1="549.45" x2="471.6" y2="585.35" stroke="#262626" stroke-opacity="0.85" stroke-width="1.0" stroke-dasharray="1.6 1.3"/>
<line x1="492.0" y1="559.90" x2="492.0" y2="574.90" stroke="#262626" stroke-opacity="0.80" stroke-width="1.0" stroke-dasharray="1.0 0.7"/>
<line x1="462.6" y1="599.87" x2="462.6" y2="629.33" stroke="#262626" stroke-opacity="0.80" stroke-width="1.0" stroke-dasharray="1.0 0.7"/>
<line x1="476.0" y1="595.67" x2="476.0" y2="633.53" stroke="#262626" stroke-opacity="0.85" stroke-width="1.0" stroke-dasharray="1.6 1.3"/>
<line x1="487.7" y1="596.32" x2="487.7" y2="632.88" stroke="#262626" stroke-opacity="0.80" stroke-width="1.0" stroke-dasharray="1.0 0.7"/>
<line x1="460.2" y1="645.78" x2="460.2" y2="677.82" stroke="#262626" stroke-opacity="0.80" stroke-width="1.0" stroke-dasharray="1.0 0.7"/>
<line x1="470.9" y1="644.25" x2="470.9" y2="679.35" stroke="#262626" stroke-opacity="0.85" stroke-width="1.0" stroke-dasharray="1.6 1.3"/>
<line x1="485.7" y1="650.20" x2="485.7" y2="673.40" stroke="#262626" stroke-opacity="0.80" stroke-width="1.0" stroke-dasharray="1.0 0.7"/>
<line x1="466.4" y1="697.39" x2="466.4" y2="720.61" stroke="#262626" stroke-opacity="0.80" stroke-width="1.0" stroke-dasharray="1.0 0.7"/>
<line x1="478.0" y1="691.20" x2="478.0" y2="726.80" stroke="#262626" stroke-opacity="0.85" stroke-width="1.0" stroke-dasharray="1.6 1.3"/>
<line x1="487.4" y1="695.21" x2="487.4" y2="722.79" stroke="#262626" stroke-opacity="0.80" stroke-width="1.0" stroke-dasharray="1.0 0.7"/>
<line x1="454.9" y1="747.00" x2="454.9" y2="765.40" stroke="#262626" stroke-opacity="0.80" stroke-width="1.0" stroke-dasharray="1.0 0.7"/>
<line x1="479.3" y1="741.98" x2="479.3" y2="770.42" stroke="#262626" stroke-opacity="0.85" stroke-width="1.0" stroke-dasharray="1.6 1.3"/>
<line x1="494.6" y1="737.67" x2="494.6" y2="774.73" stroke="#262626" stroke-opacity="0.80" stroke-width="1.0" stroke-dasharray="1.0 0.7"/>
<line x1="123.4" y1="437.8" x2="123.4" y2="791.6" stroke="#c4c4c4" stroke-opacity="0.6" stroke-width="0.8" stroke-dasharray="2.7 1.4"/>
<line x1="240.2" y1="437.8" x2="240.2" y2="791.6" stroke="#c4c4c4" stroke-opacity="0.6" stroke-width="0.8" stroke-dasharray="2.7 1.4"/>
<line x1="356.9" y1="437.8" x2="356.9" y2="791.6" stroke="#c4c4c4" stroke-opacity="0.6" stroke-width="0.8" stroke-dasharray="2.7 1.4"/>
<line x1="473.6" y1="437.8" x2="473.6" y2="791.6" stroke="#c4c4c4" stroke-opacity="0.6" stroke-width="0.8" stroke-dasharray="2.7 1.4"/>
<line x1="590.3" y1="437.8" x2="590.3" y2="791.6" stroke="#c4c4c4" stroke-opacity="0.6" stroke-width="0.8" stroke-dasharray="2.7 1.4"/>
<line x1="60.6" y1="473.0" x2="682.6" y2="473.0" stroke="#c4c4c4" stroke-opacity="0.6" stroke-width="0.8" stroke-dasharray="2.7 1.4"/>
<line x1="60.6" y1="520.2" x2="682.6" y2="520.2" stroke="#c4c4c4" stroke-opacity="0.6" stroke-width="0.8" stroke-dasharray="2.7 1.4"/>
<line x1="60.6" y1="567.4" x2="682.6" y2="567.4" stroke="#c4c4c4" stroke-opacity="0.6" stroke-width="0.8" stroke-dasharray="2.7 1.4"/>
<line x1="60.6" y1="614.6" x2="682.6" y2="614.6" stroke="#c4c4c4" stroke-opacity="0.6" stroke-width="0.8" stroke-dasharray="2.7 1.4"/>
<line x1="60.6" y1="661.8" x2="682.6" y2="661.8" stroke="#c4c4c4" stroke-opacity="0.6" stroke-width="0.8" stroke-dasharray="2.7 1.4"/>
<line x1="60.6" y1="709.0" x2="682.6" y2="709.0" stroke="#c4c4c4" stroke-opacity="0.6" stroke-width="0.8" stroke-dasharray="2.7 1.4"/>
<line x1="60.6" y1="756.2" x2="682.6" y2="756.2" stroke="#c4c4c4" stroke-opacity="0.6" stroke-width="0.8" stroke-dasharray="2.7 1.4"/>
<circle cx="473.9" cy="473.00" r="3.3" fill="#000"/>
<circle cx="473.8" cy="520.20" r="3.3" fill="#000"/>
<circle cx="471.6" cy="567.40" r="3.3" fill="#000"/>
<circle cx="474.5" cy="614.60" r="3.3" fill="#000"/>
<circle cx="473.7" cy="661.80" r="3.3" fill="#000"/>
<circle cx="475.1" cy="709.00" r="3.3" fill="#000"/>
<circle cx="472.4" cy="756.20" r="3.3" fill="#000"/>
<rect x="60.6" y="437.8" width="622.0" height="353.8" fill="none" stroke="#555" stroke-width="1.3"/>
<line x1="123.4" y1="791.6" x2="123.4" y2="795.1" stroke="#333" stroke-width="0.9"/>
<g class="tk" style="font-size:11.11px" text-anchor="middle"><text transform="translate(114.41 805.70) scale(1.180 1)" x="0" y="0">−</text><text transform="translate(121.37 805.70) scale(0.973 1)" x="0" y="0">1</text><text transform="translate(127.38 805.70) scale(0.973 1)" x="0" y="0">5</text><text transform="translate(133.40 805.70) scale(0.973 1)" x="0" y="0">0</text></g>
<line x1="240.2" y1="791.6" x2="240.2" y2="795.1" stroke="#333" stroke-width="0.9"/>
<g class="tk" style="font-size:11.11px" text-anchor="middle"><text transform="translate(231.13 805.70) scale(1.180 1)" x="0" y="0">−</text><text transform="translate(238.10 805.70) scale(0.973 1)" x="0" y="0">1</text><text transform="translate(244.11 805.70) scale(0.973 1)" x="0" y="0">0</text><text transform="translate(250.12 805.70) scale(0.973 1)" x="0" y="0">0</text></g>
<line x1="356.9" y1="791.6" x2="356.9" y2="795.1" stroke="#333" stroke-width="0.9"/>
<g class="tk" style="font-size:11.11px" text-anchor="middle"><text transform="translate(350.86 805.70) scale(1.180 1)" x="0" y="0">−</text><text transform="translate(357.83 805.70) scale(0.973 1)" x="0" y="0">5</text><text transform="translate(363.84 805.70) scale(0.973 1)" x="0" y="0">0</text></g>
<line x1="473.6" y1="791.6" x2="473.6" y2="795.1" stroke="#333" stroke-width="0.9"/>
<g class="tk" style="font-size:11.11px" text-anchor="middle"><text transform="translate(473.60 805.70) scale(0.973 1)" x="0" y="0">0</text></g>
<line x1="590.3" y1="791.6" x2="590.3" y2="795.1" stroke="#333" stroke-width="0.9"/>
<g class="tk" style="font-size:11.11px" text-anchor="middle"><text transform="translate(587.32 805.70) scale(0.973 1)" x="0" y="0">5</text><text transform="translate(593.33 805.70) scale(0.973 1)" x="0" y="0">0</text></g>
<line x1="57.1" y1="473.0" x2="60.6" y2="473.0" stroke="#333" stroke-width="0.9"/>
<g class="tk" style="font-size:11.11px" text-anchor="middle"><text transform="translate(19.07 476.60) scale(0.823 1)" x="0" y="0">C</text><text transform="translate(25.28 476.60) scale(0.941 1)" x="0" y="0">e</text><text transform="translate(32.79 476.60) scale(0.995 1)" x="0" y="0">m</text><text transform="translate(40.30 476.60) scale(0.941 1)" x="0" y="0">e</text><text transform="translate(46.20 476.60) scale(0.970 1)" x="0" y="0">n</text><text transform="translate(51.05 476.60) scale(1.180 1)" x="0" y="0">t</text></g>
<line x1="57.1" y1="520.2" x2="60.6" y2="520.2" stroke="#333" stroke-width="0.9"/>
<g class="tk" style="font-size:11.11px" text-anchor="middle"><text transform="translate(44.32 523.80) scale(0.851 1)" x="0" y="0">T</text><text transform="translate(50.05 523.80) scale(0.820 1)" x="0" y="0">P</text></g>
<line x1="57.1" y1="567.4" x2="60.6" y2="567.4" stroke="#333" stroke-width="0.9"/>
<g class="tk" style="font-size:11.11px" text-anchor="middle"><text transform="translate(43.72 571.00) scale(0.820 1)" x="0" y="0">F</text><text transform="translate(49.67 571.00) scale(0.873 1)" x="0" y="0">A</text></g>
<line x1="57.1" y1="614.6" x2="60.6" y2="614.6" stroke="#333" stroke-width="0.9"/>
<g class="tk" style="font-size:11.11px" text-anchor="middle"><text transform="translate(43.14 618.20) scale(0.823 1)" x="0" y="0">C</text><text transform="translate(49.67 618.20) scale(0.873 1)" x="0" y="0">A</text></g>
<line x1="57.1" y1="661.8" x2="60.6" y2="661.8" stroke="#333" stroke-width="0.9"/>
<g class="tk" style="font-size:11.11px" text-anchor="middle"><text transform="translate(29.03 665.40) scale(0.891 1)" x="0" y="0">W</text><text transform="translate(36.60 665.40) scale(0.938 1)" x="0" y="0">a</text><text transform="translate(41.35 665.40) scale(1.180 1)" x="0" y="0">t</text><text transform="translate(46.11 665.40) scale(0.941 1)" x="0" y="0">e</text><text transform="translate(50.96 665.40) scale(1.051 1)" x="0" y="0">r</text></g>
<line x1="57.1" y1="709.0" x2="60.6" y2="709.0" stroke="#333" stroke-width="0.9"/>
<g class="tk" style="font-size:11.11px" text-anchor="middle"><text transform="translate(34.46 712.60) scale(0.873 1)" x="0" y="0">A</text><text transform="translate(40.70 712.60) scale(0.971 1)" x="0" y="0">d</text><text transform="translate(48.30 712.60) scale(0.995 1)" x="0" y="0">m</text></g>
<line x1="57.1" y1="756.2" x2="60.6" y2="756.2" stroke="#333" stroke-width="0.9"/>
<g class="tk" style="font-size:11.11px" text-anchor="middle"><text transform="translate(35.50 759.80) scale(0.881 1)" x="0" y="0">M</text><text transform="translate(43.24 759.80) scale(0.848 1)" x="0" y="0">G</text><text transform="translate(49.90 759.80) scale(0.820 1)" x="0" y="0">S</text></g>
<g class="ti" style="font-size:13.25px" text-anchor="middle"><text transform="translate(253.95 431.40) scale(0.835 1)" x="0" y="0">S</text><text transform="translate(262.01 431.40) scale(0.913 1)" x="0" y="0">H</text><text transform="translate(270.35 431.40) scale(0.900 1)" x="0" y="0">A</text><text transform="translate(277.83 431.40) scale(0.820 1)" x="0" y="0">P</text><text transform="translate(289.00 431.40) scale(0.900 1)" x="0" y="0">V</text><text transform="translate(294.59 431.40) scale(1.097 1)" x="0" y="0">i</text><text transform="translate(299.76 431.40) scale(0.965 1)" x="0" y="0">o</text><text transform="translate(304.93 431.40) scale(1.097 1)" x="0" y="0">l</text><text transform="translate(308.15 431.40) scale(1.097 1)" x="0" y="0">i</text><text transform="translate(313.45 431.40) scale(1.000 1)" x="0" y="0">n</text><text transform="translate(324.33 431.40) scale(0.820 1)" x="0" y="0">P</text><text transform="translate(329.45 431.40) scale(1.097 1)" x="0" y="0">l</text><text transform="translate(334.62 431.40) scale(0.965 1)" x="0" y="0">o</text><text transform="translate(340.45 431.40) scale(1.180 1)" x="0" y="0">t</text><text transform="translate(348.47 431.40) scale(1.112 1)" x="0" y="0">f</text><text transform="translate(354.07 431.40) scale(0.965 1)" x="0" y="0">o</text><text transform="translate(360.01 431.40) scale(1.083 1)" x="0" y="0">r</text><text transform="translate(369.12 431.40) scale(0.914 1)" x="0" y="0">s</text><text transform="translate(373.76 431.40) scale(1.097 1)" x="0" y="0">l</text><text transform="translate(379.06 431.40) scale(1.000 1)" x="0" y="0">u</text><text transform="translate(388.40 431.40) scale(1.026 1)" x="0" y="0">m</text><text transform="translate(397.75 431.40) scale(1.001 1)" x="0" y="0">p</text><text transform="translate(407.17 431.40) scale(1.112 1)" x="0" y="0">f</text><text transform="translate(410.83 431.40) scale(1.097 1)" x="0" y="0">l</text><text transform="translate(416.00 431.40) scale(0.965 1)" x="0" y="0">o</text><text transform="translate(424.31 431.40) scale(0.993 1)" x="0" y="0">w</text><text transform="translate(436.26 431.40) scale(0.820 1)" x="0" y="0">P</text><text transform="translate(442.15 431.40) scale(1.083 1)" x="0" y="0">r</text><text transform="translate(448.11 431.40) scale(0.970 1)" x="0" y="0">e</text><text transform="translate(455.38 431.40) scale(1.001 1)" x="0" y="0">d</text><text transform="translate(460.68 431.40) scale(1.097 1)" x="0" y="0">i</text><text transform="translate(465.49 431.40) scale(0.965 1)" x="0" y="0">c</text><text transform="translate(470.96 431.40) scale(1.180 1)" x="0" y="0">t</text><text transform="translate(474.85 431.40) scale(1.097 1)" x="0" y="0">i</text><text transform="translate(480.02 431.40) scale(0.965 1)" x="0" y="0">o</text><text transform="translate(487.26 431.40) scale(1.000 1)" x="0" y="0">n</text></g>
<g class="tk" style="font-size:11.40px" text-anchor="middle"><text transform="translate(346.02 819.80) scale(0.820 1)" x="0" y="0">S</text><text transform="translate(352.75 819.80) scale(0.886 1)" x="0" y="0">H</text><text transform="translate(359.71 819.80) scale(0.873 1)" x="0" y="0">A</text><text transform="translate(365.95 819.80) scale(0.820 1)" x="0" y="0">P</text><text transform="translate(374.83 819.80) scale(1.007 1)" x="0" y="0">v</text><text transform="translate(380.67 819.80) scale(0.938 1)" x="0" y="0">a</text><text transform="translate(384.99 819.80) scale(1.064 1)" x="0" y="0">l</text><text transform="translate(389.42 819.80) scale(0.970 1)" x="0" y="0">u</text><text transform="translate(395.47 819.80) scale(0.941 1)" x="0" y="0">e</text></g>
<g transform="translate(9.90 616.20) rotate(-90)">
<g class="tk" style="font-size:10.93px" text-anchor="middle"><text transform="translate(-15.25 0.00) scale(0.820 1)" x="0" y="0">F</text><text transform="translate(-9.72 0.00) scale(0.941 1)" x="0" y="0">e</text><text transform="translate(-4.01 0.00) scale(0.938 1)" x="0" y="0">a</text><text transform="translate(0.67 0.00) scale(1.180 1)" x="0" y="0">t</text><text transform="translate(5.44 0.00) scale(0.970 1)" x="0" y="0">u</text><text transform="translate(10.29 0.00) scale(1.051 1)" x="0" y="0">r</text><text transform="translate(15.07 0.00) scale(0.941 1)" x="0" y="0">e</text></g>
</g>
<text x="370.6" y="844.6" text-anchor="middle" class="pn">b</text>
</svg>
</body></html>
